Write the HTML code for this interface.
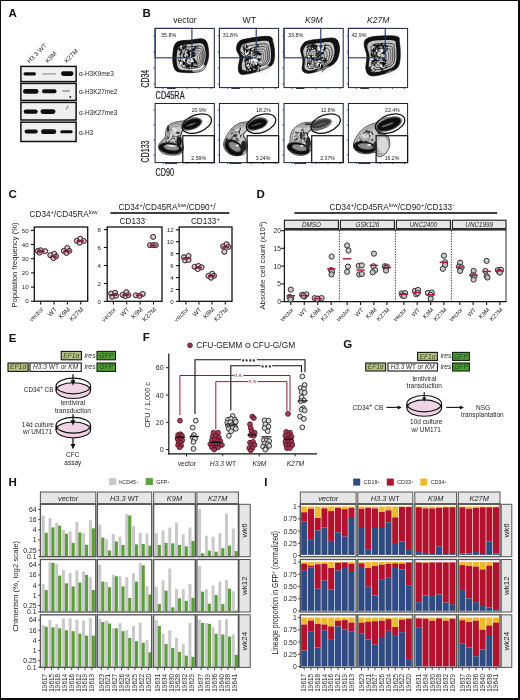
<!DOCTYPE html>
<html><head><meta charset="utf-8"><title>Figure</title>
<style>
html,body{margin:0;padding:0;background:#fff;}
.bd{position:absolute;background:#0a0a0a;}
body{width:520px;height:700px;overflow:hidden;position:relative;font-family:"Liberation Sans",sans-serif;}
svg{display:block;font-family:"Liberation Sans",sans-serif;filter:blur(0.35px);}
</style></head><body>
<svg width="520" height="700" viewBox="0 0 520 700">
<defs>
<filter id="b1" x="-20%" y="-50%" width="140%" height="200%"><feGaussianBlur stdDeviation="0.7"/></filter>
<filter id="b2" x="-20%" y="-50%" width="140%" height="200%"><feGaussianBlur stdDeviation="0.45"/></filter>
<filter id="b3" x="-20%" y="-20%" width="140%" height="140%"><feGaussianBlur stdDeviation="1.1"/></filter>
</defs>
<rect x="0.00" y="0.00" width="520.00" height="700.00" fill="#fff" stroke="none" stroke-width="1" />
<text x="8.60" y="17.20" font-size="11.5" text-anchor="start" font-weight="bold" font-style="normal" fill="#111" >A</text>
<text transform="translate(29.60,63.60) rotate(-45)" font-size="6.3" text-anchor="start" font-weight="normal" font-style="normal" fill="#222" >H3.3 WT</text>
<text transform="translate(47.80,63.20) rotate(-45)" font-size="6.3" text-anchor="start" font-weight="normal" font-style="normal" fill="#222" >K9M</text>
<text transform="translate(66.80,63.20) rotate(-45)" font-size="6.3" text-anchor="start" font-weight="normal" font-style="normal" fill="#222" >K27M</text>
<rect x="20.90" y="66.40" width="55.20" height="15.20" fill="#efefef" stroke="#111" stroke-width="1.5" />
<rect x="20.90" y="83.40" width="55.20" height="17.00" fill="#efefef" stroke="#111" stroke-width="1.5" />
<rect x="20.90" y="102.40" width="55.20" height="17.60" fill="#efefef" stroke="#111" stroke-width="1.5" />
<rect x="20.90" y="122.20" width="55.20" height="19.30" fill="#efefef" stroke="#111" stroke-width="1.5" />
<rect x="23.5" y="72.20" width="12.5" height="3.2" rx="1.6" fill="#111" opacity="1" filter="url(#b1)"/>
<rect x="42" y="73.20" width="14" height="1.4" rx="0.7" fill="#555" opacity="0.55" filter="url(#b1)"/>
<rect x="61" y="71.30" width="12.5" height="4.6" rx="2.3" fill="#111" opacity="1" filter="url(#b1)"/>
<rect x="62" y="72.10" width="10.5" height="3.0" rx="1.5" fill="#111" opacity="1" filter="url(#b1)"/>
<rect x="23" y="89.00" width="15.5" height="4.8" rx="2.4" fill="#111" opacity="1" filter="url(#b1)"/>
<rect x="24" y="89.80" width="13.5" height="3.2" rx="1.6" fill="#111" opacity="1" filter="url(#b1)"/>
<rect x="42" y="89.35" width="14.5" height="3.9" rx="1.95" fill="#111" opacity="1" filter="url(#b1)"/>
<rect x="43" y="90.20" width="12.5" height="2.2" rx="1.1" fill="#111" opacity="1" filter="url(#b1)"/>
<rect x="62" y="90.30" width="8" height="1.4" rx="0.7" fill="#555" opacity="0.6" filter="url(#b1)"/>
<circle cx="70.30" cy="97.00" r="1.0" fill="#222" stroke="none" stroke-width="1" filter="url(#b2)"/>
<rect x="23.7" y="109.40" width="14.000000000000004" height="4.4" rx="2.2" fill="#111" opacity="1" filter="url(#b1)"/>
<rect x="24.7" y="110.20" width="12.000000000000004" height="2.8" rx="1.4" fill="#111" opacity="1" filter="url(#b1)"/>
<rect x="40.5" y="109.30" width="14.899999999999999" height="4.6" rx="2.3" fill="#111" opacity="1" filter="url(#b1)"/>
<rect x="41.5" y="110.10" width="12.899999999999999" height="3.0" rx="1.5" fill="#111" opacity="1" filter="url(#b1)"/>
<line x1="66" y1="109.5" x2="68.5" y2="105.8" stroke="#777" stroke-width="1.6" opacity="0.6" filter="url(#b2)"/>
<rect x="24.6" y="129.60" width="13.100000000000001" height="4.0" rx="2.0" fill="#111" opacity="1" filter="url(#b1)"/>
<rect x="25.6" y="130.40" width="11.100000000000001" height="2.4" rx="1.2" fill="#111" opacity="1" filter="url(#b1)"/>
<rect x="41" y="129.30" width="15.299999999999997" height="4.8" rx="2.4" fill="#111" opacity="1" filter="url(#b1)"/>
<rect x="42" y="130.20" width="13.299999999999997" height="3.0" rx="1.5" fill="#111" opacity="1" filter="url(#b1)"/>
<rect x="60.2" y="130.30" width="12.5" height="3.0" rx="1.5" fill="#111" opacity="1" filter="url(#b1)"/>
<text x="79.00" y="75.80" font-size="6.5" text-anchor="start" font-weight="normal" font-style="normal" fill="#222" >α-H3K9me3</text>
<text x="79.00" y="93.80" font-size="6.5" text-anchor="start" font-weight="normal" font-style="normal" fill="#222" >α-H3K27me2</text>
<text x="79.00" y="114.60" font-size="6.5" text-anchor="start" font-weight="normal" font-style="normal" fill="#222" >α-H3K27me3</text>
<text x="79.00" y="134.90" font-size="6.5" text-anchor="start" font-weight="normal" font-style="normal" fill="#222" >α-H3</text>
<text x="142.60" y="17.00" font-size="11.5" text-anchor="start" font-weight="bold" font-style="normal" fill="#111" >B</text>
<text x="185.00" y="23.40" font-size="8.6" text-anchor="middle" font-weight="normal" font-style="normal" fill="#222" >vector</text>
<text x="249.30" y="23.40" font-size="8.6" text-anchor="middle" font-weight="normal" font-style="normal" fill="#222" >WT</text>
<text x="313.90" y="23.40" font-size="8.6" text-anchor="middle" font-weight="normal" font-style="italic" fill="#222" >K9M</text>
<text x="378.30" y="23.40" font-size="8.6" text-anchor="middle" font-weight="normal" font-style="italic" fill="#222" >K27M</text>
<text transform="translate(149.20,87.60) rotate(-90) scale(0.66,1)" font-size="10.5" text-anchor="start" font-weight="normal" font-style="normal" fill="#222" stroke="#222" stroke-width="0.2">CD34</text>
<text transform="translate(155.60,99.20) rotate(0) scale(0.7,1)" font-size="10.5" text-anchor="start" font-weight="normal" font-style="normal" fill="#222" stroke="#222" stroke-width="0.2">CD45RA</text>
<text transform="translate(149.20,162.40) rotate(-90) scale(0.67,1)" font-size="10.5" text-anchor="start" font-weight="normal" font-style="normal" fill="#222" stroke="#222" stroke-width="0.2">CD133</text>
<text transform="translate(155.60,175.80) rotate(0) scale(0.69,1)" font-size="10.5" text-anchor="start" font-weight="normal" font-style="normal" fill="#222" stroke="#222" stroke-width="0.2">CD90</text>
<path d="M176.9,42.2C179.8,40.3 185.8,40.5 190.4,40.1C195.0,39.6 201.5,37.8 204.5,39.5C207.5,41.3 208.1,46.7 208.5,50.6C209.0,54.4 208.5,59.2 207.2,62.7C205.9,66.2 205.1,69.9 200.5,71.4C195.9,73.0 184.1,73.0 179.6,72.1C175.1,71.2 174.6,69.4 173.6,66.0C172.5,62.7 172.6,55.9 173.1,51.9C173.7,47.9 174.0,44.2 176.9,42.2Z" fill="#0a0a0a" stroke="none" stroke-width="1" filter="url(#b2)"/>
<path d="M180.0,45.9C182.3,44.3 187.2,44.5 190.9,44.1C194.6,43.8 199.9,42.3 202.3,43.7C204.8,45.1 205.2,49.5 205.6,52.6C206.0,55.8 205.6,59.6 204.5,62.5C203.4,65.3 202.8,68.3 199.1,69.5C195.3,70.8 185.8,70.8 182.2,70.1C178.5,69.4 178.1,67.9 177.2,65.2C176.4,62.5 176.5,57.0 176.9,53.7C177.4,50.5 177.6,47.5 180.0,45.9Z" fill="#c2c2c2" stroke="none" stroke-width="1" filter="url(#b2)"/>
<ellipse cx="199.34" cy="68.85" rx="7.5" ry="3.6" fill="#f4f4f4" stroke="none" stroke-width="1" transform="rotate(-18 199.34 68.85)" filter="url(#b1)"/>
<path d="M176.9,42.2C179.8,40.3 185.8,40.5 190.4,40.1C195.0,39.6 201.5,37.8 204.5,39.5C207.5,41.3 208.1,46.7 208.5,50.6C209.0,54.4 208.5,59.2 207.2,62.7C205.9,66.2 205.1,69.9 200.5,71.4C195.9,73.0 184.1,73.0 179.6,72.1C175.1,71.2 174.6,69.4 173.6,66.0C172.5,62.7 172.6,55.9 173.1,51.9C173.7,47.9 174.0,44.2 176.9,42.2Z" fill="none" stroke="#111" stroke-width="0.7" />
<path d="M178.1,43.3C180.7,41.5 186.3,41.7 190.6,41.3C194.9,40.9 200.9,39.2 203.7,40.8C206.5,42.5 207.1,47.5 207.5,51.1C207.9,54.7 207.5,59.1 206.2,62.4C205.0,65.6 204.2,69.0 200.0,70.5C195.7,72.0 184.7,72.0 180.6,71.1C176.4,70.3 175.9,68.6 174.9,65.5C173.9,62.4 174.0,56.0 174.6,52.3C175.1,48.7 175.4,45.2 178.1,43.3Z" fill="none" stroke="#222" stroke-width="0.45" />
<path d="M179.1,44.3C181.6,42.6 186.8,42.8 190.8,42.4C194.8,42.0 200.5,40.4 203.1,42.0C205.7,43.5 206.2,48.2 206.6,51.6C207.0,54.9 206.6,59.1 205.4,62.1C204.3,65.1 203.6,68.4 199.6,69.7C195.6,71.1 185.3,71.1 181.4,70.3C177.5,69.5 177.1,68.0 176.2,65.0C175.2,62.1 175.3,56.2 175.8,52.7C176.3,49.3 176.6,46.0 179.1,44.3Z" fill="none" stroke="#222" stroke-width="0.4" />
<path d="M183.3,48.1C185.2,46.8 189.2,47.0 192.2,46.7C195.2,46.4 199.5,45.2 201.5,46.4C203.5,47.5 203.9,51.1 204.2,53.6C204.5,56.2 204.2,59.3 203.3,61.6C202.4,63.9 201.9,66.4 198.9,67.4C195.8,68.4 188.1,68.4 185.1,67.9C182.1,67.3 181.8,66.1 181.1,63.9C180.4,61.6 180.5,57.1 180.8,54.5C181.2,51.9 181.4,49.4 183.3,48.1Z" fill="none" stroke="#161616" stroke-width="0.8" />
<path d="M185.8,50.2C187.3,49.1 190.5,49.3 193.0,49.0C195.5,48.8 199.0,47.8 200.7,48.7C202.3,49.7 202.6,52.6 202.8,54.7C203.1,56.8 202.8,59.4 202.1,61.2C201.4,63.1 201.0,65.1 198.5,66.0C196.0,66.8 189.6,66.8 187.2,66.3C184.8,65.8 184.5,64.9 183.9,63.0C183.4,61.2 183.4,57.6 183.7,55.4C184.0,53.3 184.2,51.3 185.8,50.2Z" fill="none" stroke="#161616" stroke-width="0.7" />
<path d="M188.0,52.1C189.2,51.3 191.7,51.4 193.6,51.2C195.6,51.0 198.3,50.3 199.6,51.0C200.8,51.7 201.1,54.0 201.3,55.6C201.5,57.3 201.3,59.3 200.7,60.7C200.1,62.2 199.8,63.7 197.9,64.4C195.9,65.1 191.0,65.1 189.1,64.7C187.2,64.3 187.0,63.6 186.6,62.1C186.1,60.7 186.2,57.9 186.4,56.2C186.6,54.5 186.8,53.0 188.0,52.1Z" fill="none" stroke="#161616" stroke-width="0.6" />
<path d="M190.0,54.1C190.9,53.5 192.7,53.6 194.1,53.4C195.4,53.3 197.4,52.8 198.3,53.3C199.2,53.8 199.4,55.4 199.5,56.6C199.6,57.8 199.5,59.2 199.1,60.2C198.7,61.3 198.5,62.4 197.1,62.9C195.7,63.3 192.2,63.3 190.8,63.1C189.5,62.8 189.3,62.2 189.0,61.2C188.7,60.2 188.7,58.2 188.9,57.0C189.1,55.8 189.2,54.7 190.0,54.1Z" fill="none" stroke="#161616" stroke-width="0.5" />
<path d="M191.8,55.8C192.4,55.5 193.4,55.5 194.3,55.5C195.1,55.4 196.3,55.0 196.8,55.4C197.4,55.7 197.5,56.7 197.5,57.3C197.6,58.0 197.5,58.9 197.3,59.5C197.0,60.2 196.9,60.8 196.1,61.1C195.3,61.4 193.1,61.4 192.3,61.2C191.5,61.1 191.4,60.7 191.2,60.1C191.0,59.5 191.1,58.3 191.2,57.6C191.3,56.9 191.3,56.2 191.8,55.8Z" fill="none" stroke="#161616" stroke-width="0.4" />
<path d="M184.3,49.4q0.6,-1.7 0.3,-0.9" fill="none" stroke="#0a0a0a" stroke-width="0.9" opacity="0.9" filter="url(#b2)"/>
<path d="M193.7,50.8q-1.7,-0.3 -1.8,0.4" fill="none" stroke="#0a0a0a" stroke-width="0.9" opacity="0.9" filter="url(#b2)"/>
<path d="M192.3,48.8q-1.1,0.5 3.1,0.5" fill="none" stroke="#0a0a0a" stroke-width="1.3" opacity="0.9" filter="url(#b2)"/>
<path d="M180.0,50.9q0.2,-1.5 -0.6,0.3" fill="none" stroke="#0a0a0a" stroke-width="1.8" opacity="0.9" filter="url(#b2)"/>
<path d="M184.1,64.1q-1.3,0.3 1.0,-0.9" fill="none" stroke="#0a0a0a" stroke-width="1.8" opacity="0.9" filter="url(#b2)"/>
<path d="M190.5,58.5q0.5,-0.0 0.2,1.9" fill="none" stroke="#0a0a0a" stroke-width="1.3" opacity="0.9" filter="url(#b2)"/>
<path d="M188.5,56.1q-0.8,1.2 1.4,-1.8" fill="none" stroke="#0a0a0a" stroke-width="1.8" opacity="0.9" filter="url(#b2)"/>
<path d="M183.9,57.0q-0.6,-0.2 0.8,-3.0" fill="none" stroke="#0a0a0a" stroke-width="1.8" opacity="0.9" filter="url(#b2)"/>
<path d="M185.8,62.8q-1.4,-0.0 -3.2,1.2" fill="none" stroke="#0a0a0a" stroke-width="1.8" opacity="0.9" filter="url(#b2)"/>
<path d="M188.3,65.4q-0.7,0.8 0.7,0.6" fill="none" stroke="#0a0a0a" stroke-width="1.3" opacity="0.9" filter="url(#b2)"/>
<path d="M180.3,48.1q-0.9,0.8 -3.0,1.6" fill="none" stroke="#0a0a0a" stroke-width="1.3" opacity="0.9" filter="url(#b2)"/>
<path d="M189.5,68.0q1.3,-0.9 -0.8,1.2" fill="none" stroke="#0a0a0a" stroke-width="0.9" opacity="0.9" filter="url(#b2)"/>
<path d="M194.2,53.9q0.4,-0.0 -2.0,-1.5" fill="none" stroke="#0a0a0a" stroke-width="1.8" opacity="0.9" filter="url(#b2)"/>
<path d="M183.1,54.7q1.5,-1.7 -0.4,0.3" fill="none" stroke="#0a0a0a" stroke-width="0.9" opacity="0.9" filter="url(#b2)"/>
<path d="M192.2,65.2q-0.9,-0.3 -1.0,2.7" fill="none" stroke="#0a0a0a" stroke-width="0.9" opacity="0.9" filter="url(#b2)"/>
<path d="M181.6,50.0q-1.1,-1.1 -0.1,0.6" fill="none" stroke="#0a0a0a" stroke-width="1.3" opacity="0.9" filter="url(#b2)"/>
<path d="M183.7,49.3q0.1,0.4 -1.3,-2.6" fill="none" stroke="#0a0a0a" stroke-width="1.8" opacity="0.9" filter="url(#b2)"/>
<path d="M194.3,60.6q1.0,-0.2 2.6,3.2" fill="none" stroke="#0a0a0a" stroke-width="1.8" opacity="0.9" filter="url(#b2)"/>
<path d="M191.9,54.7q-0.4,-1.6 0.9,-3.1" fill="none" stroke="#0a0a0a" stroke-width="0.9" opacity="0.9" filter="url(#b2)"/>
<path d="M194.9,55.8q-1.6,0.4 -2.8,0.5" fill="none" stroke="#0a0a0a" stroke-width="1.8" opacity="0.9" filter="url(#b2)"/>
<path d="M180.8,54.1q-1.9,1.5 0.8,-2.5" fill="none" stroke="#0a0a0a" stroke-width="1.3" opacity="0.9" filter="url(#b2)"/>
<path d="M194.4,59.4q-0.1,-1.5 -0.1,3.3" fill="none" stroke="#0a0a0a" stroke-width="1.3" opacity="0.9" filter="url(#b2)"/>
<path d="M186.9,48.0q-1.6,-0.6 -1.6,2.3" fill="none" stroke="#0a0a0a" stroke-width="0.9" opacity="0.9" filter="url(#b2)"/>
<path d="M187.4,50.6q1.8,-0.6 1.3,2.9" fill="none" stroke="#0a0a0a" stroke-width="1.8" opacity="0.9" filter="url(#b2)"/>
<path d="M183.9,60.3q-1.6,1.4 0.1,2.9" fill="none" stroke="#0a0a0a" stroke-width="1.3" opacity="0.9" filter="url(#b2)"/>
<path d="M191.5,57.8q1.1,-0.7 -1.9,2.2" fill="none" stroke="#0a0a0a" stroke-width="0.9" opacity="0.9" filter="url(#b2)"/>
<path d="M192.0,64.2q1.0,-1.1 0.1,-1.0" fill="none" stroke="#0a0a0a" stroke-width="0.9" opacity="0.9" filter="url(#b2)"/>
<path d="M194.9,63.5q-0.1,-1.2 0.7,-1.1" fill="none" stroke="#0a0a0a" stroke-width="1.8" opacity="0.9" filter="url(#b2)"/>
<path d="M194.9,67.2q-0.5,-1.1 -1.9,-2.1" fill="none" stroke="#0a0a0a" stroke-width="0.9" opacity="0.9" filter="url(#b2)"/>
<path d="M186.9,67.9q0.4,-2.0 2.9,-1.1" fill="none" stroke="#0a0a0a" stroke-width="1.8" opacity="0.9" filter="url(#b2)"/>
<path d="M180.5,60.7q1.6,1.1 1.8,-0.2" fill="none" stroke="#0a0a0a" stroke-width="0.9" opacity="0.9" filter="url(#b2)"/>
<path d="M186.1,60.1q-1.7,1.8 1.6,-0.3" fill="none" stroke="#0a0a0a" stroke-width="1.8" opacity="0.9" filter="url(#b2)"/>
<path d="M194.2,62.1q-1.3,-1.5 -2.4,2.8" fill="none" stroke="#0a0a0a" stroke-width="1.8" opacity="0.9" filter="url(#b2)"/>
<path d="M181.5,64.4q1.9,0.6 -1.0,0.3" fill="none" stroke="#0a0a0a" stroke-width="0.9" opacity="0.9" filter="url(#b2)"/>
<path d="M179.5,63.8q0.9,-1.6 1.7,-2.5" fill="none" stroke="#0a0a0a" stroke-width="0.9" opacity="0.9" filter="url(#b2)"/>
<path d="M192.3,50.7q-1.0,-0.8 -1.8,0.6" fill="none" stroke="#0a0a0a" stroke-width="1.3" opacity="0.9" filter="url(#b2)"/>
<path d="M187.8,64.5q-1.8,1.0 2.8,1.1" fill="none" stroke="#0a0a0a" stroke-width="1.8" opacity="0.9" filter="url(#b2)"/>
<path d="M185.9,66.4q0.0,0.1 0.2,-3.4" fill="none" stroke="#0a0a0a" stroke-width="1.3" opacity="0.9" filter="url(#b2)"/>
<path d="M191.5,59.5q1.1,-1.4 -2.5,0.8" fill="none" stroke="#0a0a0a" stroke-width="0.9" opacity="0.9" filter="url(#b2)"/>
<path d="M188.0,53.3q0.1,0.2 2.0,-2.8" fill="none" stroke="#0a0a0a" stroke-width="1.8" opacity="0.9" filter="url(#b2)"/>
<path d="M180.1,50.3q-1.8,-1.6 -0.3,-3.3" fill="none" stroke="#0a0a0a" stroke-width="0.9" opacity="0.9" filter="url(#b2)"/>
<path d="M186.2,59.6q0.0,0.0 1.3,-0.3" fill="none" stroke="#0a0a0a" stroke-width="1.8" opacity="0.9" filter="url(#b2)"/>
<path d="M192.0,57.3q-1.0,0.1 2.6,3.0" fill="none" stroke="#0a0a0a" stroke-width="1.8" opacity="0.9" filter="url(#b2)"/>
<path d="M193.4,50.5q-0.2,-0.3 -0.8,-1.3" fill="none" stroke="#0a0a0a" stroke-width="1.8" opacity="0.9" filter="url(#b2)"/>
<path d="M183.0,47.7q0.7,1.1 2.8,-2.4" fill="none" stroke="#0a0a0a" stroke-width="1.8" opacity="0.9" filter="url(#b2)"/>
<path d="M189.4,54.2q-1.0,-1.5 -0.2,1.7" fill="none" stroke="#0a0a0a" stroke-width="0.9" opacity="0.9" filter="url(#b2)"/>
<path d="M185.5,56.8q2.0,1.3 -2.4,-0.5" fill="none" stroke="#0a0a0a" stroke-width="1.8" opacity="0.9" filter="url(#b2)"/>
<path d="M185.6,55.4q-0.6,-1.6 -0.9,-1.1" fill="none" stroke="#0a0a0a" stroke-width="1.3" opacity="0.9" filter="url(#b2)"/>
<path d="M186.2,46.5q-0.7,0.5 0.1,-3.0" fill="none" stroke="#0a0a0a" stroke-width="0.9" opacity="0.9" filter="url(#b2)"/>
<path d="M194.6,48.4q-0.9,-1.8 2.0,-1.6" fill="none" stroke="#0a0a0a" stroke-width="0.9" opacity="0.9" filter="url(#b2)"/>
<path d="M192.2,64.9q0.7,1.8 -0.7,0.3" fill="none" stroke="#0a0a0a" stroke-width="1.8" opacity="0.9" filter="url(#b2)"/>
<path d="M188.3,61.6q-1.6,-1.8 1.3,-0.5" fill="none" stroke="#0a0a0a" stroke-width="0.9" opacity="0.9" filter="url(#b2)"/>
<path d="M183.5,46.4q-1.6,-1.0 0.8,-1.9" fill="none" stroke="#0a0a0a" stroke-width="1.3" opacity="0.9" filter="url(#b2)"/>
<path d="M192.9,56.1q-0.6,0.2 3.0,-1.6" fill="none" stroke="#0a0a0a" stroke-width="0.9" opacity="0.9" filter="url(#b2)"/>
<path d="M179.9,61.8q1.8,1.9 -1.7,-2.2" fill="none" stroke="#0a0a0a" stroke-width="1.3" opacity="0.9" filter="url(#b2)"/>
<path d="M189.2,57.8q-1.2,-0.2 1.2,-1.6" fill="none" stroke="#0a0a0a" stroke-width="0.9" opacity="0.9" filter="url(#b2)"/>
<path d="M195.0,46.9q-1.9,0.0 3.3,0.1" fill="none" stroke="#0a0a0a" stroke-width="0.9" opacity="0.9" filter="url(#b2)"/>
<path d="M194.1,48.4q1.3,-0.3 -0.0,2.3" fill="none" stroke="#0a0a0a" stroke-width="1.3" opacity="0.9" filter="url(#b2)"/>
<path d="M194.6,52.9q-1.1,-1.1 -2.1,2.7" fill="none" stroke="#0a0a0a" stroke-width="1.8" opacity="0.9" filter="url(#b2)"/>
<path d="M189.3,55.0q-0.6,-1.8 -2.6,-3.0" fill="none" stroke="#0a0a0a" stroke-width="1.8" opacity="0.9" filter="url(#b2)"/>
<path d="M193.2,55.6q-1.8,0.7 -0.8,0.0" fill="none" stroke="#0a0a0a" stroke-width="1.3" opacity="0.9" filter="url(#b2)"/>
<path d="M188.7,61.4q-1.8,-1.3 -1.6,-3.5" fill="none" stroke="#0a0a0a" stroke-width="1.3" opacity="0.9" filter="url(#b2)"/>
<path d="M194.5,67.6q0.2,-1.0 3.3,-1.3" fill="none" stroke="#0a0a0a" stroke-width="1.3" opacity="0.9" filter="url(#b2)"/>
<path d="M182.1,53.5q-1.7,-0.9 1.1,-1.8" fill="none" stroke="#0a0a0a" stroke-width="0.9" opacity="0.9" filter="url(#b2)"/>
<path d="M181.5,63.6q-1.1,0.3 -0.6,-1.1" fill="none" stroke="#f2f2f2" stroke-width="1.9" filter="url(#b2)" stroke-linecap="round"/>
<path d="M183.5,59.1q0.1,0.8 0.9,1.2" fill="none" stroke="#f2f2f2" stroke-width="1.9" filter="url(#b2)" stroke-linecap="round"/>
<path d="M185.7,54.1q1.5,-1.1 1.3,0.8" fill="none" stroke="#f2f2f2" stroke-width="1.0" filter="url(#b2)" stroke-linecap="round"/>
<path d="M191.9,61.7q0.0,-0.2 1.1,0.0" fill="none" stroke="#f2f2f2" stroke-width="1.9" filter="url(#b2)" stroke-linecap="round"/>
<path d="M190.9,58.8q0.9,-1.5 1.0,1.7" fill="none" stroke="#f2f2f2" stroke-width="1.9" filter="url(#b2)" stroke-linecap="round"/>
<path d="M189.9,61.2q-0.8,-1.4 -2.1,-0.8" fill="none" stroke="#f2f2f2" stroke-width="1.0" filter="url(#b2)" stroke-linecap="round"/>
<path d="M185.6,56.5q-1.3,-1.4 0.2,-1.4" fill="none" stroke="#f2f2f2" stroke-width="1.4" filter="url(#b2)" stroke-linecap="round"/>
<path d="M180.3,63.3q0.7,0.0 0.2,0.9" fill="none" stroke="#f2f2f2" stroke-width="1.0" filter="url(#b2)" stroke-linecap="round"/>
<path d="M190.8,56.9q0.9,1.0 -1.5,1.4" fill="none" stroke="#f2f2f2" stroke-width="1.0" filter="url(#b2)" stroke-linecap="round"/>
<path d="M190.7,66.7q-0.0,-0.4 -0.1,1.0" fill="none" stroke="#f2f2f2" stroke-width="1.0" filter="url(#b2)" stroke-linecap="round"/>
<path d="M189.0,60.2q-1.3,-1.1 -1.4,1.4" fill="none" stroke="#f2f2f2" stroke-width="1.4" filter="url(#b2)" stroke-linecap="round"/>
<path d="M189.0,50.3q-0.1,-0.0 2.6,-2.2" fill="none" stroke="#f2f2f2" stroke-width="1.0" filter="url(#b2)" stroke-linecap="round"/>
<rect x="155.10" y="28.40" width="59.20" height="59.20" fill="none" stroke="#1b2140" stroke-width="1.0" />
<rect x="155.10" y="28.40" width="36.80" height="29.40" fill="none" stroke="#27345e" stroke-width="1.1" />
<line x1="153.50" y1="36.00" x2="155.10" y2="36.00" stroke="#1b2140" stroke-width="0.7" />
<line x1="153.50" y1="52.00" x2="155.10" y2="52.00" stroke="#1b2140" stroke-width="0.7" />
<line x1="153.50" y1="68.00" x2="155.10" y2="68.00" stroke="#1b2140" stroke-width="0.7" />
<line x1="153.50" y1="84.00" x2="155.10" y2="84.00" stroke="#1b2140" stroke-width="0.7" />
<line x1="163.10" y1="87.60" x2="163.10" y2="89.00" stroke="#1b2140" stroke-width="0.7" />
<line x1="175.10" y1="87.60" x2="175.10" y2="89.00" stroke="#1b2140" stroke-width="0.7" />
<line x1="187.10" y1="87.60" x2="187.10" y2="89.00" stroke="#1b2140" stroke-width="0.7" />
<line x1="199.10" y1="87.60" x2="199.10" y2="89.00" stroke="#1b2140" stroke-width="0.7" />
<line x1="211.10" y1="87.60" x2="211.10" y2="89.00" stroke="#1b2140" stroke-width="0.7" />
<line x1="167.10" y1="88.50" x2="175.10" y2="88.50" stroke="#1b2140" stroke-width="0.9" />
<path d="M239.2,41.4C241.2,39.6 243.7,39.3 248.6,38.5C253.6,37.6 264.8,35.8 268.8,36.4C272.9,37.1 272.2,39.2 273.1,42.5C274.1,45.7 274.8,52.1 274.5,56.0C274.2,59.8 274.0,62.9 271.5,65.4C269.0,67.9 264.3,69.5 259.4,71.0C254.5,72.5 245.4,74.9 241.9,74.4C238.4,73.9 238.6,70.9 238.3,68.1C237.9,65.2 240.2,60.4 239.9,57.3C239.6,54.2 236.6,51.9 236.5,49.2C236.4,46.6 237.2,43.2 239.2,41.4Z" fill="#0a0a0a" stroke="none" stroke-width="1" filter="url(#b2)"/>
<path d="M242.5,44.8C244.1,43.3 246.1,43.1 250.1,42.4C254.1,41.7 263.2,40.2 266.5,40.8C269.8,41.3 269.2,43.0 269.9,45.7C270.7,48.3 271.3,53.5 271.0,56.6C270.8,59.7 270.7,62.2 268.6,64.2C266.6,66.2 262.8,67.6 258.8,68.8C254.8,70.0 247.5,71.9 244.7,71.5C241.8,71.1 242.0,68.7 241.7,66.4C241.4,64.1 243.3,60.2 243.0,57.7C242.8,55.1 240.4,53.3 240.3,51.1C240.2,49.0 240.8,46.3 242.5,44.8Z" fill="#c2c2c2" stroke="none" stroke-width="1" filter="url(#b2)"/>
<ellipse cx="263.86" cy="69.84" rx="7.5" ry="3.8" fill="#f4f4f4" stroke="none" stroke-width="1" transform="rotate(-18 263.86 69.84)" filter="url(#b1)"/>
<path d="M239.2,41.4C241.2,39.6 243.7,39.3 248.6,38.5C253.6,37.6 264.8,35.8 268.8,36.4C272.9,37.1 272.2,39.2 273.1,42.5C274.1,45.7 274.8,52.1 274.5,56.0C274.2,59.8 274.0,62.9 271.5,65.4C269.0,67.9 264.3,69.5 259.4,71.0C254.5,72.5 245.4,74.9 241.9,74.4C238.4,73.9 238.6,70.9 238.3,68.1C237.9,65.2 240.2,60.4 239.9,57.3C239.6,54.2 236.6,51.9 236.5,49.2C236.4,46.6 237.2,43.2 239.2,41.4Z" fill="none" stroke="#111" stroke-width="0.7" />
<path d="M240.4,42.5C242.3,40.9 244.6,40.6 249.2,39.8C253.8,39.0 264.2,37.3 268.0,37.9C271.8,38.5 271.1,40.5 272.0,43.5C272.9,46.6 273.5,52.5 273.2,56.1C273.0,59.6 272.8,62.5 270.5,64.8C268.2,67.2 263.8,68.7 259.2,70.1C254.6,71.5 246.2,73.7 243.0,73.2C239.7,72.7 239.9,70.0 239.6,67.3C239.3,64.7 241.3,60.2 241.1,57.3C240.8,54.4 238.0,52.3 237.9,49.8C237.8,47.3 238.6,44.2 240.4,42.5Z" fill="none" stroke="#222" stroke-width="0.45" />
<path d="M241.5,43.5C243.3,42.0 245.4,41.7 249.7,41.0C254.0,40.2 263.7,38.6 267.3,39.2C270.8,39.8 270.2,41.6 271.0,44.5C271.8,47.3 272.4,52.9 272.2,56.2C272.0,59.5 271.8,62.2 269.6,64.4C267.4,66.6 263.4,68.0 259.1,69.3C254.8,70.6 246.9,72.6 243.9,72.2C240.8,71.8 241.0,69.2 240.7,66.7C240.4,64.2 242.4,60.1 242.1,57.3C241.9,54.6 239.3,52.6 239.2,50.3C239.1,48.0 239.8,45.1 241.5,43.5Z" fill="none" stroke="#222" stroke-width="0.4" />
<path d="M246.0,47.2C247.3,46.1 248.9,45.8 252.2,45.3C255.5,44.7 262.8,43.5 265.5,44.0C268.2,44.4 267.7,45.8 268.4,47.9C269.0,50.1 269.4,54.3 269.3,56.8C269.1,59.3 269.0,61.4 267.3,63.0C265.6,64.7 262.6,65.8 259.3,66.8C256.1,67.8 250.1,69.3 247.8,69.0C245.4,68.7 245.6,66.7 245.4,64.8C245.1,62.9 246.6,59.8 246.4,57.7C246.2,55.6 244.3,54.1 244.2,52.4C244.1,50.6 244.7,48.4 246.0,47.2Z" fill="none" stroke="#161616" stroke-width="0.8" />
<path d="M248.5,49.3C249.6,48.3 251.0,48.1 253.6,47.7C256.3,47.2 262.3,46.2 264.5,46.6C266.7,46.9 266.3,48.1 266.8,49.8C267.4,51.6 267.7,55.1 267.6,57.1C267.4,59.2 267.3,60.8 266.0,62.2C264.6,63.6 262.1,64.4 259.4,65.3C256.8,66.1 251.9,67.3 250.0,67.1C248.1,66.8 248.2,65.2 248.0,63.7C247.8,62.1 249.1,59.5 248.9,57.8C248.7,56.1 247.1,54.9 247.1,53.5C247.0,52.1 247.4,50.2 248.5,49.3Z" fill="none" stroke="#161616" stroke-width="0.7" />
<path d="M250.9,51.2C251.7,50.4 252.8,50.3 254.8,50.0C256.9,49.6 261.6,48.8 263.3,49.1C265.0,49.4 264.7,50.3 265.1,51.7C265.5,53.0 265.8,55.7 265.7,57.3C265.6,58.9 265.5,60.2 264.5,61.3C263.4,62.3 261.4,63.0 259.4,63.6C257.3,64.3 253.5,65.3 252.0,65.1C250.5,64.8 250.6,63.6 250.5,62.4C250.3,61.2 251.3,59.2 251.2,57.9C251.0,56.6 249.8,55.6 249.8,54.5C249.7,53.4 250.0,52.0 250.9,51.2Z" fill="none" stroke="#161616" stroke-width="0.6" />
<path d="M253.0,53.1C253.6,52.6 254.4,52.5 255.9,52.3C257.3,52.0 260.7,51.4 261.9,51.6C263.1,51.8 262.9,52.5 263.2,53.5C263.5,54.4 263.7,56.4 263.6,57.5C263.5,58.6 263.5,59.6 262.7,60.3C262.0,61.1 260.6,61.6 259.1,62.0C257.6,62.5 254.9,63.2 253.8,63.0C252.8,62.9 252.9,62.0 252.8,61.1C252.7,60.3 253.3,58.8 253.2,57.9C253.1,57.0 252.3,56.3 252.2,55.5C252.2,54.7 252.4,53.7 253.0,53.1Z" fill="none" stroke="#161616" stroke-width="0.5" />
<path d="M255.0,54.9C255.3,54.6 255.8,54.5 256.7,54.4C257.6,54.2 259.6,53.9 260.3,54.0C261.1,54.1 260.9,54.5 261.1,55.1C261.3,55.7 261.4,56.8 261.3,57.5C261.3,58.2 261.3,58.8 260.8,59.2C260.3,59.7 259.5,60.0 258.6,60.2C257.7,60.5 256.1,60.9 255.5,60.8C254.8,60.7 254.9,60.2 254.8,59.7C254.8,59.2 255.2,58.3 255.1,57.8C255.1,57.2 254.5,56.8 254.5,56.3C254.5,55.8 254.6,55.2 255.0,54.9Z" fill="none" stroke="#161616" stroke-width="0.4" />
<path d="M254.5,51.5q0.1,-0.1 -0.2,-2.7" fill="none" stroke="#0a0a0a" stroke-width="1.8" opacity="0.9" filter="url(#b2)"/>
<path d="M246.4,69.3q1.7,-1.9 -0.3,2.2" fill="none" stroke="#0a0a0a" stroke-width="1.3" opacity="0.9" filter="url(#b2)"/>
<path d="M260.0,54.0q1.7,1.7 -3.0,-2.9" fill="none" stroke="#0a0a0a" stroke-width="1.8" opacity="0.9" filter="url(#b2)"/>
<path d="M251.9,68.6q-1.5,1.3 0.1,2.7" fill="none" stroke="#0a0a0a" stroke-width="1.8" opacity="0.9" filter="url(#b2)"/>
<path d="M249.2,56.9q1.5,-0.4 -2.4,3.1" fill="none" stroke="#0a0a0a" stroke-width="1.8" opacity="0.9" filter="url(#b2)"/>
<path d="M250.7,51.8q-1.4,-0.6 -1.3,2.4" fill="none" stroke="#0a0a0a" stroke-width="0.9" opacity="0.9" filter="url(#b2)"/>
<path d="M248.5,52.8q-0.4,1.8 -2.1,-3.4" fill="none" stroke="#0a0a0a" stroke-width="1.8" opacity="0.9" filter="url(#b2)"/>
<path d="M247.9,53.6q-0.4,2.0 0.6,-1.0" fill="none" stroke="#0a0a0a" stroke-width="1.3" opacity="0.9" filter="url(#b2)"/>
<path d="M255.9,66.1q-0.9,-1.8 1.1,0.9" fill="none" stroke="#0a0a0a" stroke-width="0.9" opacity="0.9" filter="url(#b2)"/>
<path d="M247.2,50.9q0.0,-1.2 -0.9,3.2" fill="none" stroke="#0a0a0a" stroke-width="0.9" opacity="0.9" filter="url(#b2)"/>
<path d="M256.9,60.3q1.7,1.8 0.3,1.5" fill="none" stroke="#0a0a0a" stroke-width="0.9" opacity="0.9" filter="url(#b2)"/>
<path d="M258.9,54.6q0.5,-1.4 2.6,-0.1" fill="none" stroke="#0a0a0a" stroke-width="1.8" opacity="0.9" filter="url(#b2)"/>
<path d="M245.2,56.2q-0.6,-0.8 1.7,3.3" fill="none" stroke="#0a0a0a" stroke-width="1.3" opacity="0.9" filter="url(#b2)"/>
<path d="M249.9,50.2q-0.1,0.7 -2.7,1.0" fill="none" stroke="#0a0a0a" stroke-width="0.9" opacity="0.9" filter="url(#b2)"/>
<path d="M246.5,67.4q-0.0,-1.1 2.8,3.5" fill="none" stroke="#0a0a0a" stroke-width="1.3" opacity="0.9" filter="url(#b2)"/>
<path d="M250.3,58.2q-1.0,-1.3 0.4,-1.3" fill="none" stroke="#0a0a0a" stroke-width="1.3" opacity="0.9" filter="url(#b2)"/>
<path d="M247.4,58.7q1.5,1.0 -0.6,-0.6" fill="none" stroke="#0a0a0a" stroke-width="1.8" opacity="0.9" filter="url(#b2)"/>
<path d="M246.6,51.0q1.0,-0.0 0.5,-1.0" fill="none" stroke="#0a0a0a" stroke-width="1.8" opacity="0.9" filter="url(#b2)"/>
<path d="M251.6,60.3q1.5,-1.1 -1.6,-1.8" fill="none" stroke="#0a0a0a" stroke-width="1.3" opacity="0.9" filter="url(#b2)"/>
<path d="M254.0,55.2q-0.8,1.3 3.3,-2.6" fill="none" stroke="#0a0a0a" stroke-width="1.3" opacity="0.9" filter="url(#b2)"/>
<path d="M255.1,67.1q-0.1,0.3 -3.5,-0.8" fill="none" stroke="#0a0a0a" stroke-width="1.8" opacity="0.9" filter="url(#b2)"/>
<path d="M257.6,69.1q-1.0,-1.6 -2.4,0.2" fill="none" stroke="#0a0a0a" stroke-width="1.8" opacity="0.9" filter="url(#b2)"/>
<path d="M244.8,65.3q0.8,1.4 2.8,-2.9" fill="none" stroke="#0a0a0a" stroke-width="0.9" opacity="0.9" filter="url(#b2)"/>
<path d="M243.0,47.3q0.3,-1.8 1.5,3.2" fill="none" stroke="#0a0a0a" stroke-width="1.8" opacity="0.9" filter="url(#b2)"/>
<path d="M247.3,60.5q0.8,-1.6 -3.0,0.2" fill="none" stroke="#0a0a0a" stroke-width="1.8" opacity="0.9" filter="url(#b2)"/>
<path d="M246.3,50.8q1.2,-2.0 0.3,3.5" fill="none" stroke="#0a0a0a" stroke-width="1.3" opacity="0.9" filter="url(#b2)"/>
<path d="M259.4,60.7q1.5,-0.1 -1.9,-1.8" fill="none" stroke="#0a0a0a" stroke-width="1.3" opacity="0.9" filter="url(#b2)"/>
<path d="M255.0,52.0q-1.9,-0.0 1.2,-0.6" fill="none" stroke="#0a0a0a" stroke-width="1.3" opacity="0.9" filter="url(#b2)"/>
<path d="M246.9,55.0q-0.5,-0.0 1.4,1.5" fill="none" stroke="#0a0a0a" stroke-width="1.3" opacity="0.9" filter="url(#b2)"/>
<path d="M254.6,49.1q1.2,1.0 0.0,-2.1" fill="none" stroke="#0a0a0a" stroke-width="0.9" opacity="0.9" filter="url(#b2)"/>
<path d="M248.3,65.2q-1.1,-1.1 1.8,-1.4" fill="none" stroke="#0a0a0a" stroke-width="1.8" opacity="0.9" filter="url(#b2)"/>
<path d="M251.5,48.9q-1.1,-0.3 1.2,3.1" fill="none" stroke="#0a0a0a" stroke-width="0.9" opacity="0.9" filter="url(#b2)"/>
<path d="M258.7,45.4q-1.9,0.4 -0.6,1.5" fill="none" stroke="#0a0a0a" stroke-width="0.9" opacity="0.9" filter="url(#b2)"/>
<path d="M249.7,67.2q1.5,0.9 3.5,3.0" fill="none" stroke="#0a0a0a" stroke-width="1.3" opacity="0.9" filter="url(#b2)"/>
<path d="M246.2,60.9q0.1,-0.1 -1.3,1.6" fill="none" stroke="#0a0a0a" stroke-width="1.3" opacity="0.9" filter="url(#b2)"/>
<path d="M259.8,55.4q-1.6,-1.7 -2.9,-0.6" fill="none" stroke="#0a0a0a" stroke-width="0.9" opacity="0.9" filter="url(#b2)"/>
<path d="M252.6,63.6q-0.5,1.1 -1.3,2.1" fill="none" stroke="#0a0a0a" stroke-width="0.9" opacity="0.9" filter="url(#b2)"/>
<path d="M243.8,56.3q-0.5,1.7 -2.1,-1.0" fill="none" stroke="#0a0a0a" stroke-width="1.3" opacity="0.9" filter="url(#b2)"/>
<path d="M243.5,54.6q1.2,1.1 -3.2,-3.3" fill="none" stroke="#0a0a0a" stroke-width="0.9" opacity="0.9" filter="url(#b2)"/>
<path d="M256.7,45.6q-1.2,-1.7 0.7,-1.0" fill="none" stroke="#0a0a0a" stroke-width="1.3" opacity="0.9" filter="url(#b2)"/>
<path d="M259.3,60.0q-1.0,0.9 -1.3,-1.6" fill="none" stroke="#0a0a0a" stroke-width="0.9" opacity="0.9" filter="url(#b2)"/>
<path d="M255.3,59.4q1.2,1.8 -3.0,2.3" fill="none" stroke="#0a0a0a" stroke-width="0.9" opacity="0.9" filter="url(#b2)"/>
<path d="M251.1,68.7q1.8,-0.5 -1.7,-0.5" fill="none" stroke="#0a0a0a" stroke-width="1.3" opacity="0.9" filter="url(#b2)"/>
<path d="M245.3,56.8q-2.0,1.7 -1.4,1.3" fill="none" stroke="#0a0a0a" stroke-width="0.9" opacity="0.9" filter="url(#b2)"/>
<path d="M253.4,52.5q-0.7,-0.6 2.0,-2.9" fill="none" stroke="#0a0a0a" stroke-width="0.9" opacity="0.9" filter="url(#b2)"/>
<path d="M249.7,48.2q-0.4,0.6 -0.1,0.3" fill="none" stroke="#0a0a0a" stroke-width="0.9" opacity="0.9" filter="url(#b2)"/>
<path d="M259.7,66.8q2.0,-0.9 -2.9,-2.8" fill="none" stroke="#0a0a0a" stroke-width="1.3" opacity="0.9" filter="url(#b2)"/>
<path d="M259.9,69.1q-1.3,-1.5 -0.3,2.7" fill="none" stroke="#0a0a0a" stroke-width="0.9" opacity="0.9" filter="url(#b2)"/>
<path d="M255.8,65.9q0.7,-1.5 2.4,-1.4" fill="none" stroke="#0a0a0a" stroke-width="1.8" opacity="0.9" filter="url(#b2)"/>
<path d="M247.6,50.6q-1.0,-0.2 -2.2,-1.9" fill="none" stroke="#0a0a0a" stroke-width="1.3" opacity="0.9" filter="url(#b2)"/>
<path d="M258.1,59.0q-0.7,-0.4 3.4,0.1" fill="none" stroke="#0a0a0a" stroke-width="0.9" opacity="0.9" filter="url(#b2)"/>
<path d="M254.1,46.6q-0.1,-1.9 -3.5,2.7" fill="none" stroke="#0a0a0a" stroke-width="0.9" opacity="0.9" filter="url(#b2)"/>
<path d="M257.3,67.6q-1.8,-0.8 -2.7,-2.2" fill="none" stroke="#0a0a0a" stroke-width="1.8" opacity="0.9" filter="url(#b2)"/>
<path d="M246.3,46.0q0.1,-1.3 0.7,1.9" fill="none" stroke="#0a0a0a" stroke-width="1.8" opacity="0.9" filter="url(#b2)"/>
<path d="M259.1,46.8q0.4,0.5 -2.0,-0.9" fill="none" stroke="#0a0a0a" stroke-width="0.9" opacity="0.9" filter="url(#b2)"/>
<path d="M243.7,69.8q-1.8,0.9 2.9,2.2" fill="none" stroke="#0a0a0a" stroke-width="1.3" opacity="0.9" filter="url(#b2)"/>
<path d="M250.0,53.6q0.5,-1.7 -3.3,-0.0" fill="none" stroke="#0a0a0a" stroke-width="1.3" opacity="0.9" filter="url(#b2)"/>
<path d="M244.1,46.6q-0.4,0.2 1.0,-2.9" fill="none" stroke="#0a0a0a" stroke-width="0.9" opacity="0.9" filter="url(#b2)"/>
<path d="M249.8,51.0q2.0,0.7 -0.6,-3.1" fill="none" stroke="#0a0a0a" stroke-width="1.8" opacity="0.9" filter="url(#b2)"/>
<path d="M252.7,53.2q-0.3,1.5 3.5,-1.0" fill="none" stroke="#0a0a0a" stroke-width="0.9" opacity="0.9" filter="url(#b2)"/>
<path d="M249.7,54.5q1.8,-0.3 -2.4,-2.7" fill="none" stroke="#0a0a0a" stroke-width="0.9" opacity="0.9" filter="url(#b2)"/>
<path d="M249.9,66.8q-0.2,-1.3 -3.4,0.4" fill="none" stroke="#0a0a0a" stroke-width="1.8" opacity="0.9" filter="url(#b2)"/>
<path d="M256.8,54.3q0.3,1.7 1.7,-2.3" fill="none" stroke="#0a0a0a" stroke-width="1.3" opacity="0.9" filter="url(#b2)"/>
<path d="M247.8,57.5q1.7,-1.6 -0.1,2.1" fill="none" stroke="#0a0a0a" stroke-width="0.9" opacity="0.9" filter="url(#b2)"/>
<path d="M248.7,65.0q-1.4,1.2 -1.0,0.6" fill="none" stroke="#f2f2f2" stroke-width="1.9" filter="url(#b2)" stroke-linecap="round"/>
<path d="M250.0,66.5q0.4,1.0 -1.9,1.6" fill="none" stroke="#f2f2f2" stroke-width="1.0" filter="url(#b2)" stroke-linecap="round"/>
<path d="M253.6,59.9q-0.9,-0.1 0.4,-2.6" fill="none" stroke="#f2f2f2" stroke-width="1.9" filter="url(#b2)" stroke-linecap="round"/>
<path d="M246.5,54.1q-1.1,1.4 1.8,-1.7" fill="none" stroke="#f2f2f2" stroke-width="1.9" filter="url(#b2)" stroke-linecap="round"/>
<path d="M256.9,61.2q0.5,-0.5 -0.6,-0.2" fill="none" stroke="#f2f2f2" stroke-width="1.9" filter="url(#b2)" stroke-linecap="round"/>
<path d="M255.9,60.7q-0.6,-0.8 -0.6,-0.7" fill="none" stroke="#f2f2f2" stroke-width="1.9" filter="url(#b2)" stroke-linecap="round"/>
<path d="M250.8,46.5q0.4,-0.0 -1.5,1.5" fill="none" stroke="#f2f2f2" stroke-width="1.4" filter="url(#b2)" stroke-linecap="round"/>
<path d="M256.8,64.4q-0.3,-1.3 -0.8,-0.8" fill="none" stroke="#f2f2f2" stroke-width="1.4" filter="url(#b2)" stroke-linecap="round"/>
<path d="M251.8,60.9q-1.4,-1.1 2.4,-1.0" fill="none" stroke="#f2f2f2" stroke-width="1.9" filter="url(#b2)" stroke-linecap="round"/>
<path d="M251.9,47.2q0.0,-0.4 2.5,-2.0" fill="none" stroke="#f2f2f2" stroke-width="1.0" filter="url(#b2)" stroke-linecap="round"/>
<path d="M259.2,62.6q0.9,-0.9 2.7,-0.0" fill="none" stroke="#f2f2f2" stroke-width="1.0" filter="url(#b2)" stroke-linecap="round"/>
<path d="M254.5,62.3q-0.8,1.0 0.6,-1.4" fill="none" stroke="#f2f2f2" stroke-width="1.4" filter="url(#b2)" stroke-linecap="round"/>
<rect x="219.40" y="28.40" width="59.20" height="59.20" fill="none" stroke="#1b2140" stroke-width="1.0" />
<rect x="219.40" y="28.40" width="36.80" height="29.40" fill="none" stroke="#27345e" stroke-width="1.1" />
<line x1="217.80" y1="36.00" x2="219.40" y2="36.00" stroke="#1b2140" stroke-width="0.7" />
<line x1="217.80" y1="52.00" x2="219.40" y2="52.00" stroke="#1b2140" stroke-width="0.7" />
<line x1="217.80" y1="68.00" x2="219.40" y2="68.00" stroke="#1b2140" stroke-width="0.7" />
<line x1="217.80" y1="84.00" x2="219.40" y2="84.00" stroke="#1b2140" stroke-width="0.7" />
<line x1="227.40" y1="87.60" x2="227.40" y2="89.00" stroke="#1b2140" stroke-width="0.7" />
<line x1="239.40" y1="87.60" x2="239.40" y2="89.00" stroke="#1b2140" stroke-width="0.7" />
<line x1="251.40" y1="87.60" x2="251.40" y2="89.00" stroke="#1b2140" stroke-width="0.7" />
<line x1="263.40" y1="87.60" x2="263.40" y2="89.00" stroke="#1b2140" stroke-width="0.7" />
<line x1="275.40" y1="87.60" x2="275.40" y2="89.00" stroke="#1b2140" stroke-width="0.7" />
<line x1="231.40" y1="88.50" x2="239.40" y2="88.50" stroke="#1b2140" stroke-width="0.9" />
<path d="M302.2,45.2C303.3,43.6 303.9,42.2 306.9,41.2C309.9,40.1 315.7,39.6 320.4,39.1C325.1,38.7 332.0,37.0 335.2,38.5C338.4,39.9 339.2,44.2 339.5,47.9C339.8,51.5 338.6,57.1 336.8,60.3C335.0,63.4 332.8,64.9 328.5,67.0C324.1,69.1 315.3,72.4 311.0,73.0C306.6,73.7 304.0,72.9 302.6,70.8C301.3,68.6 303.2,63.4 302.9,60.0C302.5,56.6 300.7,53.0 300.6,50.6C300.5,48.1 301.2,46.8 302.2,45.2Z" fill="#0a0a0a" stroke="none" stroke-width="1" filter="url(#b2)"/>
<path d="M304.3,47.9C305.1,46.6 305.7,45.4 308.1,44.6C310.6,43.8 315.2,43.4 319.0,43.0C322.8,42.6 328.4,41.3 331.0,42.4C333.6,43.6 334.3,47.1 334.5,50.1C334.7,53.0 333.8,57.5 332.3,60.1C330.8,62.7 329.0,63.8 325.5,65.6C322.1,67.3 314.9,70.0 311.4,70.5C307.9,71.0 305.7,70.4 304.6,68.6C303.5,66.8 305.1,62.6 304.8,59.9C304.6,57.2 303.1,54.3 303.0,52.3C302.9,50.3 303.4,49.2 304.3,47.9Z" fill="#c2c2c2" stroke="none" stroke-width="1" filter="url(#b2)"/>
<ellipse cx="323.93" cy="70.28" rx="8.5" ry="3.4" fill="#f4f4f4" stroke="none" stroke-width="1" transform="rotate(-18 323.93 70.28)" filter="url(#b1)"/>
<path d="M302.2,45.2C303.3,43.6 303.9,42.2 306.9,41.2C309.9,40.1 315.7,39.6 320.4,39.1C325.1,38.7 332.0,37.0 335.2,38.5C338.4,39.9 339.2,44.2 339.5,47.9C339.8,51.5 338.6,57.1 336.8,60.3C335.0,63.4 332.8,64.9 328.5,67.0C324.1,69.1 315.3,72.4 311.0,73.0C306.6,73.7 304.0,72.9 302.6,70.8C301.3,68.6 303.2,63.4 302.9,60.0C302.5,56.6 300.7,53.0 300.6,50.6C300.5,48.1 301.2,46.8 302.2,45.2Z" fill="none" stroke="#111" stroke-width="0.7" />
<path d="M303.4,46.0C304.4,44.5 305.0,43.2 307.8,42.2C310.6,41.3 316.0,40.8 320.3,40.4C324.7,40.0 331.1,38.4 334.1,39.7C337.1,41.1 337.9,45.1 338.1,48.5C338.4,51.9 337.3,57.1 335.6,60.0C333.9,63.0 331.9,64.3 327.8,66.3C323.8,68.3 315.6,71.3 311.6,71.9C307.6,72.5 305.1,71.8 303.8,69.8C302.6,67.8 304.4,62.9 304.1,59.8C303.8,56.6 302.0,53.3 301.9,51.0C301.8,48.7 302.5,47.5 303.4,46.0Z" fill="none" stroke="#222" stroke-width="0.45" />
<path d="M304.5,46.7C305.4,45.4 306.0,44.1 308.6,43.2C311.3,42.3 316.2,41.8 320.3,41.5C324.4,41.1 330.4,39.6 333.2,40.9C336.0,42.1 336.7,45.9 337.0,49.1C337.2,52.2 336.2,57.1 334.6,59.8C333.0,62.6 331.1,63.8 327.4,65.7C323.6,67.6 315.9,70.4 312.1,71.0C308.4,71.5 306.0,70.9 304.9,69.0C303.7,67.1 305.4,62.5 305.1,59.6C304.8,56.7 303.2,53.6 303.1,51.4C303.0,49.3 303.6,48.1 304.5,46.7Z" fill="none" stroke="#222" stroke-width="0.4" />
<path d="M307.6,50.1C308.3,49.1 308.7,48.1 310.7,47.5C312.7,46.8 316.5,46.4 319.6,46.1C322.7,45.8 327.2,44.7 329.3,45.7C331.4,46.6 332.0,49.5 332.2,51.9C332.4,54.3 331.6,58.0 330.4,60.1C329.2,62.2 327.7,63.1 324.9,64.5C322.1,65.9 316.2,68.1 313.4,68.5C310.5,68.9 308.7,68.4 307.8,67.0C307.0,65.6 308.2,62.1 308.0,59.9C307.8,57.7 306.6,55.3 306.5,53.7C306.4,52.0 306.9,51.2 307.6,50.1Z" fill="none" stroke="#161616" stroke-width="0.8" />
<path d="M309.5,51.8C310.1,51.0 310.4,50.2 312.1,49.6C313.7,49.1 316.8,48.8 319.3,48.5C321.9,48.3 325.6,47.4 327.3,48.2C329.0,49.0 329.5,51.3 329.6,53.3C329.8,55.2 329.2,58.2 328.2,60.0C327.2,61.7 326.0,62.4 323.7,63.6C321.4,64.7 316.6,66.5 314.2,66.9C311.9,67.2 310.5,66.8 309.7,65.6C309.0,64.5 310.1,61.6 309.9,59.8C309.7,58.0 308.7,56.1 308.6,54.7C308.6,53.4 308.9,52.7 309.5,51.8Z" fill="none" stroke="#161616" stroke-width="0.7" />
<path d="M311.4,53.4C311.8,52.7 312.1,52.1 313.4,51.7C314.6,51.3 317.1,51.0 319.0,50.8C321.0,50.7 323.9,50.0 325.2,50.6C326.6,51.2 326.9,53.0 327.1,54.5C327.2,56.0 326.7,58.4 325.9,59.7C325.2,61.1 324.2,61.7 322.4,62.5C320.6,63.4 316.9,64.8 315.1,65.1C313.3,65.4 312.1,65.0 311.6,64.1C311.0,63.2 311.8,61.0 311.7,59.6C311.5,58.2 310.8,56.7 310.7,55.7C310.7,54.6 311.0,54.0 311.4,53.4Z" fill="none" stroke="#161616" stroke-width="0.6" />
<path d="M313.2,55.0C313.6,54.5 313.8,54.1 314.7,53.7C315.6,53.4 317.3,53.3 318.7,53.1C320.1,53.0 322.2,52.5 323.1,52.9C324.1,53.4 324.4,54.7 324.4,55.8C324.5,56.9 324.2,58.5 323.6,59.5C323.1,60.4 322.4,60.9 321.1,61.5C319.8,62.1 317.2,63.1 315.9,63.3C314.6,63.5 313.8,63.3 313.4,62.6C313.0,62.0 313.6,60.4 313.4,59.4C313.3,58.4 312.8,57.3 312.8,56.6C312.7,55.8 312.9,55.4 313.2,55.0Z" fill="none" stroke="#161616" stroke-width="0.5" />
<path d="M315.1,56.3C315.2,56.0 315.4,55.7 315.9,55.5C316.5,55.4 317.5,55.3 318.3,55.2C319.2,55.1 320.4,54.8 321.0,55.1C321.6,55.3 321.7,56.1 321.8,56.8C321.8,57.4 321.6,58.4 321.3,59.0C321.0,59.6 320.6,59.8 319.8,60.2C319.0,60.6 317.4,61.2 316.6,61.3C315.9,61.4 315.4,61.3 315.1,60.9C314.9,60.5 315.2,59.5 315.2,58.9C315.1,58.3 314.8,57.7 314.8,57.2C314.7,56.8 314.9,56.6 315.1,56.3Z" fill="none" stroke="#161616" stroke-width="0.4" />
<path d="M322.9,51.8q1.3,-1.4 0.0,2.9" fill="none" stroke="#0a0a0a" stroke-width="0.9" opacity="0.9" filter="url(#b2)"/>
<path d="M317.6,59.9q-1.1,-0.5 -2.1,-0.7" fill="none" stroke="#0a0a0a" stroke-width="1.8" opacity="0.9" filter="url(#b2)"/>
<path d="M323.6,61.4q1.6,-1.3 2.0,-2.7" fill="none" stroke="#0a0a0a" stroke-width="1.8" opacity="0.9" filter="url(#b2)"/>
<path d="M308.1,65.6q1.9,-0.2 0.2,1.3" fill="none" stroke="#0a0a0a" stroke-width="0.9" opacity="0.9" filter="url(#b2)"/>
<path d="M311.6,58.0q1.4,1.0 -0.9,-0.9" fill="none" stroke="#0a0a0a" stroke-width="1.3" opacity="0.9" filter="url(#b2)"/>
<path d="M317.3,53.9q1.1,-0.2 -2.3,1.7" fill="none" stroke="#0a0a0a" stroke-width="0.9" opacity="0.9" filter="url(#b2)"/>
<path d="M312.4,57.5q-0.8,1.9 2.6,3.0" fill="none" stroke="#0a0a0a" stroke-width="1.3" opacity="0.9" filter="url(#b2)"/>
<path d="M320.0,62.9q-1.1,-0.8 0.9,-0.6" fill="none" stroke="#0a0a0a" stroke-width="1.3" opacity="0.9" filter="url(#b2)"/>
<path d="M322.9,48.5q-1.1,0.6 -3.3,-3.5" fill="none" stroke="#0a0a0a" stroke-width="1.3" opacity="0.9" filter="url(#b2)"/>
<path d="M312.5,57.7q0.1,-0.3 -1.4,-2.6" fill="none" stroke="#0a0a0a" stroke-width="1.3" opacity="0.9" filter="url(#b2)"/>
<path d="M318.1,56.5q-1.5,1.7 -1.8,-2.5" fill="none" stroke="#0a0a0a" stroke-width="0.9" opacity="0.9" filter="url(#b2)"/>
<path d="M308.3,48.8q0.7,-0.9 2.2,3.3" fill="none" stroke="#0a0a0a" stroke-width="0.9" opacity="0.9" filter="url(#b2)"/>
<path d="M318.5,58.6q-0.6,0.6 -0.4,3.1" fill="none" stroke="#0a0a0a" stroke-width="1.8" opacity="0.9" filter="url(#b2)"/>
<path d="M315.8,49.3q-2.0,-1.8 -3.3,-2.2" fill="none" stroke="#0a0a0a" stroke-width="0.9" opacity="0.9" filter="url(#b2)"/>
<path d="M308.2,63.7q-2.0,0.2 3.1,-2.5" fill="none" stroke="#0a0a0a" stroke-width="0.9" opacity="0.9" filter="url(#b2)"/>
<path d="M316.3,60.5q0.6,-0.3 0.8,0.1" fill="none" stroke="#0a0a0a" stroke-width="0.9" opacity="0.9" filter="url(#b2)"/>
<path d="M312.5,46.5q1.6,1.1 1.5,-3.5" fill="none" stroke="#0a0a0a" stroke-width="1.3" opacity="0.9" filter="url(#b2)"/>
<path d="M320.2,56.3q1.0,-0.2 -1.9,-2.8" fill="none" stroke="#0a0a0a" stroke-width="0.9" opacity="0.9" filter="url(#b2)"/>
<path d="M318.5,48.3q1.6,1.7 3.1,-1.7" fill="none" stroke="#0a0a0a" stroke-width="0.9" opacity="0.9" filter="url(#b2)"/>
<path d="M311.9,58.4q-0.3,1.2 0.2,-1.6" fill="none" stroke="#0a0a0a" stroke-width="1.8" opacity="0.9" filter="url(#b2)"/>
<path d="M323.5,66.4q-1.7,0.0 -2.3,2.8" fill="none" stroke="#0a0a0a" stroke-width="1.8" opacity="0.9" filter="url(#b2)"/>
<path d="M310.8,49.1q1.7,-1.2 -0.8,0.7" fill="none" stroke="#0a0a0a" stroke-width="1.3" opacity="0.9" filter="url(#b2)"/>
<path d="M323.1,60.2q0.8,0.7 3.4,-0.2" fill="none" stroke="#0a0a0a" stroke-width="1.8" opacity="0.9" filter="url(#b2)"/>
<path d="M319.4,65.5q-0.3,0.9 0.5,-1.3" fill="none" stroke="#0a0a0a" stroke-width="0.9" opacity="0.9" filter="url(#b2)"/>
<path d="M314.1,59.1q0.3,-1.3 -3.3,-2.7" fill="none" stroke="#0a0a0a" stroke-width="1.8" opacity="0.9" filter="url(#b2)"/>
<path d="M323.5,53.5q-1.4,-1.9 -3.2,1.3" fill="none" stroke="#0a0a0a" stroke-width="1.8" opacity="0.9" filter="url(#b2)"/>
<path d="M308.0,47.0q-1.8,1.4 1.8,-2.1" fill="none" stroke="#0a0a0a" stroke-width="1.8" opacity="0.9" filter="url(#b2)"/>
<path d="M322.8,46.9q1.5,1.7 3.1,-2.8" fill="none" stroke="#0a0a0a" stroke-width="0.9" opacity="0.9" filter="url(#b2)"/>
<path d="M310.8,46.2q1.8,1.6 1.8,-2.9" fill="none" stroke="#0a0a0a" stroke-width="1.8" opacity="0.9" filter="url(#b2)"/>
<path d="M318.3,56.6q-1.5,1.2 1.0,-1.4" fill="none" stroke="#0a0a0a" stroke-width="1.3" opacity="0.9" filter="url(#b2)"/>
<path d="M314.6,45.9q-1.0,-0.9 1.5,-0.9" fill="none" stroke="#0a0a0a" stroke-width="1.3" opacity="0.9" filter="url(#b2)"/>
<path d="M320.7,59.5q-0.1,-0.8 1.7,2.0" fill="none" stroke="#0a0a0a" stroke-width="0.9" opacity="0.9" filter="url(#b2)"/>
<path d="M314.8,63.6q-0.6,0.8 0.3,-2.0" fill="none" stroke="#0a0a0a" stroke-width="0.9" opacity="0.9" filter="url(#b2)"/>
<path d="M317.3,52.1q-0.3,0.1 -1.5,1.8" fill="none" stroke="#0a0a0a" stroke-width="0.9" opacity="0.9" filter="url(#b2)"/>
<path d="M307.3,56.9q-0.0,1.2 -2.2,-0.0" fill="none" stroke="#0a0a0a" stroke-width="1.3" opacity="0.9" filter="url(#b2)"/>
<path d="M324.0,57.5q0.3,-1.4 2.2,3.1" fill="none" stroke="#0a0a0a" stroke-width="0.9" opacity="0.9" filter="url(#b2)"/>
<path d="M315.9,48.0q0.5,-1.7 2.0,1.4" fill="none" stroke="#0a0a0a" stroke-width="0.9" opacity="0.9" filter="url(#b2)"/>
<path d="M318.2,53.7q-0.4,-0.4 2.7,-2.9" fill="none" stroke="#0a0a0a" stroke-width="1.8" opacity="0.9" filter="url(#b2)"/>
<path d="M307.6,50.2q-0.9,1.6 0.0,-0.8" fill="none" stroke="#0a0a0a" stroke-width="1.8" opacity="0.9" filter="url(#b2)"/>
<path d="M311.3,56.2q0.1,1.0 1.8,1.0" fill="none" stroke="#0a0a0a" stroke-width="1.3" opacity="0.9" filter="url(#b2)"/>
<path d="M317.4,57.6q1.5,-0.2 0.4,-1.2" fill="none" stroke="#0a0a0a" stroke-width="1.3" opacity="0.9" filter="url(#b2)"/>
<path d="M314.9,63.6q0.3,-1.5 -0.3,2.7" fill="none" stroke="#0a0a0a" stroke-width="0.9" opacity="0.9" filter="url(#b2)"/>
<path d="M316.1,51.7q1.0,1.3 0.8,1.6" fill="none" stroke="#0a0a0a" stroke-width="0.9" opacity="0.9" filter="url(#b2)"/>
<path d="M319.9,59.6q-0.6,-1.1 3.2,-1.7" fill="none" stroke="#0a0a0a" stroke-width="1.8" opacity="0.9" filter="url(#b2)"/>
<path d="M324.6,49.2q0.6,-1.2 -2.4,-2.5" fill="none" stroke="#0a0a0a" stroke-width="1.3" opacity="0.9" filter="url(#b2)"/>
<path d="M320.0,55.6q-1.2,0.6 -2.8,-2.1" fill="none" stroke="#0a0a0a" stroke-width="1.3" opacity="0.9" filter="url(#b2)"/>
<path d="M315.3,45.7q1.4,-0.3 -1.9,3.4" fill="none" stroke="#0a0a0a" stroke-width="1.3" opacity="0.9" filter="url(#b2)"/>
<path d="M315.3,48.7q0.4,-0.4 1.7,2.9" fill="none" stroke="#0a0a0a" stroke-width="1.3" opacity="0.9" filter="url(#b2)"/>
<path d="M319.5,59.2q0.6,1.4 1.2,1.1" fill="none" stroke="#0a0a0a" stroke-width="1.8" opacity="0.9" filter="url(#b2)"/>
<path d="M319.5,65.4q0.7,0.6 -0.3,-1.3" fill="none" stroke="#0a0a0a" stroke-width="1.8" opacity="0.9" filter="url(#b2)"/>
<path d="M319.5,66.4q-1.0,-0.4 1.5,-2.4" fill="none" stroke="#0a0a0a" stroke-width="1.3" opacity="0.9" filter="url(#b2)"/>
<path d="M315.7,45.8q1.4,0.1 1.1,2.6" fill="none" stroke="#0a0a0a" stroke-width="1.8" opacity="0.9" filter="url(#b2)"/>
<path d="M312.9,45.6q1.3,1.6 -2.8,-1.7" fill="none" stroke="#0a0a0a" stroke-width="0.9" opacity="0.9" filter="url(#b2)"/>
<path d="M310.0,63.8q1.8,0.1 -2.8,0.5" fill="none" stroke="#0a0a0a" stroke-width="1.8" opacity="0.9" filter="url(#b2)"/>
<path d="M310.8,56.6q-1.9,1.2 -0.9,-1.1" fill="none" stroke="#0a0a0a" stroke-width="1.8" opacity="0.9" filter="url(#b2)"/>
<path d="M323.8,50.3q0.7,-0.4 1.8,-2.6" fill="none" stroke="#0a0a0a" stroke-width="1.8" opacity="0.9" filter="url(#b2)"/>
<path d="M313.4,46.7q-0.9,-0.4 -3.4,-0.6" fill="none" stroke="#0a0a0a" stroke-width="1.3" opacity="0.9" filter="url(#b2)"/>
<path d="M318.2,61.3q0.3,-1.6 -1.4,-0.7" fill="none" stroke="#0a0a0a" stroke-width="1.8" opacity="0.9" filter="url(#b2)"/>
<path d="M324.2,68.8q1.8,-0.2 -2.3,3.0" fill="none" stroke="#0a0a0a" stroke-width="0.9" opacity="0.9" filter="url(#b2)"/>
<path d="M321.4,60.3q-0.1,0.2 -1.9,3.2" fill="none" stroke="#0a0a0a" stroke-width="1.3" opacity="0.9" filter="url(#b2)"/>
<path d="M318.9,64.9q1.2,-0.3 3.5,1.8" fill="none" stroke="#0a0a0a" stroke-width="1.8" opacity="0.9" filter="url(#b2)"/>
<path d="M309.4,65.0q-0.6,1.4 -1.6,-0.9" fill="none" stroke="#0a0a0a" stroke-width="1.3" opacity="0.9" filter="url(#b2)"/>
<path d="M324.4,61.3q-0.1,1.2 2.1,-1.0" fill="none" stroke="#0a0a0a" stroke-width="1.8" opacity="0.9" filter="url(#b2)"/>
<path d="M312.5,56.7q-0.3,0.5 1.1,-1.0" fill="none" stroke="#0a0a0a" stroke-width="1.3" opacity="0.9" filter="url(#b2)"/>
<path d="M321.7,48.3q1.0,1.2 1.6,-2.0" fill="none" stroke="#f2f2f2" stroke-width="1.4" filter="url(#b2)" stroke-linecap="round"/>
<path d="M318.2,47.4q-1.5,1.4 0.9,-1.4" fill="none" stroke="#f2f2f2" stroke-width="1.0" filter="url(#b2)" stroke-linecap="round"/>
<path d="M317.4,64.8q-0.9,-0.1 1.6,-1.6" fill="none" stroke="#f2f2f2" stroke-width="1.4" filter="url(#b2)" stroke-linecap="round"/>
<path d="M320.7,50.6q1.2,0.3 1.6,0.9" fill="none" stroke="#f2f2f2" stroke-width="1.9" filter="url(#b2)" stroke-linecap="round"/>
<path d="M320.6,64.5q-0.9,0.6 0.2,1.4" fill="none" stroke="#f2f2f2" stroke-width="1.4" filter="url(#b2)" stroke-linecap="round"/>
<path d="M318.8,49.5q-1.1,-0.2 1.8,-0.1" fill="none" stroke="#f2f2f2" stroke-width="1.9" filter="url(#b2)" stroke-linecap="round"/>
<path d="M309.3,56.8q-1.1,-0.0 -0.0,0.2" fill="none" stroke="#f2f2f2" stroke-width="1.9" filter="url(#b2)" stroke-linecap="round"/>
<path d="M308.5,64.6q-0.1,0.2 0.9,1.9" fill="none" stroke="#f2f2f2" stroke-width="1.4" filter="url(#b2)" stroke-linecap="round"/>
<path d="M315.0,67.9q0.5,-1.0 -0.8,0.8" fill="none" stroke="#f2f2f2" stroke-width="1.0" filter="url(#b2)" stroke-linecap="round"/>
<path d="M317.9,61.3q1.3,-0.5 2.7,0.1" fill="none" stroke="#f2f2f2" stroke-width="1.4" filter="url(#b2)" stroke-linecap="round"/>
<path d="M320.2,50.1q-0.9,-0.3 -2.1,-2.3" fill="none" stroke="#f2f2f2" stroke-width="1.9" filter="url(#b2)" stroke-linecap="round"/>
<path d="M314.1,57.0q0.1,0.8 -1.6,-0.4" fill="none" stroke="#f2f2f2" stroke-width="1.4" filter="url(#b2)" stroke-linecap="round"/>
<rect x="284.00" y="28.40" width="59.20" height="59.20" fill="none" stroke="#1b2140" stroke-width="1.0" />
<rect x="284.00" y="28.40" width="36.80" height="29.40" fill="none" stroke="#27345e" stroke-width="1.1" />
<line x1="282.40" y1="36.00" x2="284.00" y2="36.00" stroke="#1b2140" stroke-width="0.7" />
<line x1="282.40" y1="52.00" x2="284.00" y2="52.00" stroke="#1b2140" stroke-width="0.7" />
<line x1="282.40" y1="68.00" x2="284.00" y2="68.00" stroke="#1b2140" stroke-width="0.7" />
<line x1="282.40" y1="84.00" x2="284.00" y2="84.00" stroke="#1b2140" stroke-width="0.7" />
<line x1="292.00" y1="87.60" x2="292.00" y2="89.00" stroke="#1b2140" stroke-width="0.7" />
<line x1="304.00" y1="87.60" x2="304.00" y2="89.00" stroke="#1b2140" stroke-width="0.7" />
<line x1="316.00" y1="87.60" x2="316.00" y2="89.00" stroke="#1b2140" stroke-width="0.7" />
<line x1="328.00" y1="87.60" x2="328.00" y2="89.00" stroke="#1b2140" stroke-width="0.7" />
<line x1="340.00" y1="87.60" x2="340.00" y2="89.00" stroke="#1b2140" stroke-width="0.7" />
<line x1="296.00" y1="88.50" x2="304.00" y2="88.50" stroke="#1b2140" stroke-width="0.9" />
<path d="M366.2,39.1C368.0,37.7 369.9,36.9 375.0,36.4C380.0,36.0 392.4,35.4 396.5,36.4C400.6,37.4 398.8,38.8 399.5,42.5C400.1,46.2 400.6,54.3 400.1,58.6C399.7,63.0 399.4,65.8 396.8,68.3C394.1,70.9 388.7,72.5 384.4,73.7C380.1,75.0 374.0,76.5 370.9,75.7C367.8,75.0 366.6,72.7 365.9,69.4C365.3,66.1 367.2,60.0 366.9,56.0C366.6,51.9 364.3,48.0 364.2,45.2C364.1,42.4 364.4,40.6 366.2,39.1Z" fill="#0a0a0a" stroke="none" stroke-width="1" filter="url(#b2)"/>
<path d="M368.9,42.6C370.4,41.4 371.9,40.7 376.0,40.4C380.1,40.0 390.2,39.6 393.5,40.4C396.8,41.2 395.4,42.3 395.9,45.3C396.4,48.3 396.8,54.9 396.4,58.4C396.0,61.9 395.8,64.2 393.7,66.2C391.6,68.3 387.1,69.6 383.7,70.6C380.2,71.6 375.2,72.8 372.8,72.2C370.3,71.6 369.3,69.8 368.7,67.1C368.2,64.4 369.7,59.5 369.5,56.2C369.2,52.9 367.4,49.7 367.3,47.5C367.2,45.2 367.5,43.7 368.9,42.6Z" fill="#c2c2c2" stroke="none" stroke-width="1" filter="url(#b2)"/>
<ellipse cx="390.78" cy="72.99" rx="5.0" ry="2.2" fill="#f4f4f4" stroke="none" stroke-width="1" transform="rotate(-18 390.78 72.99)" filter="url(#b1)"/>
<path d="M366.2,39.1C368.0,37.7 369.9,36.9 375.0,36.4C380.0,36.0 392.4,35.4 396.5,36.4C400.6,37.4 398.8,38.8 399.5,42.5C400.1,46.2 400.6,54.3 400.1,58.6C399.7,63.0 399.4,65.8 396.8,68.3C394.1,70.9 388.7,72.5 384.4,73.7C380.1,75.0 374.0,76.5 370.9,75.7C367.8,75.0 366.6,72.7 365.9,69.4C365.3,66.1 367.2,60.0 366.9,56.0C366.6,51.9 364.3,48.0 364.2,45.2C364.1,42.4 364.4,40.6 366.2,39.1Z" fill="none" stroke="#111" stroke-width="0.7" />
<path d="M367.4,40.4C369.1,39.1 370.9,38.3 375.5,37.9C380.2,37.5 391.8,37.0 395.6,37.9C399.4,38.9 397.8,40.1 398.3,43.5C398.9,47.0 399.4,54.6 399.0,58.6C398.5,62.6 398.3,65.2 395.8,67.6C393.4,69.9 388.3,71.4 384.3,72.6C380.3,73.7 374.7,75.1 371.8,74.5C368.9,73.8 367.8,71.6 367.2,68.6C366.5,65.5 368.3,59.8 368.0,56.1C367.8,52.3 365.6,48.7 365.5,46.1C365.4,43.4 365.7,41.8 367.4,40.4Z" fill="none" stroke="#222" stroke-width="0.45" />
<path d="M368.5,41.6C370.0,40.3 371.7,39.6 376.1,39.2C380.5,38.8 391.3,38.3 394.8,39.2C398.4,40.1 396.9,41.3 397.4,44.5C397.9,47.7 398.4,54.8 398.0,58.5C397.6,62.3 397.3,64.8 395.1,67.0C392.8,69.1 388.0,70.6 384.3,71.6C380.5,72.7 375.2,74.0 372.6,73.4C369.9,72.8 368.8,70.8 368.2,67.9C367.7,65.0 369.3,59.7 369.1,56.2C368.8,52.7 366.8,49.3 366.7,46.8C366.6,44.4 366.9,42.8 368.5,41.6Z" fill="none" stroke="#222" stroke-width="0.4" />
<path d="M372.2,45.5C373.4,44.5 374.6,44.0 377.9,43.7C381.3,43.4 389.5,43.0 392.2,43.7C394.9,44.4 393.7,45.2 394.1,47.7C394.5,50.1 394.9,55.5 394.6,58.3C394.3,61.2 394.1,63.1 392.3,64.7C390.6,66.4 387.0,67.5 384.2,68.3C381.3,69.1 377.3,70.1 375.3,69.6C373.3,69.2 372.4,67.6 372.0,65.5C371.5,63.3 372.8,59.2 372.6,56.6C372.4,53.9 370.9,51.3 370.8,49.5C370.8,47.6 371.0,46.4 372.2,45.5Z" fill="none" stroke="#161616" stroke-width="0.8" />
<path d="M374.4,47.7C375.3,46.9 376.4,46.5 379.1,46.2C381.8,46.0 388.5,45.7 390.7,46.2C392.9,46.8 392.0,47.5 392.3,49.5C392.7,51.5 392.9,55.9 392.7,58.2C392.4,60.5 392.3,62.1 390.9,63.5C389.5,64.8 386.5,65.7 384.2,66.4C381.9,67.0 378.6,67.8 376.9,67.5C375.3,67.1 374.6,65.8 374.2,64.0C373.9,62.3 374.9,59.0 374.7,56.8C374.6,54.6 373.3,52.5 373.3,51.0C373.2,49.4 373.4,48.5 374.4,47.7Z" fill="none" stroke="#161616" stroke-width="0.7" />
<path d="M376.5,49.8C377.2,49.2 378.0,48.9 380.1,48.7C382.3,48.5 387.5,48.3 389.2,48.7C390.9,49.1 390.2,49.7 390.4,51.2C390.7,52.8 390.9,56.2 390.7,58.0C390.5,59.8 390.4,61.0 389.3,62.1C388.2,63.2 385.9,63.8 384.1,64.4C382.3,64.9 379.7,65.5 378.4,65.2C377.1,64.9 376.6,63.9 376.3,62.6C376.1,61.2 376.9,58.6 376.7,56.9C376.6,55.2 375.7,53.6 375.6,52.4C375.6,51.2 375.7,50.4 376.5,49.8Z" fill="none" stroke="#161616" stroke-width="0.6" />
<path d="M378.4,52.0C379.0,51.5 379.5,51.3 381.0,51.2C382.6,51.0 386.3,50.9 387.5,51.2C388.7,51.5 388.2,51.9 388.4,53.0C388.6,54.1 388.7,56.5 388.6,57.8C388.5,59.1 388.4,60.0 387.6,60.7C386.8,61.5 385.2,62.0 383.9,62.4C382.6,62.7 380.8,63.2 379.8,63.0C378.9,62.7 378.5,62.1 378.3,61.1C378.1,60.1 378.7,58.2 378.6,57.0C378.5,55.8 377.9,54.6 377.8,53.8C377.8,53.0 377.9,52.4 378.4,52.0Z" fill="none" stroke="#161616" stroke-width="0.5" />
<path d="M380.3,54.0C380.6,53.7 380.9,53.6 381.8,53.5C382.7,53.4 385.0,53.3 385.7,53.5C386.5,53.7 386.1,53.9 386.2,54.6C386.4,55.3 386.5,56.7 386.4,57.5C386.3,58.3 386.2,58.8 385.8,59.2C385.3,59.7 384.3,60.0 383.5,60.2C382.8,60.4 381.7,60.7 381.1,60.6C380.6,60.4 380.3,60.0 380.2,59.4C380.1,58.8 380.4,57.7 380.4,57.0C380.3,56.3 379.9,55.6 379.9,55.1C379.9,54.6 379.9,54.2 380.3,54.0Z" fill="none" stroke="#161616" stroke-width="0.4" />
<path d="M374.4,45.7q-0.8,-0.6 -0.0,-1.2" fill="none" stroke="#0a0a0a" stroke-width="1.3" opacity="0.9" filter="url(#b2)"/>
<path d="M384.4,53.5q-1.2,-0.0 -2.7,-2.2" fill="none" stroke="#0a0a0a" stroke-width="1.8" opacity="0.9" filter="url(#b2)"/>
<path d="M375.1,60.0q0.5,1.1 -3.2,1.6" fill="none" stroke="#0a0a0a" stroke-width="1.3" opacity="0.9" filter="url(#b2)"/>
<path d="M379.1,45.6q-0.8,-2.0 -2.2,3.0" fill="none" stroke="#0a0a0a" stroke-width="1.8" opacity="0.9" filter="url(#b2)"/>
<path d="M382.7,45.9q0.0,0.2 -0.9,-2.5" fill="none" stroke="#0a0a0a" stroke-width="1.8" opacity="0.9" filter="url(#b2)"/>
<path d="M381.6,60.2q0.7,-1.1 1.2,-0.3" fill="none" stroke="#0a0a0a" stroke-width="0.9" opacity="0.9" filter="url(#b2)"/>
<path d="M371.9,49.1q-1.9,1.1 2.9,1.1" fill="none" stroke="#0a0a0a" stroke-width="1.3" opacity="0.9" filter="url(#b2)"/>
<path d="M384.4,48.0q-0.8,0.8 2.5,-2.2" fill="none" stroke="#0a0a0a" stroke-width="0.9" opacity="0.9" filter="url(#b2)"/>
<path d="M375.4,55.8q0.6,1.7 -3.1,0.5" fill="none" stroke="#0a0a0a" stroke-width="0.9" opacity="0.9" filter="url(#b2)"/>
<path d="M383.6,65.0q-0.3,0.8 -0.7,-3.0" fill="none" stroke="#0a0a0a" stroke-width="1.8" opacity="0.9" filter="url(#b2)"/>
<path d="M376.6,60.1q1.8,1.9 -0.2,-0.6" fill="none" stroke="#0a0a0a" stroke-width="0.9" opacity="0.9" filter="url(#b2)"/>
<path d="M371.6,56.9q1.6,0.5 -0.5,-3.4" fill="none" stroke="#0a0a0a" stroke-width="1.8" opacity="0.9" filter="url(#b2)"/>
<path d="M372.3,70.1q-1.6,1.5 -2.6,-3.4" fill="none" stroke="#0a0a0a" stroke-width="1.8" opacity="0.9" filter="url(#b2)"/>
<path d="M379.5,56.3q1.0,1.7 -0.9,1.7" fill="none" stroke="#0a0a0a" stroke-width="1.8" opacity="0.9" filter="url(#b2)"/>
<path d="M384.1,63.8q-1.7,0.5 1.5,-0.3" fill="none" stroke="#0a0a0a" stroke-width="1.3" opacity="0.9" filter="url(#b2)"/>
<path d="M385.1,45.7q-1.9,-1.8 2.7,1.3" fill="none" stroke="#0a0a0a" stroke-width="1.8" opacity="0.9" filter="url(#b2)"/>
<path d="M371.6,52.6q0.9,-1.3 2.5,-0.1" fill="none" stroke="#0a0a0a" stroke-width="0.9" opacity="0.9" filter="url(#b2)"/>
<path d="M375.4,69.7q0.9,-0.1 -2.3,3.3" fill="none" stroke="#0a0a0a" stroke-width="0.9" opacity="0.9" filter="url(#b2)"/>
<path d="M376.2,61.5q0.5,-0.3 -0.8,2.0" fill="none" stroke="#0a0a0a" stroke-width="1.3" opacity="0.9" filter="url(#b2)"/>
<path d="M383.0,59.4q-0.8,-1.8 3.3,1.4" fill="none" stroke="#0a0a0a" stroke-width="1.8" opacity="0.9" filter="url(#b2)"/>
<path d="M375.7,60.5q1.9,1.3 0.7,-1.3" fill="none" stroke="#0a0a0a" stroke-width="1.3" opacity="0.9" filter="url(#b2)"/>
<path d="M386.1,50.9q-0.5,-0.5 1.9,-1.9" fill="none" stroke="#0a0a0a" stroke-width="1.3" opacity="0.9" filter="url(#b2)"/>
<path d="M374.9,44.3q-0.9,-0.3 0.6,2.2" fill="none" stroke="#0a0a0a" stroke-width="0.9" opacity="0.9" filter="url(#b2)"/>
<path d="M375.0,48.1q1.6,2.0 -2.5,3.3" fill="none" stroke="#0a0a0a" stroke-width="1.8" opacity="0.9" filter="url(#b2)"/>
<path d="M381.4,68.7q-0.6,-1.7 0.4,2.1" fill="none" stroke="#0a0a0a" stroke-width="0.9" opacity="0.9" filter="url(#b2)"/>
<path d="M383.0,63.6q1.9,-0.8 -3.1,-0.7" fill="none" stroke="#0a0a0a" stroke-width="1.8" opacity="0.9" filter="url(#b2)"/>
<path d="M373.6,51.1q1.0,1.2 -0.3,-2.9" fill="none" stroke="#0a0a0a" stroke-width="1.3" opacity="0.9" filter="url(#b2)"/>
<path d="M382.8,50.5q0.3,1.6 2.7,0.2" fill="none" stroke="#0a0a0a" stroke-width="1.3" opacity="0.9" filter="url(#b2)"/>
<path d="M378.5,49.7q-1.1,-1.6 2.1,-1.5" fill="none" stroke="#0a0a0a" stroke-width="1.8" opacity="0.9" filter="url(#b2)"/>
<path d="M379.4,55.1q0.1,-1.4 -3.2,3.5" fill="none" stroke="#0a0a0a" stroke-width="1.3" opacity="0.9" filter="url(#b2)"/>
<path d="M384.3,54.2q-0.1,-1.7 -1.3,-3.3" fill="none" stroke="#0a0a0a" stroke-width="1.3" opacity="0.9" filter="url(#b2)"/>
<path d="M378.7,44.8q-1.9,2.0 2.6,-0.1" fill="none" stroke="#0a0a0a" stroke-width="1.8" opacity="0.9" filter="url(#b2)"/>
<path d="M373.8,69.0q-0.9,-1.6 -0.4,0.7" fill="none" stroke="#0a0a0a" stroke-width="1.8" opacity="0.9" filter="url(#b2)"/>
<path d="M385.9,51.1q-1.8,-1.2 -2.2,-2.9" fill="none" stroke="#0a0a0a" stroke-width="0.9" opacity="0.9" filter="url(#b2)"/>
<path d="M370.9,54.2q0.8,-0.1 2.4,2.8" fill="none" stroke="#0a0a0a" stroke-width="1.8" opacity="0.9" filter="url(#b2)"/>
<path d="M380.6,68.9q0.8,-1.6 -1.3,-1.9" fill="none" stroke="#0a0a0a" stroke-width="0.9" opacity="0.9" filter="url(#b2)"/>
<path d="M385.8,62.2q-0.4,-0.2 -2.4,3.3" fill="none" stroke="#0a0a0a" stroke-width="1.8" opacity="0.9" filter="url(#b2)"/>
<path d="M373.9,45.3q-1.0,-0.6 2.8,2.8" fill="none" stroke="#0a0a0a" stroke-width="0.9" opacity="0.9" filter="url(#b2)"/>
<path d="M374.5,58.0q1.0,1.0 -0.1,-2.8" fill="none" stroke="#0a0a0a" stroke-width="1.3" opacity="0.9" filter="url(#b2)"/>
<path d="M382.5,69.4q0.7,-0.8 0.6,1.8" fill="none" stroke="#0a0a0a" stroke-width="0.9" opacity="0.9" filter="url(#b2)"/>
<path d="M377.9,54.2q-0.4,-0.5 -0.8,-0.4" fill="none" stroke="#0a0a0a" stroke-width="0.9" opacity="0.9" filter="url(#b2)"/>
<path d="M385.1,68.1q-0.1,1.7 2.1,-2.4" fill="none" stroke="#0a0a0a" stroke-width="0.9" opacity="0.9" filter="url(#b2)"/>
<path d="M371.6,60.8q-0.5,1.0 1.9,3.2" fill="none" stroke="#0a0a0a" stroke-width="1.3" opacity="0.9" filter="url(#b2)"/>
<path d="M383.9,61.1q-0.2,-0.6 2.3,-0.2" fill="none" stroke="#0a0a0a" stroke-width="1.8" opacity="0.9" filter="url(#b2)"/>
<path d="M376.2,53.2q0.9,-1.3 -0.3,2.7" fill="none" stroke="#0a0a0a" stroke-width="1.3" opacity="0.9" filter="url(#b2)"/>
<path d="M384.4,51.4q-0.4,-1.4 -1.6,2.4" fill="none" stroke="#0a0a0a" stroke-width="1.3" opacity="0.9" filter="url(#b2)"/>
<path d="M383.3,51.3q-1.6,-0.2 -0.1,-2.4" fill="none" stroke="#0a0a0a" stroke-width="1.8" opacity="0.9" filter="url(#b2)"/>
<path d="M371.2,68.2q0.7,-1.2 -0.2,-1.5" fill="none" stroke="#0a0a0a" stroke-width="1.3" opacity="0.9" filter="url(#b2)"/>
<path d="M382.5,70.2q-0.3,-1.0 -1.8,-1.8" fill="none" stroke="#0a0a0a" stroke-width="1.3" opacity="0.9" filter="url(#b2)"/>
<path d="M375.0,68.3q-1.8,0.9 -1.4,3.4" fill="none" stroke="#0a0a0a" stroke-width="0.9" opacity="0.9" filter="url(#b2)"/>
<path d="M377.4,57.9q0.0,-0.2 2.0,3.1" fill="none" stroke="#0a0a0a" stroke-width="1.3" opacity="0.9" filter="url(#b2)"/>
<path d="M373.3,55.9q1.6,-1.1 0.5,-2.5" fill="none" stroke="#0a0a0a" stroke-width="0.9" opacity="0.9" filter="url(#b2)"/>
<path d="M378.7,50.5q-1.3,0.4 2.3,2.7" fill="none" stroke="#0a0a0a" stroke-width="1.8" opacity="0.9" filter="url(#b2)"/>
<path d="M378.3,51.6q-1.2,0.4 1.5,2.2" fill="none" stroke="#0a0a0a" stroke-width="1.8" opacity="0.9" filter="url(#b2)"/>
<path d="M375.3,44.6q0.8,0.1 2.4,2.9" fill="none" stroke="#0a0a0a" stroke-width="1.8" opacity="0.9" filter="url(#b2)"/>
<path d="M383.4,53.3q1.4,1.5 -0.0,-3.4" fill="none" stroke="#0a0a0a" stroke-width="1.3" opacity="0.9" filter="url(#b2)"/>
<path d="M372.5,62.1q-1.0,0.3 3.4,-3.2" fill="none" stroke="#0a0a0a" stroke-width="1.8" opacity="0.9" filter="url(#b2)"/>
<path d="M376.3,60.2q-2.0,0.1 -0.4,0.1" fill="none" stroke="#0a0a0a" stroke-width="0.9" opacity="0.9" filter="url(#b2)"/>
<path d="M376.1,50.8q1.3,1.7 2.0,2.6" fill="none" stroke="#0a0a0a" stroke-width="1.8" opacity="0.9" filter="url(#b2)"/>
<path d="M382.4,45.9q1.5,1.8 -0.0,0.1" fill="none" stroke="#0a0a0a" stroke-width="1.8" opacity="0.9" filter="url(#b2)"/>
<path d="M383.3,47.9q-1.0,-1.6 0.8,-2.3" fill="none" stroke="#0a0a0a" stroke-width="1.3" opacity="0.9" filter="url(#b2)"/>
<path d="M374.3,66.1q-1.9,-1.6 1.4,-2.1" fill="none" stroke="#0a0a0a" stroke-width="0.9" opacity="0.9" filter="url(#b2)"/>
<path d="M383.8,61.3q-0.1,-1.0 -0.4,-1.0" fill="none" stroke="#0a0a0a" stroke-width="0.9" opacity="0.9" filter="url(#b2)"/>
<path d="M381.9,45.5q-1.5,-0.0 0.0,-1.5" fill="none" stroke="#0a0a0a" stroke-width="0.9" opacity="0.9" filter="url(#b2)"/>
<path d="M373.1,67.1q0.1,-0.8 -1.5,0.9" fill="none" stroke="#f2f2f2" stroke-width="1.4" filter="url(#b2)" stroke-linecap="round"/>
<path d="M382.1,50.1q1.0,1.3 -0.6,-0.4" fill="none" stroke="#f2f2f2" stroke-width="1.9" filter="url(#b2)" stroke-linecap="round"/>
<path d="M378.9,55.6q1.3,0.8 -0.9,-1.5" fill="none" stroke="#f2f2f2" stroke-width="1.4" filter="url(#b2)" stroke-linecap="round"/>
<path d="M381.7,66.1q0.2,1.5 -1.0,-0.6" fill="none" stroke="#f2f2f2" stroke-width="1.9" filter="url(#b2)" stroke-linecap="round"/>
<path d="M372.1,58.5q1.4,1.3 -1.4,-0.4" fill="none" stroke="#f2f2f2" stroke-width="1.9" filter="url(#b2)" stroke-linecap="round"/>
<path d="M371.5,48.8q-0.9,-0.5 -1.7,0.9" fill="none" stroke="#f2f2f2" stroke-width="1.0" filter="url(#b2)" stroke-linecap="round"/>
<path d="M373.4,69.1q0.8,1.3 0.7,1.7" fill="none" stroke="#f2f2f2" stroke-width="1.0" filter="url(#b2)" stroke-linecap="round"/>
<path d="M371.9,61.4q-0.7,0.5 -1.3,0.2" fill="none" stroke="#f2f2f2" stroke-width="1.0" filter="url(#b2)" stroke-linecap="round"/>
<path d="M380.3,52.2q0.1,-0.2 2.5,-1.2" fill="none" stroke="#f2f2f2" stroke-width="1.4" filter="url(#b2)" stroke-linecap="round"/>
<path d="M376.4,50.2q-1.3,1.4 2.4,2.2" fill="none" stroke="#f2f2f2" stroke-width="1.0" filter="url(#b2)" stroke-linecap="round"/>
<path d="M378.1,58.9q-1.1,-1.1 -2.1,-1.2" fill="none" stroke="#f2f2f2" stroke-width="1.4" filter="url(#b2)" stroke-linecap="round"/>
<path d="M379.7,52.7q0.7,0.7 -1.2,-0.3" fill="none" stroke="#f2f2f2" stroke-width="1.9" filter="url(#b2)" stroke-linecap="round"/>
<rect x="348.40" y="28.40" width="59.20" height="59.20" fill="none" stroke="#1b2140" stroke-width="1.0" />
<rect x="348.40" y="28.40" width="36.80" height="29.40" fill="none" stroke="#27345e" stroke-width="1.1" />
<line x1="346.80" y1="36.00" x2="348.40" y2="36.00" stroke="#1b2140" stroke-width="0.7" />
<line x1="346.80" y1="52.00" x2="348.40" y2="52.00" stroke="#1b2140" stroke-width="0.7" />
<line x1="346.80" y1="68.00" x2="348.40" y2="68.00" stroke="#1b2140" stroke-width="0.7" />
<line x1="346.80" y1="84.00" x2="348.40" y2="84.00" stroke="#1b2140" stroke-width="0.7" />
<line x1="356.40" y1="87.60" x2="356.40" y2="89.00" stroke="#1b2140" stroke-width="0.7" />
<line x1="368.40" y1="87.60" x2="368.40" y2="89.00" stroke="#1b2140" stroke-width="0.7" />
<line x1="380.40" y1="87.60" x2="380.40" y2="89.00" stroke="#1b2140" stroke-width="0.7" />
<line x1="392.40" y1="87.60" x2="392.40" y2="89.00" stroke="#1b2140" stroke-width="0.7" />
<line x1="404.40" y1="87.60" x2="404.40" y2="89.00" stroke="#1b2140" stroke-width="0.7" />
<line x1="360.40" y1="88.50" x2="368.40" y2="88.50" stroke="#1b2140" stroke-width="0.9" />
<text x="161.10" y="36.90" font-size="5.3" text-anchor="start" font-weight="normal" font-style="normal" fill="#1a1a1a" >35.8%</text>
<text x="222.70" y="36.90" font-size="5.3" text-anchor="start" font-weight="normal" font-style="normal" fill="#1a1a1a" >31.8%</text>
<text x="288.10" y="36.90" font-size="5.3" text-anchor="start" font-weight="normal" font-style="normal" fill="#1a1a1a" >33.8%</text>
<text x="351.40" y="36.90" font-size="5.3" text-anchor="start" font-weight="normal" font-style="normal" fill="#1a1a1a" >42.9%</text>
<path d="M183.1,120.9C181.0,121.5 178.0,121.3 175.6,122.1C173.2,122.8 170.3,123.8 168.7,125.3C167.1,126.8 166.4,129.1 165.8,131.1C165.2,133.0 166.0,135.1 165.2,136.8C164.5,138.6 162.3,139.8 161.2,141.4C160.1,143.1 158.4,144.8 158.5,146.6C158.6,148.5 159.7,151.3 161.8,152.8C163.8,154.2 167.9,154.9 171.0,155.1C174.1,155.3 178.1,155.0 180.2,153.9C182.3,152.8 183.1,150.3 183.5,148.4C183.8,146.5 182.7,144.5 182.3,142.6C181.9,140.7 180.8,138.8 180.8,136.8C180.8,134.9 181.9,132.5 182.5,131.1C183.2,129.7 183.5,129.0 184.8,128.5C186.2,128.1 188.3,129.0 190.6,128.5C192.9,128.0 197.1,126.8 198.9,125.5C200.7,124.2 201.6,122.0 201.2,120.7C200.8,119.4 198.5,118.1 196.4,117.8C194.2,117.5 190.5,118.1 188.3,118.6C186.1,119.1 185.2,120.3 183.1,120.9Z" fill="#c6c6c6" stroke="#333" stroke-width="0.8" filter="url(#b2)"/>
<path d="M182.1,124.1C180.5,124.6 178.3,124.4 176.4,125.0C174.6,125.5 172.4,126.3 171.2,127.4C169.9,128.6 169.4,130.4 169.0,131.8C168.5,133.3 169.1,134.9 168.5,136.2C168.0,137.5 166.3,138.5 165.5,139.7C164.6,141.0 163.4,142.2 163.5,143.7C163.5,145.1 164.3,147.2 165.9,148.3C167.5,149.4 170.6,149.9 172.9,150.1C175.3,150.2 178.4,150.0 179.9,149.2C181.5,148.3 182.1,146.4 182.4,145.0C182.7,143.5 181.8,142.1 181.5,140.6C181.2,139.1 180.3,137.7 180.4,136.2C180.4,134.7 181.2,132.9 181.7,131.8C182.2,130.8 182.4,130.2 183.4,129.9C184.5,129.6 186.0,130.3 187.8,129.9C189.6,129.5 192.8,128.6 194.1,127.6C195.5,126.6 196.2,124.9 195.9,123.9C195.6,123.0 193.8,122.0 192.2,121.7C190.6,121.5 187.7,122.0 186.1,122.4C184.4,122.8 183.7,123.7 182.1,124.1Z" fill="none" stroke="#3a3a3a" stroke-width="0.45" opacity="0.75"/>
<path d="M181.6,125.7C180.3,126.1 178.4,126.0 176.8,126.4C175.3,126.9 173.5,127.6 172.4,128.5C171.4,129.5 170.9,131.0 170.6,132.2C170.2,133.4 170.7,134.8 170.2,135.9C169.7,137.0 168.3,137.8 167.6,138.8C166.9,139.9 165.9,141.0 165.9,142.2C166.0,143.4 166.7,145.2 168.0,146.1C169.3,147.0 171.9,147.4 173.9,147.6C175.9,147.7 178.5,147.5 179.8,146.8C181.1,146.1 181.6,144.5 181.9,143.3C182.1,142.1 181.4,140.8 181.1,139.6C180.8,138.4 180.1,137.1 180.2,135.9C180.2,134.7 180.8,133.1 181.3,132.2C181.7,131.3 181.9,130.9 182.7,130.6C183.6,130.3 184.9,130.9 186.4,130.6C187.9,130.3 190.6,129.5 191.7,128.7C192.9,127.8 193.5,126.4 193.2,125.6C193.0,124.7 191.5,123.9 190.1,123.7C188.7,123.5 186.4,123.9 185.0,124.2C183.5,124.6 183.0,125.3 181.6,125.7Z" fill="none" stroke="#3a3a3a" stroke-width="0.4" opacity="0.7"/>
<path d="M182.6,122.5C180.8,123.0 178.1,122.9 176.0,123.5C173.9,124.2 171.4,125.1 169.9,126.4C168.5,127.7 167.9,129.8 167.4,131.4C166.9,133.1 167.6,135.0 166.9,136.5C166.2,138.0 164.3,139.1 163.3,140.6C162.3,142.0 160.9,143.5 161.0,145.1C161.1,146.8 162.0,149.3 163.8,150.5C165.7,151.8 169.3,152.4 172.0,152.6C174.7,152.7 178.3,152.5 180.1,151.5C181.9,150.6 182.6,148.3 182.9,146.7C183.2,145.0 182.3,143.3 181.9,141.6C181.5,139.9 180.6,138.2 180.6,136.5C180.6,134.8 181.5,132.7 182.1,131.4C182.7,130.2 183.0,129.6 184.1,129.2C185.3,128.8 187.1,129.7 189.2,129.2C191.3,128.8 195.0,127.7 196.5,126.6C198.1,125.4 198.9,123.4 198.6,122.3C198.2,121.2 196.2,120.1 194.3,119.8C192.4,119.5 189.1,120.0 187.2,120.5C185.2,120.9 184.5,122.0 182.6,122.5Z" fill="none" stroke="#333" stroke-width="0.5" filter="url(#b2)" opacity="0.8"/>
<ellipse cx="173.30" cy="129.91" rx="3.229527104959631" ry="2.306805074971165" fill="#e6e6e6" stroke="none" stroke-width="1" transform="rotate(0 173.30 129.91)" filter="url(#b1)" opacity="1"/>
<ellipse cx="175.61" cy="136.84" rx="2.5374855824682814" ry="2.883506343713956" fill="#cfcfcf" stroke="none" stroke-width="1" transform="rotate(0 175.61 136.84)" filter="url(#b1)" opacity="1"/>
<ellipse cx="169.84" cy="135.10" rx="1.6147635524798154" ry="2.5374855824682814" fill="#ddd" stroke="none" stroke-width="1" transform="rotate(0 169.84 135.10)" filter="url(#b1)" opacity="1"/>
<path d="M171.7,138.9q-1.2,0.8 -0.3,0.3" fill="none" stroke="#1a1a1a" stroke-width="1.2" opacity="0.8" filter="url(#b2)"/>
<path d="M170.7,141.3q-1.9,-0.7 -2.2,0.3" fill="none" stroke="#1a1a1a" stroke-width="1.2" opacity="0.8" filter="url(#b2)"/>
<path d="M169.8,142.8q-1.4,1.8 -1.2,-1.2" fill="none" stroke="#1a1a1a" stroke-width="0.9" opacity="0.8" filter="url(#b2)"/>
<path d="M168.5,143.7q-0.8,1.1 -2.4,-3.0" fill="none" stroke="#1a1a1a" stroke-width="0.9" opacity="0.8" filter="url(#b2)"/>
<path d="M170.2,130.6q-0.4,-0.2 1.6,-2.7" fill="none" stroke="#1a1a1a" stroke-width="0.6" opacity="0.8" filter="url(#b2)"/>
<path d="M176.3,139.3q1.7,-0.3 1.2,-2.5" fill="none" stroke="#1a1a1a" stroke-width="0.6" opacity="0.8" filter="url(#b2)"/>
<path d="M172.2,141.8q1.3,0.1 1.7,1.7" fill="none" stroke="#1a1a1a" stroke-width="0.9" opacity="0.8" filter="url(#b2)"/>
<path d="M168.3,138.7q0.5,0.8 -0.6,-2.8" fill="none" stroke="#1a1a1a" stroke-width="0.9" opacity="0.8" filter="url(#b2)"/>
<path d="M173.9,138.0q-0.0,1.9 0.5,-0.6" fill="none" stroke="#1a1a1a" stroke-width="0.9" opacity="0.8" filter="url(#b2)"/>
<path d="M175.0,138.3q-0.5,-0.2 -0.3,1.6" fill="none" stroke="#1a1a1a" stroke-width="0.9" opacity="0.8" filter="url(#b2)"/>
<path d="M169.3,137.2q0.4,0.6 -3.5,1.7" fill="none" stroke="#1a1a1a" stroke-width="0.9" opacity="0.8" filter="url(#b2)"/>
<path d="M169.6,134.0q0.1,1.2 -0.5,-0.9" fill="none" stroke="#1a1a1a" stroke-width="0.6" opacity="0.8" filter="url(#b2)"/>
<path d="M166.3,142.8q-0.7,1.4 2.4,3.2" fill="none" stroke="#1a1a1a" stroke-width="0.6" opacity="0.8" filter="url(#b2)"/>
<path d="M176.2,142.3q1.8,-1.9 -1.7,2.8" fill="none" stroke="#1a1a1a" stroke-width="0.9" opacity="0.8" filter="url(#b2)"/>
<path d="M175.6,140.7q0.2,2.0 0.1,0.1" fill="none" stroke="#1a1a1a" stroke-width="1.2" opacity="0.8" filter="url(#b2)"/>
<path d="M170.1,136.3q-1.8,0.7 -0.3,-3.4" fill="none" stroke="#1a1a1a" stroke-width="0.6" opacity="0.8" filter="url(#b2)"/>
<path d="M171.2,131.1q-0.5,-0.4 0.4,0.5" fill="none" stroke="#1a1a1a" stroke-width="0.6" opacity="0.8" filter="url(#b2)"/>
<path d="M176.1,136.6q-0.2,0.5 3.5,-1.1" fill="none" stroke="#1a1a1a" stroke-width="1.2" opacity="0.8" filter="url(#b2)"/>
<path d="M173.6,131.0q-0.5,-0.5 -3.0,-1.3" fill="none" stroke="#1a1a1a" stroke-width="0.6" opacity="0.8" filter="url(#b2)"/>
<path d="M166.6,142.4q0.8,1.3 3.4,2.7" fill="none" stroke="#1a1a1a" stroke-width="0.9" opacity="0.8" filter="url(#b2)"/>
<path d="M172.4,137.1q1.3,-1.2 2.8,-0.6" fill="none" stroke="#1a1a1a" stroke-width="0.6" opacity="0.8" filter="url(#b2)"/>
<path d="M172.4,138.3q-0.6,2.0 1.0,-3.2" fill="none" stroke="#1a1a1a" stroke-width="0.9" opacity="0.8" filter="url(#b2)"/>
<ellipse cx="170.42" cy="148.37" rx="11.8800461361015" ry="5.767012687427912" fill="#0b0b0b" stroke="none" stroke-width="1" transform="rotate(8 170.42 148.37)" filter="url(#b1)" opacity="1"/>
<ellipse cx="171.34" cy="147.45" rx="7.84083044982699" ry="2.883506343713956" fill="#8c8c8c" stroke="none" stroke-width="1" transform="rotate(8 171.34 147.45)" filter="url(#b1)" opacity="1"/>
<ellipse cx="179.07" cy="141.45" rx="2.5374855824682814" ry="4.61361014994233" fill="#1a1a1a" stroke="none" stroke-width="1" transform="rotate(0 179.07 141.45)" filter="url(#b1)" opacity="1"/>
<ellipse cx="168.11" cy="128.76" rx="1.1534025374855825" ry="3.4602076124567476" fill="#333" stroke="none" stroke-width="1" transform="rotate(0 168.11 128.76)" filter="url(#b1)" opacity="1"/>
<ellipse cx="177.91" cy="132.80" rx="2.0761245674740483" ry="1.1534025374855825" fill="#333" stroke="none" stroke-width="1" transform="rotate(0 177.91 132.80)" filter="url(#b1)" opacity="1"/>
<ellipse cx="171.57" cy="145.83" rx="5.536332179930796" ry="0.8304498269896194" fill="#f4f4f4" stroke="none" stroke-width="1" transform="rotate(5 171.57 145.83)" filter="url(#b2)" opacity="1"/>
<ellipse cx="191.99" cy="124.15" rx="10.975778546712803" ry="5.536332179930796" fill="#8a8a8a" stroke="none" stroke-width="1" transform="rotate(-20 191.99 124.15)" filter="url(#b1)" opacity="1"/>
<ellipse cx="191.99" cy="124.15" rx="9.716262975778548" ry="4.775086505190311" fill="#080808" stroke="none" stroke-width="1" transform="rotate(-20 191.99 124.15)" filter="url(#b1)" opacity="1"/>
<ellipse cx="191.18" cy="124.61" rx="5.3056516724336795" ry="0.34602076124567477" fill="#e4e4e4" stroke="none" stroke-width="1" transform="rotate(-20 191.18 124.61)" filter="url(#b2)" opacity="1"/>
<rect x="155.10" y="103.50" width="59.20" height="59.10" fill="none" stroke="#1b2140" stroke-width="1.0" />
<rect x="182.80" y="135.70" width="31.50" height="26.90" fill="none" stroke="#111" stroke-width="1.2" />
<ellipse cx="196.80" cy="123.60" rx="15.3" ry="8.7" fill="none" stroke="#111" stroke-width="1.3" transform="rotate(-20 196.80 123.60)" />
<line x1="153.50" y1="110.00" x2="155.10" y2="110.00" stroke="#1b2140" stroke-width="0.7" />
<line x1="153.50" y1="125.00" x2="155.10" y2="125.00" stroke="#1b2140" stroke-width="0.7" />
<line x1="153.50" y1="140.00" x2="155.10" y2="140.00" stroke="#1b2140" stroke-width="0.7" />
<line x1="153.50" y1="155.00" x2="155.10" y2="155.00" stroke="#1b2140" stroke-width="0.7" />
<line x1="163.10" y1="162.60" x2="163.10" y2="164.00" stroke="#1b2140" stroke-width="0.7" />
<line x1="175.10" y1="162.60" x2="175.10" y2="164.00" stroke="#1b2140" stroke-width="0.7" />
<line x1="187.10" y1="162.60" x2="187.10" y2="164.00" stroke="#1b2140" stroke-width="0.7" />
<line x1="199.10" y1="162.60" x2="199.10" y2="164.00" stroke="#1b2140" stroke-width="0.7" />
<line x1="211.10" y1="162.60" x2="211.10" y2="164.00" stroke="#1b2140" stroke-width="0.7" />
<line x1="165.10" y1="163.50" x2="177.10" y2="163.50" stroke="#1b2140" stroke-width="0.9" />
<path d="M248.3,121.6C246.1,122.2 243.2,122.0 240.8,122.8C238.4,123.6 236.0,124.7 233.8,126.5C231.7,128.2 229.7,130.9 228.1,133.4C226.4,135.9 224.7,138.9 224.0,141.4C223.4,143.9 223.5,146.3 224.4,148.4C225.2,150.4 227.1,152.6 229.2,153.8C231.4,155.0 234.8,155.5 237.3,155.5C239.8,155.5 242.8,155.2 244.5,153.8C246.1,152.4 247.3,149.5 247.5,147.2C247.6,145.0 246.3,142.4 245.6,140.3C244.9,138.2 243.1,136.5 243.3,134.8C243.5,133.1 245.7,131.2 246.8,130.1C247.8,129.1 247.9,128.8 249.4,128.5C250.9,128.3 253.3,129.2 255.8,128.8C258.3,128.3 262.5,127.1 264.4,125.9C266.3,124.6 267.6,122.6 267.3,121.3C267.0,119.9 265.0,118.2 262.7,117.8C260.4,117.4 255.9,118.3 253.4,119.0C251.0,119.6 250.4,121.0 248.3,121.6Z" fill="#c6c6c6" stroke="#333" stroke-width="0.8" filter="url(#b2)"/>
<path d="M247.4,124.6C245.8,125.1 243.5,124.9 241.7,125.5C239.8,126.1 238.0,127.0 236.4,128.3C234.8,129.7 233.3,131.7 232.0,133.6C230.8,135.5 229.4,137.8 229.0,139.7C228.5,141.6 228.6,143.4 229.2,145.0C229.9,146.5 231.3,148.2 232.9,149.1C234.5,150.0 237.1,150.4 239.0,150.4C241.0,150.4 243.2,150.2 244.5,149.1C245.8,148.0 246.6,145.8 246.8,144.1C246.9,142.4 245.9,140.4 245.4,138.8C244.8,137.3 243.5,135.9 243.6,134.6C243.7,133.4 245.5,131.9 246.2,131.1C247.0,130.3 247.1,130.1 248.2,129.9C249.4,129.7 251.2,130.4 253.1,130.1C255.0,129.7 258.2,128.8 259.6,127.9C261.1,126.9 262.1,125.4 261.8,124.4C261.6,123.4 260.1,122.0 258.3,121.8C256.6,121.5 253.1,122.1 251.3,122.6C249.5,123.1 249.0,124.2 247.4,124.6Z" fill="none" stroke="#3a3a3a" stroke-width="0.45" opacity="0.75"/>
<path d="M246.9,126.2C245.6,126.6 243.7,126.4 242.1,126.9C240.6,127.4 239.0,128.1 237.7,129.3C236.3,130.4 235.1,132.1 234.0,133.7C233.0,135.3 231.8,137.3 231.4,138.9C231.0,140.5 231.1,142.0 231.6,143.3C232.2,144.6 233.4,146.0 234.7,146.8C236.1,147.5 238.3,147.9 239.9,147.9C241.5,147.9 243.4,147.6 244.5,146.8C245.6,145.9 246.3,144.0 246.4,142.5C246.5,141.1 245.7,139.4 245.2,138.1C244.8,136.8 243.6,135.7 243.7,134.6C243.9,133.5 245.3,132.3 246.0,131.6C246.6,131.0 246.7,130.7 247.7,130.6C248.6,130.4 250.1,131.0 251.7,130.7C253.3,130.5 256.0,129.7 257.3,128.9C258.5,128.1 259.3,126.8 259.1,125.9C258.9,125.1 257.6,124.0 256.2,123.7C254.7,123.5 251.8,124.1 250.2,124.5C248.7,124.9 248.3,125.8 246.9,126.2Z" fill="none" stroke="#3a3a3a" stroke-width="0.4" opacity="0.7"/>
<path d="M247.8,123.1C246.0,123.7 243.3,123.4 241.2,124.1C239.1,124.9 237.0,125.8 235.1,127.4C233.3,128.9 231.5,131.3 230.1,133.5C228.6,135.7 227.0,138.4 226.5,140.6C226.0,142.8 226.0,144.9 226.8,146.7C227.6,148.5 229.2,150.4 231.1,151.4C233.0,152.5 235.9,153.0 238.2,153.0C240.4,153.0 243.0,152.7 244.5,151.4C246.0,150.2 246.9,147.6 247.1,145.7C247.3,143.7 246.1,141.4 245.5,139.6C244.9,137.7 243.3,136.2 243.4,134.7C243.6,133.2 245.6,131.6 246.5,130.6C247.4,129.7 247.5,129.4 248.8,129.2C250.1,129.0 252.2,129.8 254.4,129.4C256.6,129.0 260.3,128.0 262.0,126.9C263.7,125.8 264.8,124.0 264.6,122.8C264.3,121.6 262.5,120.1 260.5,119.8C258.5,119.4 254.5,120.2 252.4,120.8C250.3,121.4 249.7,122.6 247.8,123.1Z" fill="none" stroke="#333" stroke-width="0.5" filter="url(#b2)" opacity="0.8"/>
<ellipse cx="238.45" cy="131.07" rx="3.4602076124567476" ry="2.5374855824682814" fill="#dadada" stroke="none" stroke-width="1" transform="rotate(0 238.45 131.07)" filter="url(#b1)" opacity="1"/>
<ellipse cx="232.69" cy="142.60" rx="3.229527104959631" ry="3.4602076124567476" fill="#bbb" stroke="none" stroke-width="1" transform="rotate(0 232.69 142.60)" filter="url(#b1)" opacity="1"/>
<ellipse cx="240.18" cy="139.14" rx="2.306805074971165" ry="2.5374855824682814" fill="#c4c4c4" stroke="none" stroke-width="1" transform="rotate(0 240.18 139.14)" filter="url(#b1)" opacity="1"/>
<path d="M231.1,129.9q0.8,0.2 2.9,-0.7" fill="none" stroke="#1a1a1a" stroke-width="0.6" opacity="0.8" filter="url(#b2)"/>
<path d="M237.5,139.4q-1.2,-0.0 0.4,-1.6" fill="none" stroke="#1a1a1a" stroke-width="1.2" opacity="0.8" filter="url(#b2)"/>
<path d="M241.0,137.2q-1.4,-1.2 0.7,-2.5" fill="none" stroke="#1a1a1a" stroke-width="1.2" opacity="0.8" filter="url(#b2)"/>
<path d="M239.5,131.4q-1.6,-1.3 0.2,2.3" fill="none" stroke="#1a1a1a" stroke-width="1.2" opacity="0.8" filter="url(#b2)"/>
<path d="M235.8,141.3q0.6,0.7 0.6,-2.5" fill="none" stroke="#1a1a1a" stroke-width="0.6" opacity="0.8" filter="url(#b2)"/>
<path d="M234.9,132.3q-0.9,-1.6 2.8,0.6" fill="none" stroke="#1a1a1a" stroke-width="0.9" opacity="0.8" filter="url(#b2)"/>
<path d="M233.1,138.8q-1.9,-1.1 -0.7,1.8" fill="none" stroke="#1a1a1a" stroke-width="0.6" opacity="0.8" filter="url(#b2)"/>
<path d="M235.9,138.8q-1.0,-1.8 3.0,2.5" fill="none" stroke="#1a1a1a" stroke-width="0.9" opacity="0.8" filter="url(#b2)"/>
<path d="M231.0,142.3q-0.2,-0.3 -1.7,2.7" fill="none" stroke="#1a1a1a" stroke-width="0.6" opacity="0.8" filter="url(#b2)"/>
<path d="M233.7,135.5q0.9,-1.1 -1.3,2.6" fill="none" stroke="#1a1a1a" stroke-width="0.9" opacity="0.8" filter="url(#b2)"/>
<path d="M231.2,142.3q-1.7,-1.3 -0.8,-3.4" fill="none" stroke="#1a1a1a" stroke-width="0.9" opacity="0.8" filter="url(#b2)"/>
<path d="M235.4,135.1q-0.7,1.5 -1.1,1.1" fill="none" stroke="#1a1a1a" stroke-width="0.6" opacity="0.8" filter="url(#b2)"/>
<path d="M235.7,143.0q0.2,-0.5 -0.2,-1.1" fill="none" stroke="#1a1a1a" stroke-width="0.9" opacity="0.8" filter="url(#b2)"/>
<path d="M231.3,139.4q-0.6,-1.4 1.4,-2.9" fill="none" stroke="#1a1a1a" stroke-width="0.9" opacity="0.8" filter="url(#b2)"/>
<path d="M237.1,141.2q0.2,-0.1 2.1,-1.8" fill="none" stroke="#1a1a1a" stroke-width="0.9" opacity="0.8" filter="url(#b2)"/>
<path d="M234.9,140.2q-0.5,1.8 -2.0,3.2" fill="none" stroke="#1a1a1a" stroke-width="1.2" opacity="0.8" filter="url(#b2)"/>
<path d="M233.3,142.2q0.7,1.8 3.5,0.7" fill="none" stroke="#1a1a1a" stroke-width="0.9" opacity="0.8" filter="url(#b2)"/>
<path d="M237.6,135.1q-1.0,0.4 -2.0,2.6" fill="none" stroke="#1a1a1a" stroke-width="0.6" opacity="0.8" filter="url(#b2)"/>
<path d="M238.6,131.2q1.4,0.9 1.9,-3.3" fill="none" stroke="#1a1a1a" stroke-width="1.2" opacity="0.8" filter="url(#b2)"/>
<path d="M237.3,134.3q-0.4,-1.7 -2.3,2.5" fill="none" stroke="#1a1a1a" stroke-width="0.9" opacity="0.8" filter="url(#b2)"/>
<path d="M233.1,142.6q-1.7,1.7 2.1,1.8" fill="none" stroke="#1a1a1a" stroke-width="0.6" opacity="0.8" filter="url(#b2)"/>
<path d="M231.7,134.3q-1.1,-1.5 1.5,-1.5" fill="none" stroke="#1a1a1a" stroke-width="0.9" opacity="0.8" filter="url(#b2)"/>
<ellipse cx="233.84" cy="147.79" rx="10.611303344867359" ry="7.151095732410611" fill="#0b0b0b" stroke="none" stroke-width="1" transform="rotate(35 233.84 147.79)" filter="url(#b1)" opacity="1"/>
<ellipse cx="234.76" cy="146.87" rx="7.0034602076124575" ry="3.5755478662053055" fill="#8c8c8c" stroke="none" stroke-width="1" transform="rotate(35 234.76 146.87)" filter="url(#b1)" opacity="1"/>
<ellipse cx="234.99" cy="135.68" rx="1.6147635524798154" ry="1.384083044982699" fill="#222" stroke="none" stroke-width="1" transform="rotate(0 234.99 135.68)" filter="url(#b1)" opacity="1"/>
<ellipse cx="243.64" cy="146.06" rx="2.5374855824682814" ry="5.190311418685122" fill="#222" stroke="none" stroke-width="1" transform="rotate(0 243.64 146.06)" filter="url(#b1)" opacity="1"/>
<ellipse cx="226.92" cy="141.45" rx="1.384083044982699" ry="3.4602076124567476" fill="#222" stroke="none" stroke-width="1" transform="rotate(0 226.92 141.45)" filter="url(#b1)" opacity="1"/>
<ellipse cx="237.30" cy="145.49" rx="1.6147635524798154" ry="1.1072664359861593" fill="#f4f4f4" stroke="none" stroke-width="1" transform="rotate(0 237.30 145.49)" filter="url(#b2)" opacity="1"/>
<ellipse cx="257.14" cy="124.15" rx="11.257208765859284" ry="5.720876585928489" fill="#8a8a8a" stroke="none" stroke-width="1" transform="rotate(-18 257.14 124.15)" filter="url(#b1)" opacity="1"/>
<ellipse cx="257.14" cy="124.15" rx="9.965397923875432" ry="4.9342560553633215" fill="#080808" stroke="none" stroke-width="1" transform="rotate(-18 257.14 124.15)" filter="url(#b1)" opacity="1"/>
<ellipse cx="256.68" cy="124.49" rx="5.3056516724336795" ry="0.34602076124567477" fill="#e4e4e4" stroke="none" stroke-width="1" transform="rotate(-18 256.68 124.49)" filter="url(#b2)" opacity="1"/>
<rect x="219.40" y="103.50" width="59.20" height="59.10" fill="none" stroke="#1b2140" stroke-width="1.0" />
<rect x="247.10" y="135.70" width="31.50" height="26.90" fill="none" stroke="#111" stroke-width="1.2" />
<ellipse cx="261.10" cy="123.60" rx="15.3" ry="8.7" fill="none" stroke="#111" stroke-width="1.3" transform="rotate(-20 261.10 123.60)" />
<line x1="217.80" y1="110.00" x2="219.40" y2="110.00" stroke="#1b2140" stroke-width="0.7" />
<line x1="217.80" y1="125.00" x2="219.40" y2="125.00" stroke="#1b2140" stroke-width="0.7" />
<line x1="217.80" y1="140.00" x2="219.40" y2="140.00" stroke="#1b2140" stroke-width="0.7" />
<line x1="217.80" y1="155.00" x2="219.40" y2="155.00" stroke="#1b2140" stroke-width="0.7" />
<line x1="227.40" y1="162.60" x2="227.40" y2="164.00" stroke="#1b2140" stroke-width="0.7" />
<line x1="239.40" y1="162.60" x2="239.40" y2="164.00" stroke="#1b2140" stroke-width="0.7" />
<line x1="251.40" y1="162.60" x2="251.40" y2="164.00" stroke="#1b2140" stroke-width="0.7" />
<line x1="263.40" y1="162.60" x2="263.40" y2="164.00" stroke="#1b2140" stroke-width="0.7" />
<line x1="275.40" y1="162.60" x2="275.40" y2="164.00" stroke="#1b2140" stroke-width="0.7" />
<line x1="229.40" y1="163.50" x2="241.40" y2="163.50" stroke="#1b2140" stroke-width="0.9" />
<path d="M311.7,122.1C309.2,122.6 306.3,121.9 303.6,122.8C300.9,123.6 297.6,125.3 295.5,127.0C293.4,128.8 291.9,131.0 290.9,133.4C290.0,135.8 290.3,139.1 289.8,141.4C289.2,143.8 287.3,145.3 287.7,147.2C288.1,149.2 289.8,151.8 292.1,153.2C294.3,154.6 298.5,155.6 301.3,155.5C304.1,155.4 307.4,154.2 309.0,152.6C310.7,151.1 311.3,148.3 311.3,146.1C311.3,143.8 309.7,141.2 309.0,139.1C308.4,137.1 306.9,135.5 307.3,134.0C307.7,132.4 309.5,130.3 311.3,129.6C313.2,128.8 315.9,129.9 318.6,129.3C321.4,128.8 325.7,127.7 327.8,126.5C329.9,125.2 331.5,123.1 331.3,121.8C331.1,120.6 328.8,119.3 326.7,119.0C324.6,118.6 321.1,119.0 318.6,119.5C316.1,120.1 314.2,121.5 311.7,122.1Z" fill="#c6c6c6" stroke="#333" stroke-width="0.8" filter="url(#b2)"/>
<path d="M310.8,125.0C308.9,125.5 306.7,124.9 304.7,125.6C302.6,126.2 300.1,127.5 298.5,128.8C296.9,130.2 295.7,131.8 295.0,133.6C294.3,135.5 294.5,138.0 294.1,139.8C293.7,141.5 292.3,142.7 292.6,144.2C292.9,145.6 294.2,147.7 295.9,148.7C297.6,149.8 300.8,150.5 302.9,150.5C305.1,150.4 307.5,149.5 308.8,148.3C310.0,147.1 310.5,145.0 310.5,143.3C310.5,141.6 309.3,139.6 308.8,138.0C308.3,136.5 307.2,135.3 307.5,134.1C307.8,132.9 309.1,131.3 310.5,130.7C312.0,130.2 314.0,131.0 316.1,130.6C318.1,130.2 321.5,129.3 323.1,128.4C324.7,127.4 325.8,125.8 325.7,124.9C325.5,123.9 323.8,123.0 322.2,122.7C320.6,122.4 318.0,122.7 316.1,123.1C314.2,123.5 312.7,124.6 310.8,125.0Z" fill="none" stroke="#3a3a3a" stroke-width="0.45" opacity="0.75"/>
<path d="M310.3,126.5C308.7,126.9 306.9,126.4 305.2,127.0C303.5,127.5 301.4,128.6 300.0,129.7C298.7,130.8 297.7,132.2 297.1,133.8C296.4,135.3 296.7,137.5 296.3,138.9C296.0,140.4 294.7,141.4 295.0,142.6C295.2,143.9 296.3,145.6 297.8,146.5C299.3,147.3 301.9,148.0 303.7,147.9C305.5,147.9 307.6,147.1 308.7,146.1C309.7,145.1 310.1,143.3 310.1,141.9C310.1,140.4 309.1,138.7 308.7,137.5C308.2,136.2 307.3,135.2 307.5,134.1C307.8,133.1 308.9,131.8 310.1,131.3C311.3,130.8 313.0,131.5 314.8,131.2C316.5,130.8 319.3,130.1 320.7,129.3C322.0,128.5 323.0,127.2 322.9,126.4C322.8,125.6 321.3,124.8 319.9,124.5C318.6,124.3 316.4,124.6 314.8,124.9C313.2,125.2 311.9,126.2 310.3,126.5Z" fill="none" stroke="#3a3a3a" stroke-width="0.4" opacity="0.7"/>
<path d="M311.2,123.6C309.0,124.0 306.5,123.4 304.1,124.2C301.8,124.9 298.9,126.4 297.0,127.9C295.2,129.5 293.8,131.4 293.0,133.5C292.1,135.6 292.4,138.6 292.0,140.6C291.5,142.6 289.8,144.0 290.1,145.7C290.5,147.4 292.0,149.7 294.0,151.0C296.0,152.2 299.6,153.1 302.1,153.0C304.6,152.9 307.4,151.8 308.9,150.5C310.4,149.1 310.9,146.6 310.9,144.7C310.9,142.7 309.5,140.4 308.9,138.6C308.3,136.8 307.0,135.4 307.4,134.0C307.7,132.6 309.3,130.8 310.9,130.2C312.6,129.5 314.9,130.4 317.3,130.0C319.7,129.5 323.6,128.5 325.4,127.4C327.3,126.3 328.7,124.5 328.5,123.4C328.3,122.3 326.3,121.2 324.4,120.8C322.6,120.5 319.5,120.9 317.3,121.3C315.1,121.8 313.4,123.1 311.2,123.6Z" fill="none" stroke="#333" stroke-width="0.5" filter="url(#b2)" opacity="0.8"/>
<ellipse cx="298.99" cy="129.91" rx="4.036908881199539" ry="2.306805074971165" fill="#d2d2d2" stroke="none" stroke-width="1" transform="rotate(0 298.99 129.91)" filter="url(#b1)" opacity="1"/>
<ellipse cx="297.84" cy="142.60" rx="4.61361014994233" ry="3.229527104959631" fill="#b0b0b0" stroke="none" stroke-width="1" transform="rotate(0 297.84 142.60)" filter="url(#b1)" opacity="1"/>
<ellipse cx="294.38" cy="135.68" rx="1.6147635524798154" ry="2.5374855824682814" fill="#ccc" stroke="none" stroke-width="1" transform="rotate(0 294.38 135.68)" filter="url(#b1)" opacity="1"/>
<path d="M304.2,137.1q0.5,0.5 2.5,3.1" fill="none" stroke="#1a1a1a" stroke-width="0.6" opacity="0.8" filter="url(#b2)"/>
<path d="M295.0,140.1q0.7,-0.6 -0.6,1.1" fill="none" stroke="#1a1a1a" stroke-width="1.2" opacity="0.8" filter="url(#b2)"/>
<path d="M299.9,144.6q-0.4,1.6 -2.8,-1.5" fill="none" stroke="#1a1a1a" stroke-width="0.9" opacity="0.8" filter="url(#b2)"/>
<path d="M305.0,140.9q0.9,-1.8 -3.2,-2.4" fill="none" stroke="#1a1a1a" stroke-width="0.6" opacity="0.8" filter="url(#b2)"/>
<path d="M303.2,132.8q1.0,0.2 0.9,3.1" fill="none" stroke="#1a1a1a" stroke-width="1.2" opacity="0.8" filter="url(#b2)"/>
<path d="M304.2,138.6q0.9,-1.0 -0.5,1.3" fill="none" stroke="#1a1a1a" stroke-width="0.9" opacity="0.8" filter="url(#b2)"/>
<path d="M305.3,132.2q1.1,0.6 2.8,2.6" fill="none" stroke="#1a1a1a" stroke-width="1.2" opacity="0.8" filter="url(#b2)"/>
<path d="M301.6,131.3q-1.0,-1.6 2.0,-2.0" fill="none" stroke="#1a1a1a" stroke-width="0.9" opacity="0.8" filter="url(#b2)"/>
<path d="M303.2,131.9q0.8,-0.4 1.7,2.3" fill="none" stroke="#1a1a1a" stroke-width="0.9" opacity="0.8" filter="url(#b2)"/>
<path d="M300.6,135.5q1.8,-0.2 -1.1,0.0" fill="none" stroke="#1a1a1a" stroke-width="1.2" opacity="0.8" filter="url(#b2)"/>
<path d="M304.1,139.4q-0.2,-1.8 1.4,-0.5" fill="none" stroke="#1a1a1a" stroke-width="1.2" opacity="0.8" filter="url(#b2)"/>
<path d="M304.3,141.5q-0.0,-1.2 3.2,2.3" fill="none" stroke="#1a1a1a" stroke-width="1.2" opacity="0.8" filter="url(#b2)"/>
<path d="M297.6,138.2q1.9,0.6 0.3,-1.8" fill="none" stroke="#1a1a1a" stroke-width="0.6" opacity="0.8" filter="url(#b2)"/>
<path d="M296.6,135.5q-1.6,0.5 -2.5,1.3" fill="none" stroke="#1a1a1a" stroke-width="0.9" opacity="0.8" filter="url(#b2)"/>
<path d="M302.3,134.0q-1.0,0.1 -0.4,3.1" fill="none" stroke="#1a1a1a" stroke-width="0.9" opacity="0.8" filter="url(#b2)"/>
<path d="M302.6,132.5q0.8,0.4 -1.8,0.9" fill="none" stroke="#1a1a1a" stroke-width="0.6" opacity="0.8" filter="url(#b2)"/>
<path d="M300.9,141.2q-1.3,0.7 0.7,-0.3" fill="none" stroke="#1a1a1a" stroke-width="0.9" opacity="0.8" filter="url(#b2)"/>
<path d="M304.1,132.2q-0.8,-0.6 -2.1,-3.1" fill="none" stroke="#1a1a1a" stroke-width="0.9" opacity="0.8" filter="url(#b2)"/>
<path d="M298.1,132.2q-0.8,1.9 -2.4,-0.4" fill="none" stroke="#1a1a1a" stroke-width="1.2" opacity="0.8" filter="url(#b2)"/>
<path d="M298.8,133.0q-1.7,-2.0 3.4,1.8" fill="none" stroke="#1a1a1a" stroke-width="0.6" opacity="0.8" filter="url(#b2)"/>
<path d="M303.1,135.3q1.0,-0.9 1.0,3.2" fill="none" stroke="#1a1a1a" stroke-width="0.9" opacity="0.8" filter="url(#b2)"/>
<path d="M296.8,138.2q-2.0,1.7 1.0,0.9" fill="none" stroke="#1a1a1a" stroke-width="1.2" opacity="0.8" filter="url(#b2)"/>
<ellipse cx="298.42" cy="148.60" rx="11.534025374855824" ry="5.997693194925029" fill="#0b0b0b" stroke="none" stroke-width="1" transform="rotate(12 298.42 148.60)" filter="url(#b1)" opacity="1"/>
<ellipse cx="299.34" cy="147.68" rx="7.612456747404845" ry="2.9988465974625145" fill="#8c8c8c" stroke="none" stroke-width="1" transform="rotate(12 299.34 147.68)" filter="url(#b1)" opacity="1"/>
<ellipse cx="301.30" cy="135.68" rx="1.384083044982699" ry="4.036908881199539" fill="#333" stroke="none" stroke-width="1" transform="rotate(0 301.30 135.68)" filter="url(#b1)" opacity="1"/>
<ellipse cx="308.22" cy="142.60" rx="2.306805074971165" ry="5.767012687427912" fill="#2a2a2a" stroke="none" stroke-width="1" transform="rotate(0 308.22 142.60)" filter="url(#b1)" opacity="1"/>
<ellipse cx="308.22" cy="124.15" rx="3.4602076124567476" ry="0.922722029988466" fill="#333" stroke="none" stroke-width="1" transform="rotate(0 308.22 124.15)" filter="url(#b1)" opacity="1"/>
<ellipse cx="301.88" cy="145.83" rx="1.6147635524798154" ry="0.922722029988466" fill="#f4f4f4" stroke="none" stroke-width="1" transform="rotate(0 301.88 145.83)" filter="url(#b2)" opacity="1"/>
<ellipse cx="320.91" cy="123.80" rx="11.538638985005766" ry="4.429065743944637" fill="#8a8a8a" stroke="none" stroke-width="1" transform="rotate(-17 320.91 123.80)" filter="url(#b1)" opacity="1"/>
<ellipse cx="320.91" cy="123.80" rx="10.214532871972319" ry="3.820069204152249" fill="#3a3a3a" stroke="none" stroke-width="1" transform="rotate(-17 320.91 123.80)" filter="url(#b1)" opacity="1"/>
<ellipse cx="320.68" cy="124.15" rx="5.3056516724336795" ry="0.28835063437139563" fill="#8a8a8a" stroke="none" stroke-width="1" transform="rotate(-17 320.68 124.15)" filter="url(#b2)" opacity="1"/>
<rect x="284.00" y="103.50" width="59.20" height="59.10" fill="none" stroke="#1b2140" stroke-width="1.0" />
<rect x="311.70" y="135.70" width="31.50" height="26.90" fill="none" stroke="#111" stroke-width="1.2" />
<ellipse cx="325.70" cy="123.60" rx="15.3" ry="8.7" fill="none" stroke="#111" stroke-width="1.3" transform="rotate(-20 325.70 123.60)" />
<line x1="282.40" y1="110.00" x2="284.00" y2="110.00" stroke="#1b2140" stroke-width="0.7" />
<line x1="282.40" y1="125.00" x2="284.00" y2="125.00" stroke="#1b2140" stroke-width="0.7" />
<line x1="282.40" y1="140.00" x2="284.00" y2="140.00" stroke="#1b2140" stroke-width="0.7" />
<line x1="282.40" y1="155.00" x2="284.00" y2="155.00" stroke="#1b2140" stroke-width="0.7" />
<line x1="292.00" y1="162.60" x2="292.00" y2="164.00" stroke="#1b2140" stroke-width="0.7" />
<line x1="304.00" y1="162.60" x2="304.00" y2="164.00" stroke="#1b2140" stroke-width="0.7" />
<line x1="316.00" y1="162.60" x2="316.00" y2="164.00" stroke="#1b2140" stroke-width="0.7" />
<line x1="328.00" y1="162.60" x2="328.00" y2="164.00" stroke="#1b2140" stroke-width="0.7" />
<line x1="340.00" y1="162.60" x2="340.00" y2="164.00" stroke="#1b2140" stroke-width="0.7" />
<line x1="294.00" y1="163.50" x2="306.00" y2="163.50" stroke="#1b2140" stroke-width="0.9" />
<path d="M376.1,122.8C373.8,123.8 372.2,123.5 369.8,124.7C367.4,125.9 364.0,127.7 361.7,129.9C359.4,132.1 357.3,135.5 355.9,138.0C354.5,140.5 353.2,142.6 353.4,144.9C353.6,147.2 354.9,150.1 357.1,151.6C359.2,153.1 363.2,153.8 366.3,153.9C369.4,154.0 373.6,151.9 375.5,152.4C377.5,152.9 376.5,156.3 378.1,156.7C379.6,157.0 382.8,156.1 384.8,154.4C386.7,152.6 389.0,149.0 389.6,146.1C390.2,143.1 389.4,138.9 388.4,136.8C387.4,134.8 385.4,134.6 383.6,134.0C381.8,133.3 377.8,133.6 377.8,132.8C377.8,132.0 380.7,130.4 383.6,129.3C386.5,128.3 392.3,127.9 395.1,126.5C398.0,125.0 400.9,122.3 400.9,120.7C400.9,119.1 398.0,117.3 395.1,117.0C392.3,116.7 386.8,117.7 383.6,118.6C380.4,119.6 378.4,121.7 376.1,122.8Z" fill="#c6c6c6" stroke="#333" stroke-width="0.8" filter="url(#b2)"/>
<path d="M376.5,126.0C374.7,126.8 373.5,126.6 371.7,127.5C369.8,128.4 367.3,129.8 365.5,131.5C363.8,133.1 362.2,135.7 361.1,137.6C360.1,139.5 359.1,141.1 359.2,142.9C359.4,144.6 360.4,146.8 362.0,147.9C363.7,149.1 366.7,149.6 369.0,149.7C371.4,149.8 374.6,148.2 376.1,148.6C377.5,148.9 376.8,151.6 378.0,151.8C379.1,152.0 381.6,151.4 383.1,150.0C384.5,148.7 386.3,146.0 386.7,143.7C387.2,141.5 386.6,138.3 385.9,136.7C385.1,135.2 383.5,135.0 382.2,134.5C380.8,134.0 377.8,134.2 377.8,133.7C377.8,133.1 380.0,131.8 382.2,131.0C384.4,130.2 388.8,129.9 391.0,128.8C393.1,127.7 395.3,125.6 395.3,124.5C395.3,123.3 393.1,121.9 391.0,121.6C388.8,121.4 384.6,122.1 382.2,122.9C379.8,123.6 378.2,125.3 376.5,126.0Z" fill="none" stroke="#3a3a3a" stroke-width="0.45" opacity="0.75"/>
<path d="M376.7,127.7C375.2,128.3 374.2,128.2 372.6,128.9C371.1,129.7 368.9,130.8 367.5,132.2C366.0,133.7 364.6,135.8 363.8,137.4C362.9,139.0 362.0,140.4 362.1,141.8C362.3,143.3 363.1,145.2 364.5,146.1C365.9,147.1 368.4,147.5 370.4,147.6C372.4,147.7 375.1,146.3 376.3,146.6C377.6,146.9 377.0,149.2 377.9,149.4C378.9,149.6 381.0,149.0 382.2,147.9C383.4,146.8 384.9,144.4 385.3,142.6C385.7,140.7 385.2,138.0 384.6,136.7C383.9,135.4 382.6,135.3 381.5,134.8C380.3,134.4 377.8,134.6 377.8,134.1C377.8,133.6 379.6,132.5 381.5,131.9C383.3,131.2 387.0,130.9 388.9,130.0C390.7,129.1 392.6,127.3 392.6,126.3C392.6,125.3 390.7,124.2 388.9,124.0C387.0,123.7 383.5,124.4 381.5,125.0C379.5,125.6 378.2,127.0 376.7,127.7Z" fill="none" stroke="#3a3a3a" stroke-width="0.4" opacity="0.7"/>
<path d="M376.3,124.4C374.3,125.3 372.8,125.1 370.7,126.1C368.6,127.2 365.6,128.7 363.6,130.7C361.6,132.6 359.8,135.6 358.5,137.8C357.3,140.0 356.1,141.9 356.3,143.9C356.5,145.9 357.7,148.5 359.5,149.8C361.4,151.1 365.0,151.7 367.7,151.8C370.4,151.9 374.1,150.1 375.8,150.5C377.5,150.9 376.7,153.9 378.0,154.2C379.4,154.5 382.2,153.8 383.9,152.2C385.6,150.7 387.6,147.5 388.2,144.9C388.7,142.3 388.0,138.6 387.2,136.8C386.3,135.0 384.5,134.8 382.9,134.2C381.3,133.6 377.8,133.9 377.8,133.2C377.8,132.5 380.4,131.1 382.9,130.2C385.4,129.3 390.5,128.9 393.0,127.6C395.6,126.4 398.1,124.0 398.1,122.6C398.1,121.2 395.6,119.6 393.0,119.3C390.5,119.0 385.7,119.9 382.9,120.7C380.1,121.6 378.3,123.5 376.3,124.4Z" fill="none" stroke="#333" stroke-width="0.5" filter="url(#b2)" opacity="0.8"/>
<ellipse cx="366.30" cy="134.53" rx="5.190311418685122" ry="3.4602076124567476" fill="#d8d8d8" stroke="none" stroke-width="1" transform="rotate(0 366.30 134.53)" filter="url(#b1)" opacity="1"/>
<ellipse cx="365.15" cy="142.60" rx="5.190311418685122" ry="2.5374855824682814" fill="#c0c0c0" stroke="none" stroke-width="1" transform="rotate(0 365.15 142.60)" filter="url(#b1)" opacity="1"/>
<ellipse cx="383.03" cy="144.91" rx="5.190311418685122" ry="8.073817762399077" fill="#d9d9d9" stroke="none" stroke-width="1" transform="rotate(0 383.03 144.91)" filter="url(#b1)" opacity="1"/>
<path d="M369.0,133.5q-1.0,-1.4 -3.3,1.9" fill="none" stroke="#1a1a1a" stroke-width="0.6" opacity="0.8" filter="url(#b2)"/>
<path d="M364.6,132.5q0.6,1.4 3.0,-2.3" fill="none" stroke="#1a1a1a" stroke-width="1.2" opacity="0.8" filter="url(#b2)"/>
<path d="M371.2,140.9q-0.7,-1.3 2.3,-1.3" fill="none" stroke="#1a1a1a" stroke-width="0.9" opacity="0.8" filter="url(#b2)"/>
<path d="M362.7,143.6q1.4,-1.0 -3.1,-2.7" fill="none" stroke="#1a1a1a" stroke-width="1.2" opacity="0.8" filter="url(#b2)"/>
<path d="M372.4,144.8q-0.4,-1.8 -2.0,-0.5" fill="none" stroke="#1a1a1a" stroke-width="1.2" opacity="0.8" filter="url(#b2)"/>
<path d="M362.9,134.2q0.3,-1.7 1.3,-2.4" fill="none" stroke="#1a1a1a" stroke-width="0.9" opacity="0.8" filter="url(#b2)"/>
<path d="M368.9,135.7q1.9,1.4 -0.1,-2.0" fill="none" stroke="#1a1a1a" stroke-width="0.9" opacity="0.8" filter="url(#b2)"/>
<path d="M361.0,142.4q1.4,1.1 -0.5,-1.5" fill="none" stroke="#1a1a1a" stroke-width="1.2" opacity="0.8" filter="url(#b2)"/>
<path d="M361.7,140.4q1.6,-1.7 -3.4,3.2" fill="none" stroke="#1a1a1a" stroke-width="0.6" opacity="0.8" filter="url(#b2)"/>
<path d="M372.2,132.2q-0.8,-0.2 0.4,-1.1" fill="none" stroke="#1a1a1a" stroke-width="0.6" opacity="0.8" filter="url(#b2)"/>
<path d="M366.8,137.9q0.1,-0.3 0.2,0.9" fill="none" stroke="#1a1a1a" stroke-width="0.6" opacity="0.8" filter="url(#b2)"/>
<path d="M373.0,144.2q0.5,1.2 -3.1,1.2" fill="none" stroke="#1a1a1a" stroke-width="1.2" opacity="0.8" filter="url(#b2)"/>
<path d="M369.1,138.2q-0.3,-0.5 1.1,-2.5" fill="none" stroke="#1a1a1a" stroke-width="0.9" opacity="0.8" filter="url(#b2)"/>
<path d="M367.5,139.2q1.4,-1.1 1.7,1.3" fill="none" stroke="#1a1a1a" stroke-width="0.6" opacity="0.8" filter="url(#b2)"/>
<path d="M369.1,135.3q0.3,-0.3 0.2,0.5" fill="none" stroke="#1a1a1a" stroke-width="0.9" opacity="0.8" filter="url(#b2)"/>
<path d="M364.2,133.1q1.9,-1.2 1.7,-2.0" fill="none" stroke="#1a1a1a" stroke-width="0.9" opacity="0.8" filter="url(#b2)"/>
<path d="M369.0,132.5q0.7,0.8 -1.9,-0.3" fill="none" stroke="#1a1a1a" stroke-width="1.2" opacity="0.8" filter="url(#b2)"/>
<path d="M368.1,131.4q0.1,0.4 -2.9,-0.6" fill="none" stroke="#1a1a1a" stroke-width="0.6" opacity="0.8" filter="url(#b2)"/>
<path d="M370.9,131.7q0.0,0.0 2.4,3.1" fill="none" stroke="#1a1a1a" stroke-width="1.2" opacity="0.8" filter="url(#b2)"/>
<path d="M373.2,140.6q-1.6,1.3 -0.8,-2.3" fill="none" stroke="#1a1a1a" stroke-width="0.6" opacity="0.8" filter="url(#b2)"/>
<path d="M367.9,141.4q-1.5,1.1 -3.1,-1.8" fill="none" stroke="#1a1a1a" stroke-width="0.9" opacity="0.8" filter="url(#b2)"/>
<path d="M361.5,140.3q1.8,-0.2 -2.7,-2.6" fill="none" stroke="#1a1a1a" stroke-width="0.6" opacity="0.8" filter="url(#b2)"/>
<ellipse cx="364.57" cy="147.22" rx="11.534025374855824" ry="5.997693194925029" fill="#0b0b0b" stroke="none" stroke-width="1" transform="rotate(8 364.57 147.22)" filter="url(#b1)" opacity="1"/>
<ellipse cx="365.49" cy="146.29" rx="7.612456747404845" ry="2.9988465974625145" fill="#8c8c8c" stroke="none" stroke-width="1" transform="rotate(8 365.49 146.29)" filter="url(#b1)" opacity="1"/>
<ellipse cx="369.18" cy="131.64" rx="1.1534025374855825" ry="0.922722029988466" fill="#222" stroke="none" stroke-width="1" transform="rotate(0 369.18 131.64)" filter="url(#b1)" opacity="1"/>
<ellipse cx="374.95" cy="146.06" rx="1.6147635524798154" ry="4.61361014994233" fill="#333" stroke="none" stroke-width="1" transform="rotate(0 374.95 146.06)" filter="url(#b1)" opacity="1"/>
<ellipse cx="369.18" cy="144.91" rx="2.0761245674740483" ry="0.922722029988466" fill="#f4f4f4" stroke="none" stroke-width="1" transform="rotate(0 369.18 144.91)" filter="url(#b2)" opacity="1"/>
<ellipse cx="388.91" cy="124.15" rx="14.071510957324106" ry="6.6435986159169556" fill="#8a8a8a" stroke="none" stroke-width="1" transform="rotate(-20 388.91 124.15)" filter="url(#b1)" opacity="1"/>
<ellipse cx="388.91" cy="124.15" rx="12.456747404844291" ry="5.730103806228373" fill="#080808" stroke="none" stroke-width="1" transform="rotate(-20 388.91 124.15)" filter="url(#b1)" opacity="1"/>
<ellipse cx="387.64" cy="124.84" rx="6.689734717416378" ry="0.461361014994233" fill="#ededed" stroke="none" stroke-width="1" transform="rotate(-20 387.64 124.84)" filter="url(#b2)" opacity="1"/>
<rect x="348.40" y="103.50" width="59.20" height="59.10" fill="none" stroke="#1b2140" stroke-width="1.0" />
<rect x="376.10" y="135.70" width="31.50" height="26.90" fill="none" stroke="#111" stroke-width="1.2" />
<ellipse cx="390.10" cy="123.60" rx="15.3" ry="8.7" fill="none" stroke="#111" stroke-width="1.3" transform="rotate(-20 390.10 123.60)" />
<line x1="346.80" y1="110.00" x2="348.40" y2="110.00" stroke="#1b2140" stroke-width="0.7" />
<line x1="346.80" y1="125.00" x2="348.40" y2="125.00" stroke="#1b2140" stroke-width="0.7" />
<line x1="346.80" y1="140.00" x2="348.40" y2="140.00" stroke="#1b2140" stroke-width="0.7" />
<line x1="346.80" y1="155.00" x2="348.40" y2="155.00" stroke="#1b2140" stroke-width="0.7" />
<line x1="356.40" y1="162.60" x2="356.40" y2="164.00" stroke="#1b2140" stroke-width="0.7" />
<line x1="368.40" y1="162.60" x2="368.40" y2="164.00" stroke="#1b2140" stroke-width="0.7" />
<line x1="380.40" y1="162.60" x2="380.40" y2="164.00" stroke="#1b2140" stroke-width="0.7" />
<line x1="392.40" y1="162.60" x2="392.40" y2="164.00" stroke="#1b2140" stroke-width="0.7" />
<line x1="404.40" y1="162.60" x2="404.40" y2="164.00" stroke="#1b2140" stroke-width="0.7" />
<line x1="358.40" y1="163.50" x2="370.40" y2="163.50" stroke="#1b2140" stroke-width="0.9" />
<text x="199.10" y="112.30" font-size="5.2" text-anchor="middle" font-weight="normal" font-style="normal" fill="#222" >20.9%</text>
<text x="198.70" y="159.90" font-size="5.2" text-anchor="middle" font-weight="normal" font-style="normal" fill="#222" >2.59%</text>
<text x="263.40" y="112.30" font-size="5.2" text-anchor="middle" font-weight="normal" font-style="normal" fill="#222" >18.2%</text>
<text x="263.00" y="159.90" font-size="5.2" text-anchor="middle" font-weight="normal" font-style="normal" fill="#222" >3.24%</text>
<text x="328.00" y="112.30" font-size="5.2" text-anchor="middle" font-weight="normal" font-style="normal" fill="#222" >12.8%</text>
<text x="327.60" y="159.90" font-size="5.2" text-anchor="middle" font-weight="normal" font-style="normal" fill="#222" >2.37%</text>
<text x="392.40" y="112.30" font-size="5.2" text-anchor="middle" font-weight="normal" font-style="normal" fill="#222" >22.4%</text>
<text x="392.00" y="159.90" font-size="5.2" text-anchor="middle" font-weight="normal" font-style="normal" fill="#222" >16.2%</text>
<text x="8.60" y="197.80" font-size="11.5" text-anchor="start" font-weight="bold" font-style="normal" fill="#111" >C</text>
<text x="29.60" y="216.60" font-size="8.2" text-anchor="start" font-weight="normal" font-style="normal" fill="#222" >CD34<tspan dy="-2.7" font-size="6.0">+</tspan><tspan dy="2.7">/CD45RA</tspan><tspan dy="-2.7" font-size="6.0">low</tspan><tspan dy="2.7">&#8203;</tspan></text>
<text x="118.40" y="209.70" font-size="8.2" text-anchor="start" font-weight="normal" font-style="normal" fill="#222" >CD34<tspan dy="-2.7" font-size="6.0">+</tspan><tspan dy="2.7">/CD45RA</tspan><tspan dy="-2.7" font-size="6.0">low</tspan><tspan dy="2.7">/CD90</tspan><tspan dy="-2.7" font-size="6.0">+</tspan><tspan dy="2.7">/</tspan></text>
<line x1="110.40" y1="212.90" x2="229.40" y2="212.90" stroke="#000" stroke-width="1.5" />
<text x="119.60" y="223.50" font-size="8.2" text-anchor="start" font-weight="normal" font-style="normal" fill="#222" >CD133<tspan dy="-2.7" font-size="6.0">-</tspan><tspan dy="2.7">&#8203;</tspan></text>
<text x="190.90" y="223.50" font-size="8.2" text-anchor="start" font-weight="normal" font-style="normal" fill="#222" >CD133<tspan dy="-2.7" font-size="6.0">+</tspan><tspan dy="2.7">&#8203;</tspan></text>
<text transform="translate(17.40,307.50) rotate(-90) scale(0.985,1)" font-size="7.7" text-anchor="start" font-weight="normal" font-style="normal" fill="#1f1f1f" >Population frequency (%)</text>
<rect x="34.30" y="227.00" width="53.40" height="74.20" fill="none" stroke="#111" stroke-width="1.3" />
<line x1="30.90" y1="230.40" x2="34.30" y2="230.40" stroke="#111" stroke-width="1.1" />
<text x="28.60" y="232.55" font-size="6.1" text-anchor="end" font-weight="normal" font-style="normal" fill="#1f1f1f" >50</text>
<line x1="30.90" y1="244.50" x2="34.30" y2="244.50" stroke="#111" stroke-width="1.1" />
<text x="28.60" y="246.65" font-size="6.1" text-anchor="end" font-weight="normal" font-style="normal" fill="#1f1f1f" >40</text>
<line x1="30.90" y1="258.70" x2="34.30" y2="258.70" stroke="#111" stroke-width="1.1" />
<text x="28.60" y="260.85" font-size="6.1" text-anchor="end" font-weight="normal" font-style="normal" fill="#1f1f1f" >30</text>
<line x1="30.90" y1="272.90" x2="34.30" y2="272.90" stroke="#111" stroke-width="1.1" />
<text x="28.60" y="275.05" font-size="6.1" text-anchor="end" font-weight="normal" font-style="normal" fill="#1f1f1f" >20</text>
<line x1="30.90" y1="287.10" x2="34.30" y2="287.10" stroke="#111" stroke-width="1.1" />
<text x="28.60" y="289.25" font-size="6.1" text-anchor="end" font-weight="normal" font-style="normal" fill="#1f1f1f" >10</text>
<line x1="30.90" y1="301.30" x2="34.30" y2="301.30" stroke="#111" stroke-width="1.1" />
<text x="28.60" y="303.45" font-size="6.1" text-anchor="end" font-weight="normal" font-style="normal" fill="#1f1f1f" >0</text>
<line x1="40.70" y1="301.20" x2="40.70" y2="304.50" stroke="#111" stroke-width="1.1" />
<text transform="translate(43.90,309.80) rotate(-45)" font-size="6.5" text-anchor="end" font-weight="normal" font-style="normal" fill="#1f1f1f" >vector</text>
<line x1="54.10" y1="301.20" x2="54.10" y2="304.50" stroke="#111" stroke-width="1.1" />
<text transform="translate(57.30,309.80) rotate(-45)" font-size="6.5" text-anchor="end" font-weight="normal" font-style="normal" fill="#1f1f1f" >WT</text>
<line x1="67.40" y1="301.20" x2="67.40" y2="304.50" stroke="#111" stroke-width="1.1" />
<text transform="translate(70.60,309.80) rotate(-45)" font-size="6.5" text-anchor="end" font-weight="normal" font-style="normal" fill="#1f1f1f" >K9M</text>
<line x1="80.80" y1="301.20" x2="80.80" y2="304.50" stroke="#111" stroke-width="1.1" />
<text transform="translate(84.00,309.80) rotate(-45)" font-size="6.5" text-anchor="end" font-weight="normal" font-style="normal" fill="#1f1f1f" >K27M</text>
<circle cx="37.87" cy="250.85" r="2.5" fill="#d6cfd1" fill-opacity="0.95" stroke="#4a2f38" stroke-width="0.9"/>
<circle cx="40.47" cy="250.33" r="2.5" fill="#d6cfd1" fill-opacity="0.95" stroke="#4a2f38" stroke-width="0.9"/>
<circle cx="39.60" cy="252.58" r="2.5" fill="#d6cfd1" fill-opacity="0.95" stroke="#4a2f38" stroke-width="0.9"/>
<circle cx="45.14" cy="251.19" r="2.5" fill="#d6cfd1" fill-opacity="0.95" stroke="#4a2f38" stroke-width="0.9"/>
<line x1="37.39" y1="251.37" x2="44.59" y2="251.37" stroke="#b3143e" stroke-width="1.8" />
<circle cx="37.87" cy="250.85" r="2.5" fill="none" stroke="#4a2f38" stroke-width="0.7" opacity="0.85"/>
<circle cx="40.47" cy="250.33" r="2.5" fill="none" stroke="#4a2f38" stroke-width="0.7" opacity="0.85"/>
<circle cx="39.60" cy="252.58" r="2.5" fill="none" stroke="#4a2f38" stroke-width="0.7" opacity="0.85"/>
<circle cx="45.14" cy="251.19" r="2.5" fill="none" stroke="#4a2f38" stroke-width="0.7" opacity="0.85"/>
<circle cx="50.33" cy="255.17" r="2.5" fill="#d6cfd1" fill-opacity="0.95" stroke="#4a2f38" stroke-width="0.9"/>
<circle cx="54.31" cy="253.79" r="2.5" fill="#d6cfd1" fill-opacity="0.95" stroke="#4a2f38" stroke-width="0.9"/>
<circle cx="53.44" cy="258.11" r="2.5" fill="#d6cfd1" fill-opacity="0.95" stroke="#4a2f38" stroke-width="0.9"/>
<circle cx="56.04" cy="256.38" r="2.5" fill="#d6cfd1" fill-opacity="0.95" stroke="#4a2f38" stroke-width="0.9"/>
<line x1="50.19" y1="256.38" x2="57.39" y2="256.38" stroke="#b3143e" stroke-width="1.8" />
<circle cx="50.33" cy="255.17" r="2.5" fill="none" stroke="#4a2f38" stroke-width="0.7" opacity="0.85"/>
<circle cx="54.31" cy="253.79" r="2.5" fill="none" stroke="#4a2f38" stroke-width="0.7" opacity="0.85"/>
<circle cx="53.44" cy="258.11" r="2.5" fill="none" stroke="#4a2f38" stroke-width="0.7" opacity="0.85"/>
<circle cx="56.04" cy="256.38" r="2.5" fill="none" stroke="#4a2f38" stroke-width="0.7" opacity="0.85"/>
<circle cx="63.82" cy="250.85" r="2.5" fill="#d6cfd1" fill-opacity="0.95" stroke="#4a2f38" stroke-width="0.9"/>
<circle cx="67.28" cy="247.91" r="2.5" fill="#d6cfd1" fill-opacity="0.95" stroke="#4a2f38" stroke-width="0.9"/>
<circle cx="66.42" cy="252.92" r="2.5" fill="#d6cfd1" fill-opacity="0.95" stroke="#4a2f38" stroke-width="0.9"/>
<circle cx="69.36" cy="250.85" r="2.5" fill="#d6cfd1" fill-opacity="0.95" stroke="#4a2f38" stroke-width="0.9"/>
<line x1="63.34" y1="251.19" x2="70.54" y2="251.19" stroke="#b3143e" stroke-width="1.8" />
<circle cx="63.82" cy="250.85" r="2.5" fill="none" stroke="#4a2f38" stroke-width="0.7" opacity="0.85"/>
<circle cx="67.28" cy="247.91" r="2.5" fill="none" stroke="#4a2f38" stroke-width="0.7" opacity="0.85"/>
<circle cx="66.42" cy="252.92" r="2.5" fill="none" stroke="#4a2f38" stroke-width="0.7" opacity="0.85"/>
<circle cx="69.36" cy="250.85" r="2.5" fill="none" stroke="#4a2f38" stroke-width="0.7" opacity="0.85"/>
<circle cx="76.80" cy="240.81" r="2.5" fill="#d6cfd1" fill-opacity="0.95" stroke="#4a2f38" stroke-width="0.9"/>
<circle cx="80.26" cy="238.74" r="2.5" fill="#d6cfd1" fill-opacity="0.95" stroke="#4a2f38" stroke-width="0.9"/>
<circle cx="79.74" cy="242.72" r="2.5" fill="#d6cfd1" fill-opacity="0.95" stroke="#4a2f38" stroke-width="0.9"/>
<circle cx="83.72" cy="240.99" r="2.5" fill="#d6cfd1" fill-opacity="0.95" stroke="#4a2f38" stroke-width="0.9"/>
<line x1="76.66" y1="240.99" x2="83.86" y2="240.99" stroke="#b3143e" stroke-width="1.8" />
<circle cx="76.80" cy="240.81" r="2.5" fill="none" stroke="#4a2f38" stroke-width="0.7" opacity="0.85"/>
<circle cx="80.26" cy="238.74" r="2.5" fill="none" stroke="#4a2f38" stroke-width="0.7" opacity="0.85"/>
<circle cx="79.74" cy="242.72" r="2.5" fill="none" stroke="#4a2f38" stroke-width="0.7" opacity="0.85"/>
<circle cx="83.72" cy="240.99" r="2.5" fill="none" stroke="#4a2f38" stroke-width="0.7" opacity="0.85"/>
<rect x="107.20" y="227.00" width="54.80" height="74.30" fill="none" stroke="#111" stroke-width="1.3" />
<line x1="103.80" y1="229.60" x2="107.20" y2="229.60" stroke="#111" stroke-width="1.1" />
<text x="101.00" y="231.75" font-size="6.1" text-anchor="end" font-weight="normal" font-style="normal" fill="#1f1f1f" >8</text>
<line x1="103.80" y1="247.50" x2="107.20" y2="247.50" stroke="#111" stroke-width="1.1" />
<text x="101.00" y="249.65" font-size="6.1" text-anchor="end" font-weight="normal" font-style="normal" fill="#1f1f1f" >6</text>
<line x1="103.80" y1="265.50" x2="107.20" y2="265.50" stroke="#111" stroke-width="1.1" />
<text x="101.00" y="267.65" font-size="6.1" text-anchor="end" font-weight="normal" font-style="normal" fill="#1f1f1f" >4</text>
<line x1="103.80" y1="283.50" x2="107.20" y2="283.50" stroke="#111" stroke-width="1.1" />
<text x="101.00" y="285.65" font-size="6.1" text-anchor="end" font-weight="normal" font-style="normal" fill="#1f1f1f" >2</text>
<line x1="103.80" y1="301.40" x2="107.20" y2="301.40" stroke="#111" stroke-width="1.1" />
<text x="101.00" y="303.55" font-size="6.1" text-anchor="end" font-weight="normal" font-style="normal" fill="#1f1f1f" >0</text>
<line x1="113.40" y1="301.30" x2="113.40" y2="304.60" stroke="#111" stroke-width="1.1" />
<text transform="translate(116.60,309.90) rotate(-45)" font-size="6.5" text-anchor="end" font-weight="normal" font-style="normal" fill="#1f1f1f" >vector</text>
<line x1="126.70" y1="301.30" x2="126.70" y2="304.60" stroke="#111" stroke-width="1.1" />
<text transform="translate(129.90,309.90) rotate(-45)" font-size="6.5" text-anchor="end" font-weight="normal" font-style="normal" fill="#1f1f1f" >WT</text>
<line x1="140.10" y1="301.30" x2="140.10" y2="304.60" stroke="#111" stroke-width="1.1" />
<text transform="translate(143.30,309.90) rotate(-45)" font-size="6.5" text-anchor="end" font-weight="normal" font-style="normal" fill="#1f1f1f" >K9M</text>
<line x1="153.50" y1="301.30" x2="153.50" y2="304.60" stroke="#111" stroke-width="1.1" />
<text transform="translate(156.70,309.90) rotate(-45)" font-size="6.5" text-anchor="end" font-weight="normal" font-style="normal" fill="#1f1f1f" >K27M</text>
<circle cx="111.11" cy="293.62" r="2.5" fill="#d6cfd1" fill-opacity="0.95" stroke="#4a2f38" stroke-width="0.9"/>
<circle cx="115.09" cy="292.75" r="2.5" fill="#d6cfd1" fill-opacity="0.95" stroke="#4a2f38" stroke-width="0.9"/>
<circle cx="112.15" cy="296.73" r="2.5" fill="#d6cfd1" fill-opacity="0.95" stroke="#4a2f38" stroke-width="0.9"/>
<circle cx="115.95" cy="295.69" r="2.5" fill="#d6cfd1" fill-opacity="0.95" stroke="#4a2f38" stroke-width="0.9"/>
<line x1="110.10" y1="295.00" x2="117.30" y2="295.00" stroke="#b3143e" stroke-width="1.8" />
<circle cx="111.11" cy="293.62" r="2.5" fill="none" stroke="#4a2f38" stroke-width="0.7" opacity="0.85"/>
<circle cx="115.09" cy="292.75" r="2.5" fill="none" stroke="#4a2f38" stroke-width="0.7" opacity="0.85"/>
<circle cx="112.15" cy="296.73" r="2.5" fill="none" stroke="#4a2f38" stroke-width="0.7" opacity="0.85"/>
<circle cx="115.95" cy="295.69" r="2.5" fill="none" stroke="#4a2f38" stroke-width="0.7" opacity="0.85"/>
<circle cx="122.53" cy="294.83" r="2.5" fill="#d6cfd1" fill-opacity="0.95" stroke="#4a2f38" stroke-width="0.9"/>
<circle cx="126.33" cy="292.23" r="2.5" fill="#d6cfd1" fill-opacity="0.95" stroke="#4a2f38" stroke-width="0.9"/>
<circle cx="125.47" cy="296.21" r="2.5" fill="#d6cfd1" fill-opacity="0.95" stroke="#4a2f38" stroke-width="0.9"/>
<circle cx="128.41" cy="295.00" r="2.5" fill="#d6cfd1" fill-opacity="0.95" stroke="#4a2f38" stroke-width="0.9"/>
<line x1="122.39" y1="295.00" x2="129.59" y2="295.00" stroke="#b3143e" stroke-width="1.8" />
<circle cx="122.53" cy="294.83" r="2.5" fill="none" stroke="#4a2f38" stroke-width="0.7" opacity="0.85"/>
<circle cx="126.33" cy="292.23" r="2.5" fill="none" stroke="#4a2f38" stroke-width="0.7" opacity="0.85"/>
<circle cx="125.47" cy="296.21" r="2.5" fill="none" stroke="#4a2f38" stroke-width="0.7" opacity="0.85"/>
<circle cx="128.41" cy="295.00" r="2.5" fill="none" stroke="#4a2f38" stroke-width="0.7" opacity="0.85"/>
<circle cx="135.85" cy="295.35" r="2.5" fill="#d6cfd1" fill-opacity="0.95" stroke="#4a2f38" stroke-width="0.9"/>
<circle cx="139.65" cy="295.87" r="2.5" fill="#d6cfd1" fill-opacity="0.95" stroke="#4a2f38" stroke-width="0.9"/>
<circle cx="142.77" cy="293.96" r="2.5" fill="#d6cfd1" fill-opacity="0.95" stroke="#4a2f38" stroke-width="0.9"/>
<line x1="135.88" y1="295.35" x2="143.08" y2="295.35" stroke="#b3143e" stroke-width="1.8" />
<circle cx="135.85" cy="295.35" r="2.5" fill="none" stroke="#4a2f38" stroke-width="0.7" opacity="0.85"/>
<circle cx="139.65" cy="295.87" r="2.5" fill="none" stroke="#4a2f38" stroke-width="0.7" opacity="0.85"/>
<circle cx="142.77" cy="293.96" r="2.5" fill="none" stroke="#4a2f38" stroke-width="0.7" opacity="0.85"/>
<circle cx="153.15" cy="236.87" r="2.5" fill="#d6cfd1" fill-opacity="0.95" stroke="#4a2f38" stroke-width="0.9"/>
<circle cx="150.03" cy="245.17" r="2.5" fill="#d6cfd1" fill-opacity="0.95" stroke="#4a2f38" stroke-width="0.9"/>
<circle cx="153.15" cy="245.17" r="2.5" fill="#d6cfd1" fill-opacity="0.95" stroke="#4a2f38" stroke-width="0.9"/>
<circle cx="155.74" cy="245.17" r="2.5" fill="#d6cfd1" fill-opacity="0.95" stroke="#4a2f38" stroke-width="0.9"/>
<line x1="149.55" y1="245.52" x2="156.75" y2="245.52" stroke="#b3143e" stroke-width="1.8" />
<circle cx="153.15" cy="236.87" r="2.5" fill="none" stroke="#4a2f38" stroke-width="0.7" opacity="0.85"/>
<circle cx="150.03" cy="245.17" r="2.5" fill="none" stroke="#4a2f38" stroke-width="0.7" opacity="0.85"/>
<circle cx="153.15" cy="245.17" r="2.5" fill="none" stroke="#4a2f38" stroke-width="0.7" opacity="0.85"/>
<circle cx="155.74" cy="245.17" r="2.5" fill="none" stroke="#4a2f38" stroke-width="0.7" opacity="0.85"/>
<rect x="179.20" y="227.00" width="52.80" height="74.30" fill="none" stroke="#111" stroke-width="1.3" />
<line x1="175.80" y1="229.80" x2="179.20" y2="229.80" stroke="#111" stroke-width="1.1" />
<text x="173.60" y="231.95" font-size="6.1" text-anchor="end" font-weight="normal" font-style="normal" fill="#1f1f1f" >12</text>
<line x1="175.80" y1="241.70" x2="179.20" y2="241.70" stroke="#111" stroke-width="1.1" />
<text x="173.60" y="243.85" font-size="6.1" text-anchor="end" font-weight="normal" font-style="normal" fill="#1f1f1f" >10</text>
<line x1="175.80" y1="253.70" x2="179.20" y2="253.70" stroke="#111" stroke-width="1.1" />
<text x="173.60" y="255.85" font-size="6.1" text-anchor="end" font-weight="normal" font-style="normal" fill="#1f1f1f" >8</text>
<line x1="175.80" y1="265.60" x2="179.20" y2="265.60" stroke="#111" stroke-width="1.1" />
<text x="173.60" y="267.75" font-size="6.1" text-anchor="end" font-weight="normal" font-style="normal" fill="#1f1f1f" >6</text>
<line x1="175.80" y1="277.60" x2="179.20" y2="277.60" stroke="#111" stroke-width="1.1" />
<text x="173.60" y="279.75" font-size="6.1" text-anchor="end" font-weight="normal" font-style="normal" fill="#1f1f1f" >4</text>
<line x1="175.80" y1="289.50" x2="179.20" y2="289.50" stroke="#111" stroke-width="1.1" />
<text x="173.60" y="291.65" font-size="6.1" text-anchor="end" font-weight="normal" font-style="normal" fill="#1f1f1f" >2</text>
<line x1="175.80" y1="301.40" x2="179.20" y2="301.40" stroke="#111" stroke-width="1.1" />
<text x="173.60" y="303.55" font-size="6.1" text-anchor="end" font-weight="normal" font-style="normal" fill="#1f1f1f" >0</text>
<line x1="185.90" y1="301.30" x2="185.90" y2="304.60" stroke="#111" stroke-width="1.1" />
<text transform="translate(189.10,309.90) rotate(-45)" font-size="6.5" text-anchor="end" font-weight="normal" font-style="normal" fill="#1f1f1f" >vector</text>
<line x1="198.90" y1="301.30" x2="198.90" y2="304.60" stroke="#111" stroke-width="1.1" />
<text transform="translate(202.10,309.90) rotate(-45)" font-size="6.5" text-anchor="end" font-weight="normal" font-style="normal" fill="#1f1f1f" >WT</text>
<line x1="212.00" y1="301.30" x2="212.00" y2="304.60" stroke="#111" stroke-width="1.1" />
<text transform="translate(215.20,309.90) rotate(-45)" font-size="6.5" text-anchor="end" font-weight="normal" font-style="normal" fill="#1f1f1f" >K9M</text>
<line x1="225.30" y1="301.30" x2="225.30" y2="304.60" stroke="#111" stroke-width="1.1" />
<text transform="translate(228.50,309.90) rotate(-45)" font-size="6.5" text-anchor="end" font-weight="normal" font-style="normal" fill="#1f1f1f" >K27M</text>
<circle cx="183.88" cy="257.28" r="2.5" fill="#d6cfd1" fill-opacity="0.95" stroke="#4a2f38" stroke-width="0.9"/>
<circle cx="188.55" cy="255.90" r="2.5" fill="#d6cfd1" fill-opacity="0.95" stroke="#4a2f38" stroke-width="0.9"/>
<circle cx="185.09" cy="260.40" r="2.5" fill="#d6cfd1" fill-opacity="0.95" stroke="#4a2f38" stroke-width="0.9"/>
<circle cx="188.55" cy="259.88" r="2.5" fill="#d6cfd1" fill-opacity="0.95" stroke="#4a2f38" stroke-width="0.9"/>
<line x1="182.70" y1="258.32" x2="189.90" y2="258.32" stroke="#b3143e" stroke-width="1.8" />
<circle cx="183.88" cy="257.28" r="2.5" fill="none" stroke="#4a2f38" stroke-width="0.7" opacity="0.85"/>
<circle cx="188.55" cy="255.90" r="2.5" fill="none" stroke="#4a2f38" stroke-width="0.7" opacity="0.85"/>
<circle cx="185.09" cy="260.40" r="2.5" fill="none" stroke="#4a2f38" stroke-width="0.7" opacity="0.85"/>
<circle cx="188.55" cy="259.88" r="2.5" fill="none" stroke="#4a2f38" stroke-width="0.7" opacity="0.85"/>
<circle cx="194.60" cy="266.80" r="2.5" fill="#d6cfd1" fill-opacity="0.95" stroke="#4a2f38" stroke-width="0.9"/>
<circle cx="198.41" cy="265.93" r="2.5" fill="#d6cfd1" fill-opacity="0.95" stroke="#4a2f38" stroke-width="0.9"/>
<circle cx="201.52" cy="267.32" r="2.5" fill="#d6cfd1" fill-opacity="0.95" stroke="#4a2f38" stroke-width="0.9"/>
<circle cx="197.72" cy="269.05" r="2.5" fill="#d6cfd1" fill-opacity="0.95" stroke="#4a2f38" stroke-width="0.9"/>
<line x1="194.81" y1="267.66" x2="202.01" y2="267.66" stroke="#b3143e" stroke-width="1.8" />
<circle cx="194.60" cy="266.80" r="2.5" fill="none" stroke="#4a2f38" stroke-width="0.7" opacity="0.85"/>
<circle cx="198.41" cy="265.93" r="2.5" fill="none" stroke="#4a2f38" stroke-width="0.7" opacity="0.85"/>
<circle cx="201.52" cy="267.32" r="2.5" fill="none" stroke="#4a2f38" stroke-width="0.7" opacity="0.85"/>
<circle cx="197.72" cy="269.05" r="2.5" fill="none" stroke="#4a2f38" stroke-width="0.7" opacity="0.85"/>
<circle cx="208.44" cy="275.80" r="2.5" fill="#d6cfd1" fill-opacity="0.95" stroke="#4a2f38" stroke-width="0.9"/>
<circle cx="212.25" cy="273.72" r="2.5" fill="#d6cfd1" fill-opacity="0.95" stroke="#4a2f38" stroke-width="0.9"/>
<circle cx="211.04" cy="277.70" r="2.5" fill="#d6cfd1" fill-opacity="0.95" stroke="#4a2f38" stroke-width="0.9"/>
<circle cx="213.98" cy="275.80" r="2.5" fill="#d6cfd1" fill-opacity="0.95" stroke="#4a2f38" stroke-width="0.9"/>
<line x1="207.96" y1="275.80" x2="215.16" y2="275.80" stroke="#b3143e" stroke-width="1.8" />
<circle cx="208.44" cy="275.80" r="2.5" fill="none" stroke="#4a2f38" stroke-width="0.7" opacity="0.85"/>
<circle cx="212.25" cy="273.72" r="2.5" fill="none" stroke="#4a2f38" stroke-width="0.7" opacity="0.85"/>
<circle cx="211.04" cy="277.70" r="2.5" fill="none" stroke="#4a2f38" stroke-width="0.7" opacity="0.85"/>
<circle cx="213.98" cy="275.80" r="2.5" fill="none" stroke="#4a2f38" stroke-width="0.7" opacity="0.85"/>
<circle cx="223.15" cy="246.38" r="2.5" fill="#d6cfd1" fill-opacity="0.95" stroke="#4a2f38" stroke-width="0.9"/>
<circle cx="226.61" cy="244.31" r="2.5" fill="#d6cfd1" fill-opacity="0.95" stroke="#4a2f38" stroke-width="0.9"/>
<circle cx="228.34" cy="246.90" r="2.5" fill="#d6cfd1" fill-opacity="0.95" stroke="#4a2f38" stroke-width="0.9"/>
<circle cx="224.36" cy="251.75" r="2.5" fill="#d6cfd1" fill-opacity="0.95" stroke="#4a2f38" stroke-width="0.9"/>
<line x1="222.14" y1="246.90" x2="229.34" y2="246.90" stroke="#b3143e" stroke-width="1.8" />
<circle cx="223.15" cy="246.38" r="2.5" fill="none" stroke="#4a2f38" stroke-width="0.7" opacity="0.85"/>
<circle cx="226.61" cy="244.31" r="2.5" fill="none" stroke="#4a2f38" stroke-width="0.7" opacity="0.85"/>
<circle cx="228.34" cy="246.90" r="2.5" fill="none" stroke="#4a2f38" stroke-width="0.7" opacity="0.85"/>
<circle cx="224.36" cy="251.75" r="2.5" fill="none" stroke="#4a2f38" stroke-width="0.7" opacity="0.85"/>
<text x="256.40" y="197.90" font-size="11.5" text-anchor="start" font-weight="bold" font-style="normal" fill="#111" >D</text>
<text x="329.60" y="209.80" font-size="8.2" text-anchor="start" font-weight="normal" font-style="normal" fill="#222" >CD34<tspan dy="-2.7" font-size="6.0">+</tspan><tspan dy="2.7">/CD45RA</tspan><tspan dy="-2.7" font-size="6.0">low</tspan><tspan dy="2.7">/CD90</tspan><tspan dy="-2.7" font-size="6.0">+</tspan><tspan dy="2.7">/CD133</tspan><tspan dy="-2.7" font-size="6.0">-</tspan><tspan dy="2.7">&#8203;</tspan></text>
<line x1="294.40" y1="213.00" x2="497.20" y2="213.00" stroke="#000" stroke-width="1.5" />
<text transform="translate(265.20,309.60) rotate(-90) scale(0.97,1)" font-size="8.0" text-anchor="start" font-weight="normal" font-style="normal" fill="#1f1f1f" >Absolute cell count (x10<tspan dy="-2.7" font-size="6.0">4</tspan><tspan dy="2.7">)</tspan></text>
<rect x="284.40" y="220.20" width="54.00" height="8.40" fill="#e6e6e6" stroke="#222" stroke-width="1.15" />
<text x="311.40" y="226.60" font-size="6.3" text-anchor="middle" font-weight="normal" font-style="italic" fill="#1f1f1f" >DMSO</text>
<rect x="340.40" y="220.20" width="54.00" height="8.40" fill="#e6e6e6" stroke="#222" stroke-width="1.15" />
<text x="367.40" y="226.60" font-size="6.3" text-anchor="middle" font-weight="normal" font-style="italic" fill="#1f1f1f" >GSK126</text>
<line x1="339.40" y1="230.50" x2="339.40" y2="301.60" stroke="#222" stroke-width="0.9" stroke-dasharray="1.3,1.3"/>
<rect x="396.40" y="220.20" width="54.00" height="8.40" fill="#e6e6e6" stroke="#222" stroke-width="1.15" />
<text x="423.40" y="226.60" font-size="6.3" text-anchor="middle" font-weight="normal" font-style="italic" fill="#1f1f1f" >UNC2400</text>
<line x1="395.40" y1="230.50" x2="395.40" y2="301.60" stroke="#222" stroke-width="0.9" stroke-dasharray="1.3,1.3"/>
<rect x="452.40" y="220.20" width="53.60" height="8.40" fill="#e6e6e6" stroke="#222" stroke-width="1.15" />
<text x="479.20" y="226.60" font-size="6.3" text-anchor="middle" font-weight="normal" font-style="italic" fill="#1f1f1f" >UNC1999</text>
<line x1="451.40" y1="230.50" x2="451.40" y2="301.60" stroke="#222" stroke-width="0.9" stroke-dasharray="1.3,1.3"/>
<line x1="283.90" y1="229.90" x2="506.40" y2="229.90" stroke="#000" stroke-width="1.35" />
<line x1="284.40" y1="229.90" x2="284.40" y2="301.60" stroke="#111" stroke-width="1.2" />
<line x1="283.90" y1="301.60" x2="506.40" y2="301.60" stroke="#111" stroke-width="1.2" />
<line x1="506.00" y1="229.90" x2="506.00" y2="301.60" stroke="#111" stroke-width="0.9" />
<line x1="281.20" y1="230.70" x2="284.40" y2="230.70" stroke="#111" stroke-width="1.1" />
<text x="281.00" y="233.10" font-size="6.8" text-anchor="end" font-weight="normal" font-style="normal" fill="#1f1f1f" >20</text>
<line x1="281.20" y1="248.30" x2="284.40" y2="248.30" stroke="#111" stroke-width="1.1" />
<text x="281.00" y="250.70" font-size="6.8" text-anchor="end" font-weight="normal" font-style="normal" fill="#1f1f1f" >15</text>
<line x1="281.20" y1="266.10" x2="284.40" y2="266.10" stroke="#111" stroke-width="1.1" />
<text x="281.00" y="268.50" font-size="6.8" text-anchor="end" font-weight="normal" font-style="normal" fill="#1f1f1f" >10</text>
<line x1="281.20" y1="283.90" x2="284.40" y2="283.90" stroke="#111" stroke-width="1.1" />
<text x="281.00" y="286.30" font-size="6.8" text-anchor="end" font-weight="normal" font-style="normal" fill="#1f1f1f" >5</text>
<line x1="281.20" y1="301.60" x2="284.40" y2="301.60" stroke="#111" stroke-width="1.1" />
<text x="281.00" y="304.00" font-size="6.8" text-anchor="end" font-weight="normal" font-style="normal" fill="#1f1f1f" >0</text>
<line x1="290.80" y1="301.60" x2="290.80" y2="304.90" stroke="#111" stroke-width="1.1" />
<text transform="translate(294.00,310.30) rotate(-45)" font-size="6.0" text-anchor="end" font-weight="normal" font-style="normal" fill="#1f1f1f" >vector</text>
<line x1="304.30" y1="301.60" x2="304.30" y2="304.90" stroke="#111" stroke-width="1.1" />
<text transform="translate(307.50,310.30) rotate(-45)" font-size="6.0" text-anchor="end" font-weight="normal" font-style="normal" fill="#1f1f1f" >WT</text>
<line x1="317.80" y1="301.60" x2="317.80" y2="304.90" stroke="#111" stroke-width="1.1" />
<text transform="translate(321.00,310.30) rotate(-45)" font-size="6.0" text-anchor="end" font-weight="normal" font-style="normal" fill="#1f1f1f" >K9M</text>
<line x1="331.10" y1="301.60" x2="331.10" y2="304.90" stroke="#111" stroke-width="1.1" />
<text transform="translate(334.30,310.30) rotate(-45)" font-size="6.0" text-anchor="end" font-weight="normal" font-style="normal" fill="#1f1f1f" >K27M</text>
<line x1="347.10" y1="301.60" x2="347.10" y2="304.90" stroke="#111" stroke-width="1.1" />
<text transform="translate(350.30,310.30) rotate(-45)" font-size="6.0" text-anchor="end" font-weight="normal" font-style="normal" fill="#1f1f1f" >vector</text>
<line x1="360.60" y1="301.60" x2="360.60" y2="304.90" stroke="#111" stroke-width="1.1" />
<text transform="translate(363.80,310.30) rotate(-45)" font-size="6.0" text-anchor="end" font-weight="normal" font-style="normal" fill="#1f1f1f" >WT</text>
<line x1="373.90" y1="301.60" x2="373.90" y2="304.90" stroke="#111" stroke-width="1.1" />
<text transform="translate(377.10,310.30) rotate(-45)" font-size="6.0" text-anchor="end" font-weight="normal" font-style="normal" fill="#1f1f1f" >K9M</text>
<line x1="386.90" y1="301.60" x2="386.90" y2="304.90" stroke="#111" stroke-width="1.1" />
<text transform="translate(390.10,310.30) rotate(-45)" font-size="6.0" text-anchor="end" font-weight="normal" font-style="normal" fill="#1f1f1f" >K27M</text>
<line x1="403.90" y1="301.60" x2="403.90" y2="304.90" stroke="#111" stroke-width="1.1" />
<text transform="translate(407.10,310.30) rotate(-45)" font-size="6.0" text-anchor="end" font-weight="normal" font-style="normal" fill="#1f1f1f" >vector</text>
<line x1="417.20" y1="301.60" x2="417.20" y2="304.90" stroke="#111" stroke-width="1.1" />
<text transform="translate(420.40,310.30) rotate(-45)" font-size="6.0" text-anchor="end" font-weight="normal" font-style="normal" fill="#1f1f1f" >WT</text>
<line x1="430.70" y1="301.60" x2="430.70" y2="304.90" stroke="#111" stroke-width="1.1" />
<text transform="translate(433.90,310.30) rotate(-45)" font-size="6.0" text-anchor="end" font-weight="normal" font-style="normal" fill="#1f1f1f" >K9M</text>
<line x1="443.90" y1="301.60" x2="443.90" y2="304.90" stroke="#111" stroke-width="1.1" />
<text transform="translate(447.10,310.30) rotate(-45)" font-size="6.0" text-anchor="end" font-weight="normal" font-style="normal" fill="#1f1f1f" >K27M</text>
<line x1="459.80" y1="301.60" x2="459.80" y2="304.90" stroke="#111" stroke-width="1.1" />
<text transform="translate(463.00,310.30) rotate(-45)" font-size="6.0" text-anchor="end" font-weight="normal" font-style="normal" fill="#1f1f1f" >vector</text>
<line x1="473.10" y1="301.60" x2="473.10" y2="304.90" stroke="#111" stroke-width="1.1" />
<text transform="translate(476.30,310.30) rotate(-45)" font-size="6.0" text-anchor="end" font-weight="normal" font-style="normal" fill="#1f1f1f" >WT</text>
<line x1="486.60" y1="301.60" x2="486.60" y2="304.90" stroke="#111" stroke-width="1.1" />
<text transform="translate(489.80,310.30) rotate(-45)" font-size="6.0" text-anchor="end" font-weight="normal" font-style="normal" fill="#1f1f1f" >K9M</text>
<line x1="499.90" y1="301.60" x2="499.90" y2="304.90" stroke="#111" stroke-width="1.1" />
<text transform="translate(503.10,310.30) rotate(-45)" font-size="6.0" text-anchor="end" font-weight="normal" font-style="normal" fill="#1f1f1f" >K27M</text>
<circle cx="290.81" cy="289.62" r="2.6" fill="#c4c4c4" fill-opacity="0.9" stroke="#2a2a2a" stroke-width="0.95"/>
<circle cx="289.60" cy="296.89" r="2.6" fill="#c4c4c4" fill-opacity="0.9" stroke="#2a2a2a" stroke-width="0.95"/>
<circle cx="291.33" cy="298.27" r="2.6" fill="#c4c4c4" fill-opacity="0.9" stroke="#2a2a2a" stroke-width="0.95"/>
<circle cx="290.47" cy="299.48" r="2.6" fill="#c4c4c4" fill-opacity="0.9" stroke="#2a2a2a" stroke-width="0.95"/>
<line x1="286.61" y1="295.67" x2="295.01" y2="295.67" stroke="#b3143e" stroke-width="1.45" />
<circle cx="302.06" cy="294.81" r="2.6" fill="#c4c4c4" fill-opacity="0.9" stroke="#2a2a2a" stroke-width="0.95"/>
<circle cx="306.38" cy="294.29" r="2.6" fill="#c4c4c4" fill-opacity="0.9" stroke="#2a2a2a" stroke-width="0.95"/>
<circle cx="304.31" cy="296.54" r="2.6" fill="#c4c4c4" fill-opacity="0.9" stroke="#2a2a2a" stroke-width="0.95"/>
<circle cx="303.44" cy="296.02" r="2.6" fill="#c4c4c4" fill-opacity="0.9" stroke="#2a2a2a" stroke-width="0.95"/>
<line x1="300.11" y1="295.67" x2="308.51" y2="295.67" stroke="#b3143e" stroke-width="1.45" />
<circle cx="314.69" cy="298.10" r="2.6" fill="#c4c4c4" fill-opacity="0.9" stroke="#2a2a2a" stroke-width="0.95"/>
<circle cx="318.15" cy="298.62" r="2.6" fill="#c4c4c4" fill-opacity="0.9" stroke="#2a2a2a" stroke-width="0.95"/>
<circle cx="321.61" cy="298.10" r="2.6" fill="#c4c4c4" fill-opacity="0.9" stroke="#2a2a2a" stroke-width="0.95"/>
<circle cx="317.28" cy="298.96" r="2.6" fill="#c4c4c4" fill-opacity="0.9" stroke="#2a2a2a" stroke-width="0.95"/>
<line x1="313.60" y1="298.62" x2="322.00" y2="298.62" stroke="#b3143e" stroke-width="1.45" />
<circle cx="331.64" cy="256.57" r="2.6" fill="#c4c4c4" fill-opacity="0.9" stroke="#2a2a2a" stroke-width="0.95"/>
<circle cx="331.12" cy="270.07" r="2.6" fill="#c4c4c4" fill-opacity="0.9" stroke="#2a2a2a" stroke-width="0.95"/>
<circle cx="331.99" cy="271.80" r="2.6" fill="#c4c4c4" fill-opacity="0.9" stroke="#2a2a2a" stroke-width="0.95"/>
<circle cx="331.47" cy="274.39" r="2.6" fill="#c4c4c4" fill-opacity="0.9" stroke="#2a2a2a" stroke-width="0.95"/>
<line x1="327.10" y1="268.86" x2="335.50" y2="268.86" stroke="#b3143e" stroke-width="1.45" />
<circle cx="347.11" cy="245.50" r="2.6" fill="#c4c4c4" fill-opacity="0.9" stroke="#2a2a2a" stroke-width="0.95"/>
<circle cx="348.49" cy="250.52" r="2.6" fill="#c4c4c4" fill-opacity="0.9" stroke="#2a2a2a" stroke-width="0.95"/>
<circle cx="347.98" cy="266.61" r="2.6" fill="#c4c4c4" fill-opacity="0.9" stroke="#2a2a2a" stroke-width="0.95"/>
<circle cx="347.11" cy="271.80" r="2.6" fill="#c4c4c4" fill-opacity="0.9" stroke="#2a2a2a" stroke-width="0.95"/>
<line x1="342.91" y1="258.82" x2="351.31" y2="258.82" stroke="#b3143e" stroke-width="1.45" />
<circle cx="358.88" cy="265.74" r="2.6" fill="#c4c4c4" fill-opacity="0.9" stroke="#2a2a2a" stroke-width="0.95"/>
<circle cx="361.82" cy="265.40" r="2.6" fill="#c4c4c4" fill-opacity="0.9" stroke="#2a2a2a" stroke-width="0.95"/>
<circle cx="359.22" cy="274.39" r="2.6" fill="#c4c4c4" fill-opacity="0.9" stroke="#2a2a2a" stroke-width="0.95"/>
<circle cx="361.82" cy="274.05" r="2.6" fill="#c4c4c4" fill-opacity="0.9" stroke="#2a2a2a" stroke-width="0.95"/>
<line x1="356.41" y1="270.07" x2="364.81" y2="270.07" stroke="#b3143e" stroke-width="1.45" />
<circle cx="373.93" cy="253.63" r="2.6" fill="#c4c4c4" fill-opacity="0.9" stroke="#2a2a2a" stroke-width="0.95"/>
<circle cx="373.41" cy="266.26" r="2.6" fill="#c4c4c4" fill-opacity="0.9" stroke="#2a2a2a" stroke-width="0.95"/>
<circle cx="375.14" cy="270.07" r="2.6" fill="#c4c4c4" fill-opacity="0.9" stroke="#2a2a2a" stroke-width="0.95"/>
<circle cx="372.72" cy="272.32" r="2.6" fill="#c4c4c4" fill-opacity="0.9" stroke="#2a2a2a" stroke-width="0.95"/>
<line x1="369.73" y1="265.40" x2="378.13" y2="265.40" stroke="#b3143e" stroke-width="1.45" />
<circle cx="384.83" cy="266.26" r="2.6" fill="#c4c4c4" fill-opacity="0.9" stroke="#2a2a2a" stroke-width="0.95"/>
<circle cx="386.90" cy="266.61" r="2.6" fill="#c4c4c4" fill-opacity="0.9" stroke="#2a2a2a" stroke-width="0.95"/>
<circle cx="386.04" cy="267.99" r="2.6" fill="#c4c4c4" fill-opacity="0.9" stroke="#2a2a2a" stroke-width="0.95"/>
<circle cx="386.04" cy="270.59" r="2.6" fill="#c4c4c4" fill-opacity="0.9" stroke="#2a2a2a" stroke-width="0.95"/>
<line x1="382.70" y1="267.47" x2="391.10" y2="267.47" stroke="#b3143e" stroke-width="1.45" />
<circle cx="401.61" cy="293.43" r="2.6" fill="#c4c4c4" fill-opacity="0.9" stroke="#2a2a2a" stroke-width="0.95"/>
<circle cx="405.07" cy="293.08" r="2.6" fill="#c4c4c4" fill-opacity="0.9" stroke="#2a2a2a" stroke-width="0.95"/>
<circle cx="402.47" cy="295.50" r="2.6" fill="#c4c4c4" fill-opacity="0.9" stroke="#2a2a2a" stroke-width="0.95"/>
<circle cx="404.20" cy="296.02" r="2.6" fill="#c4c4c4" fill-opacity="0.9" stroke="#2a2a2a" stroke-width="0.95"/>
<line x1="399.49" y1="294.29" x2="407.89" y2="294.29" stroke="#b3143e" stroke-width="1.45" />
<circle cx="414.93" cy="290.83" r="2.6" fill="#c4c4c4" fill-opacity="0.9" stroke="#2a2a2a" stroke-width="0.95"/>
<circle cx="418.04" cy="289.97" r="2.6" fill="#c4c4c4" fill-opacity="0.9" stroke="#2a2a2a" stroke-width="0.95"/>
<circle cx="416.31" cy="294.29" r="2.6" fill="#c4c4c4" fill-opacity="0.9" stroke="#2a2a2a" stroke-width="0.95"/>
<circle cx="417.70" cy="293.08" r="2.6" fill="#c4c4c4" fill-opacity="0.9" stroke="#2a2a2a" stroke-width="0.95"/>
<line x1="412.63" y1="292.56" x2="421.03" y2="292.56" stroke="#b3143e" stroke-width="1.45" />
<circle cx="427.79" cy="292.91" r="2.6" fill="#c4c4c4" fill-opacity="0.9" stroke="#2a2a2a" stroke-width="0.95"/>
<circle cx="431.76" cy="292.56" r="2.6" fill="#c4c4c4" fill-opacity="0.9" stroke="#2a2a2a" stroke-width="0.95"/>
<circle cx="430.73" cy="294.81" r="2.6" fill="#c4c4c4" fill-opacity="0.9" stroke="#2a2a2a" stroke-width="0.95"/>
<circle cx="430.73" cy="298.62" r="2.6" fill="#c4c4c4" fill-opacity="0.9" stroke="#2a2a2a" stroke-width="0.95"/>
<line x1="426.53" y1="294.81" x2="434.93" y2="294.81" stroke="#b3143e" stroke-width="1.45" />
<circle cx="443.88" cy="255.71" r="2.6" fill="#c4c4c4" fill-opacity="0.9" stroke="#2a2a2a" stroke-width="0.95"/>
<circle cx="445.09" cy="262.28" r="2.6" fill="#c4c4c4" fill-opacity="0.9" stroke="#2a2a2a" stroke-width="0.95"/>
<circle cx="445.09" cy="264.88" r="2.6" fill="#c4c4c4" fill-opacity="0.9" stroke="#2a2a2a" stroke-width="0.95"/>
<circle cx="442.84" cy="268.86" r="2.6" fill="#c4c4c4" fill-opacity="0.9" stroke="#2a2a2a" stroke-width="0.95"/>
<line x1="439.68" y1="262.28" x2="448.08" y2="262.28" stroke="#b3143e" stroke-width="1.45" />
<circle cx="460.14" cy="262.63" r="2.6" fill="#c4c4c4" fill-opacity="0.9" stroke="#2a2a2a" stroke-width="0.95"/>
<circle cx="458.93" cy="266.61" r="2.6" fill="#c4c4c4" fill-opacity="0.9" stroke="#2a2a2a" stroke-width="0.95"/>
<circle cx="461.52" cy="267.47" r="2.6" fill="#c4c4c4" fill-opacity="0.9" stroke="#2a2a2a" stroke-width="0.95"/>
<circle cx="460.14" cy="270.93" r="2.6" fill="#c4c4c4" fill-opacity="0.9" stroke="#2a2a2a" stroke-width="0.95"/>
<line x1="455.94" y1="267.13" x2="464.34" y2="267.13" stroke="#b3143e" stroke-width="1.45" />
<circle cx="473.63" cy="270.93" r="2.6" fill="#c4c4c4" fill-opacity="0.9" stroke="#2a2a2a" stroke-width="0.95"/>
<circle cx="472.77" cy="275.26" r="2.6" fill="#c4c4c4" fill-opacity="0.9" stroke="#2a2a2a" stroke-width="0.95"/>
<circle cx="474.50" cy="276.12" r="2.6" fill="#c4c4c4" fill-opacity="0.9" stroke="#2a2a2a" stroke-width="0.95"/>
<circle cx="473.63" cy="279.58" r="2.6" fill="#c4c4c4" fill-opacity="0.9" stroke="#2a2a2a" stroke-width="0.95"/>
<line x1="469.09" y1="275.26" x2="477.49" y2="275.26" stroke="#b3143e" stroke-width="1.45" />
<circle cx="486.61" cy="260.90" r="2.6" fill="#c4c4c4" fill-opacity="0.9" stroke="#2a2a2a" stroke-width="0.95"/>
<circle cx="485.40" cy="270.93" r="2.6" fill="#c4c4c4" fill-opacity="0.9" stroke="#2a2a2a" stroke-width="0.95"/>
<circle cx="486.61" cy="276.12" r="2.6" fill="#c4c4c4" fill-opacity="0.9" stroke="#2a2a2a" stroke-width="0.95"/>
<circle cx="487.47" cy="277.51" r="2.6" fill="#c4c4c4" fill-opacity="0.9" stroke="#2a2a2a" stroke-width="0.95"/>
<line x1="482.58" y1="271.45" x2="490.98" y2="271.45" stroke="#b3143e" stroke-width="1.45" />
<circle cx="497.85" cy="270.07" r="2.6" fill="#c4c4c4" fill-opacity="0.9" stroke="#2a2a2a" stroke-width="0.95"/>
<circle cx="500.97" cy="269.72" r="2.6" fill="#c4c4c4" fill-opacity="0.9" stroke="#2a2a2a" stroke-width="0.95"/>
<circle cx="499.24" cy="271.80" r="2.6" fill="#c4c4c4" fill-opacity="0.9" stroke="#2a2a2a" stroke-width="0.95"/>
<circle cx="499.93" cy="272.66" r="2.6" fill="#c4c4c4" fill-opacity="0.9" stroke="#2a2a2a" stroke-width="0.95"/>
<line x1="495.56" y1="270.93" x2="503.96" y2="270.93" stroke="#b3143e" stroke-width="1.45" />
<text x="8.80" y="341.60" font-size="11.5" text-anchor="start" font-weight="bold" font-style="normal" fill="#111" >E</text>
<rect x="61.20" y="351.40" width="20.20" height="8.40" fill="#b7c28b" stroke="#151515" stroke-width="1.1" />
<text x="71.30" y="357.70" font-size="6.8" text-anchor="middle" font-weight="normal" font-style="italic" fill="#3d4a18" >EF1α</text>
<text x="84.60" y="357.60" font-size="6.8" text-anchor="start" font-weight="normal" font-style="italic" fill="#2a2a2a" >ires</text>
<rect x="97.00" y="351.40" width="18.50" height="8.40" fill="#4f9a37" stroke="#12200e" stroke-width="1.1" />
<text x="106.25" y="357.70" font-size="6.8" text-anchor="middle" font-weight="normal" font-style="italic" fill="#1d4a14" >GFP</text>
<rect x="8.00" y="363.00" width="20.20" height="8.40" fill="#b7c28b" stroke="#151515" stroke-width="1.1" />
<text x="18.10" y="369.30" font-size="6.8" text-anchor="middle" font-weight="normal" font-style="italic" fill="#3d4a18" >EF1α</text>
<rect x="30.00" y="363.00" width="51.20" height="8.40" fill="#fff" stroke="#151515" stroke-width="1.1" />
<text x="55.60" y="369.30" font-size="6.596" text-anchor="middle" font-weight="normal" font-style="normal" fill="#1f1f1f" ><tspan font-style="italic">H3.3</tspan> WT or <tspan font-style="italic">KM</tspan></text>
<text x="84.60" y="369.20" font-size="6.8" text-anchor="start" font-weight="normal" font-style="italic" fill="#2a2a2a" >ires</text>
<rect x="97.00" y="363.00" width="18.50" height="8.40" fill="#4f9a37" stroke="#12200e" stroke-width="1.1" />
<text x="106.25" y="369.30" font-size="6.8" text-anchor="middle" font-weight="normal" font-style="italic" fill="#1d4a14" >GFP</text>
<ellipse cx="73.30" cy="390.60" rx="17.2" ry="7.9" fill="#f0d3e4" stroke="#111" stroke-width="1.15" transform="rotate(0 73.30 390.60)" />
<ellipse cx="73.30" cy="386.00" rx="17.2" ry="7.9" fill="none" stroke="#111" stroke-width="1.15" transform="rotate(0 73.30 386.00)" />
<line x1="56.10" y1="386.00" x2="56.10" y2="390.60" stroke="#111" stroke-width="1.3" />
<line x1="90.50" y1="386.00" x2="90.50" y2="390.60" stroke="#111" stroke-width="1.3" />
<line x1="73.00" y1="374.20" x2="73.00" y2="380.85" stroke="#111" stroke-width="1.3" />
<path d="M73.00,385.60 L70.50,380.35 L75.50,380.35 Z" fill="#111" stroke="none" stroke-width="1" />
<text x="23.80" y="391.60" font-size="6.4" text-anchor="start" font-weight="normal" font-style="normal" fill="#1f1f1f" >CD34<tspan dy="-2.2" font-size="4.6">+</tspan><tspan dy="2.2"> CB</tspan></text>
<text x="73.00" y="404.60" font-size="6.6" text-anchor="middle" font-weight="normal" font-style="normal" fill="#1f1f1f" >lentiviral</text>
<text x="73.00" y="413.00" font-size="6.6" text-anchor="middle" font-weight="normal" font-style="normal" fill="#1f1f1f" >transduction</text>
<ellipse cx="73.30" cy="429.90" rx="17.2" ry="7.9" fill="#f0d3e4" stroke="#111" stroke-width="1.15" transform="rotate(0 73.30 429.90)" />
<ellipse cx="73.30" cy="425.30" rx="17.2" ry="7.9" fill="none" stroke="#111" stroke-width="1.15" transform="rotate(0 73.30 425.30)" />
<line x1="56.10" y1="425.30" x2="56.10" y2="429.90" stroke="#111" stroke-width="1.3" />
<line x1="90.50" y1="425.30" x2="90.50" y2="429.90" stroke="#111" stroke-width="1.3" />
<line x1="73.00" y1="414.20" x2="73.00" y2="420.85" stroke="#111" stroke-width="1.3" />
<path d="M73.00,425.60 L70.50,420.35 L75.50,420.35 Z" fill="#111" stroke="none" stroke-width="1" />
<text x="37.90" y="426.80" font-size="6.5" text-anchor="middle" font-weight="normal" font-style="normal" fill="#1f1f1f" >14d culture</text>
<text x="37.60" y="434.00" font-size="6.5" text-anchor="middle" font-weight="normal" font-style="normal" fill="#1f1f1f" >w/ UM171</text>
<line x1="73.00" y1="438.60" x2="73.00" y2="444.45" stroke="#111" stroke-width="1.3" />
<path d="M73.00,449.20 L70.50,443.95 L75.50,443.95 Z" fill="#111" stroke="none" stroke-width="1" />
<text x="72.80" y="456.80" font-size="6.5" text-anchor="middle" font-weight="normal" font-style="normal" fill="#1f1f1f" >CFC</text>
<text x="72.80" y="464.60" font-size="6.5" text-anchor="middle" font-weight="normal" font-style="normal" fill="#1f1f1f" >assay</text>
<text x="142.80" y="341.40" font-size="11.5" text-anchor="start" font-weight="bold" font-style="normal" fill="#111" >F</text>
<circle cx="190.00" cy="345.30" r="2.4" fill="#a32f4c" stroke="#4e1626" stroke-width="0.8" />
<text x="196.20" y="348.40" font-size="8.4" text-anchor="start" font-weight="normal" font-style="normal" fill="#222" >CFU-GEMM</text>
<circle cx="247.80" cy="345.30" r="2.3" fill="#dedede" stroke="#333" stroke-width="0.8" />
<text x="252.80" y="348.40" font-size="8.4" text-anchor="start" font-weight="normal" font-style="normal" fill="#222" >CFU-G/GM</text>
<line x1="168.80" y1="353.60" x2="168.80" y2="454.40" stroke="#111" stroke-width="1.2" />
<line x1="168.20" y1="453.80" x2="317.00" y2="453.80" stroke="#111" stroke-width="1.2" />
<line x1="166.00" y1="367.70" x2="168.80" y2="367.70" stroke="#111" stroke-width="0.9" />
<text x="163.60" y="370.25" font-size="7.0" text-anchor="end" font-weight="normal" font-style="normal" fill="#1f1f1f" >60</text>
<line x1="166.00" y1="395.00" x2="168.80" y2="395.00" stroke="#111" stroke-width="0.9" />
<text x="163.60" y="397.55" font-size="7.0" text-anchor="end" font-weight="normal" font-style="normal" fill="#1f1f1f" >40</text>
<line x1="166.00" y1="422.30" x2="168.80" y2="422.30" stroke="#111" stroke-width="0.9" />
<text x="163.60" y="424.85" font-size="7.0" text-anchor="end" font-weight="normal" font-style="normal" fill="#1f1f1f" >20</text>
<line x1="166.00" y1="449.60" x2="168.80" y2="449.60" stroke="#111" stroke-width="0.9" />
<text x="163.60" y="452.15" font-size="7.0" text-anchor="end" font-weight="normal" font-style="normal" fill="#1f1f1f" >0</text>
<text transform="translate(150.40,427.60) rotate(-90)" font-size="7.4" text-anchor="start" font-weight="normal" font-style="normal" fill="#1f1f1f" >CFU / 1,000 c</text>
<line x1="186.50" y1="453.80" x2="186.50" y2="456.40" stroke="#111" stroke-width="0.9" />
<text x="186.80" y="465.60" font-size="6.7" text-anchor="middle" font-weight="normal" font-style="normal" fill="#1f1f1f" >vector</text>
<line x1="222.70" y1="453.80" x2="222.70" y2="456.40" stroke="#111" stroke-width="0.9" />
<text x="223.00" y="465.60" font-size="6.7" text-anchor="middle" font-weight="normal" font-style="normal" fill="#1f1f1f" ><tspan font-style="italic">H3.3</tspan> WT</text>
<line x1="259.20" y1="453.80" x2="259.20" y2="456.40" stroke="#111" stroke-width="0.9" />
<text x="259.50" y="465.60" font-size="6.7" text-anchor="middle" font-weight="normal" font-style="normal" fill="#1f1f1f" ><tspan font-style="italic">K9M</tspan></text>
<line x1="295.10" y1="453.80" x2="295.10" y2="456.40" stroke="#111" stroke-width="0.9" />
<text x="295.40" y="465.60" font-size="6.7" text-anchor="middle" font-weight="normal" font-style="normal" fill="#1f1f1f" ><tspan font-style="italic">K27M</tspan></text>
<path d="M179.90,415.00 L179.90,375.50 L233.60,375.50" fill="none" stroke="#8e1e3c" stroke-width="1.0" stroke-linejoin="miter"/>
<path d="M243.40,375.50 L290.00,375.50 L290.00,411.00" fill="none" stroke="#8e1e3c" stroke-width="1.0" stroke-linejoin="miter"/>
<path d="M215.80,429.60 L215.80,381.60 L248.20,381.60" fill="none" stroke="#8e1e3c" stroke-width="1.0" stroke-linejoin="miter"/>
<path d="M257.60,381.60 L286.90,381.60 L286.90,411.00" fill="none" stroke="#8e1e3c" stroke-width="1.0" stroke-linejoin="miter"/>
<path d="M195.00,414.00 L195.00,359.70 L241.00,359.70" fill="none" stroke="#111" stroke-width="1.1" stroke-linejoin="miter"/>
<path d="M256.80,359.70 L305.00,359.70 L305.00,372.20" fill="none" stroke="#111" stroke-width="1.1" stroke-linejoin="miter"/>
<path d="M230.80,410.40 L230.80,365.70 L260.60,365.70" fill="none" stroke="#111" stroke-width="1.1" stroke-linejoin="miter"/>
<path d="M272.20,365.70 L301.50,365.70 L301.50,372.20" fill="none" stroke="#111" stroke-width="1.1" stroke-linejoin="miter"/>
<text x="249.00" y="363.90" font-size="7" text-anchor="middle" font-weight="bold" font-style="normal" fill="#111" letter-spacing="0.9">****</text>
<text x="266.60" y="369.90" font-size="7" text-anchor="middle" font-weight="bold" font-style="normal" fill="#111" letter-spacing="0.9">***</text>
<text x="238.50" y="377.00" font-size="5.5" text-anchor="middle" font-weight="normal" font-style="normal" fill="#8e1e3c" >n.s.</text>
<text x="253.00" y="383.20" font-size="5.5" text-anchor="middle" font-weight="normal" font-style="normal" fill="#8e1e3c" >n.s.</text>
<circle cx="179.92" cy="420.69" r="2.4" fill="#a32f4c" stroke="#4e1626" stroke-width="0.9" fill-opacity="0.92"/>
<circle cx="178.08" cy="435.00" r="2.4" fill="#a32f4c" stroke="#4e1626" stroke-width="0.9" fill-opacity="0.92"/>
<circle cx="180.38" cy="434.23" r="2.4" fill="#a32f4c" stroke="#4e1626" stroke-width="0.9" fill-opacity="0.92"/>
<circle cx="181.92" cy="435.77" r="2.4" fill="#a32f4c" stroke="#4e1626" stroke-width="0.9" fill-opacity="0.92"/>
<circle cx="177.62" cy="438.85" r="2.4" fill="#a32f4c" stroke="#4e1626" stroke-width="0.9" fill-opacity="0.92"/>
<circle cx="180.38" cy="438.54" r="2.4" fill="#a32f4c" stroke="#4e1626" stroke-width="0.9" fill-opacity="0.92"/>
<circle cx="182.23" cy="440.38" r="2.4" fill="#a32f4c" stroke="#4e1626" stroke-width="0.9" fill-opacity="0.92"/>
<circle cx="178.54" cy="441.92" r="2.4" fill="#a32f4c" stroke="#4e1626" stroke-width="0.9" fill-opacity="0.92"/>
<circle cx="180.69" cy="442.69" r="2.4" fill="#a32f4c" stroke="#4e1626" stroke-width="0.9" fill-opacity="0.92"/>
<circle cx="178.08" cy="445.00" r="2.4" fill="#a32f4c" stroke="#4e1626" stroke-width="0.9" fill-opacity="0.92"/>
<circle cx="181.15" cy="445.77" r="2.4" fill="#a32f4c" stroke="#4e1626" stroke-width="0.9" fill-opacity="0.92"/>
<circle cx="179.62" cy="447.31" r="2.4" fill="#a32f4c" stroke="#4e1626" stroke-width="0.9" fill-opacity="0.92"/>
<line x1="175.00" y1="437.31" x2="185.00" y2="437.31" stroke="#111" stroke-width="1.2" />
<circle cx="195.77" cy="420.69" r="2.4" fill="#dcdcdc" stroke="#222" stroke-width="0.9" fill-opacity="0.9"/>
<circle cx="192.69" cy="427.62" r="2.4" fill="#dcdcdc" stroke="#222" stroke-width="0.9" fill-opacity="0.9"/>
<circle cx="193.92" cy="435.00" r="2.4" fill="#dcdcdc" stroke="#222" stroke-width="0.9" fill-opacity="0.9"/>
<circle cx="192.69" cy="437.31" r="2.4" fill="#dcdcdc" stroke="#222" stroke-width="0.9" fill-opacity="0.9"/>
<circle cx="195.00" cy="438.54" r="2.4" fill="#dcdcdc" stroke="#222" stroke-width="0.9" fill-opacity="0.9"/>
<circle cx="193.46" cy="441.92" r="2.4" fill="#dcdcdc" stroke="#222" stroke-width="0.9" fill-opacity="0.9"/>
<circle cx="193.46" cy="448.85" r="2.4" fill="#dcdcdc" stroke="#222" stroke-width="0.9" fill-opacity="0.9"/>
<line x1="189.62" y1="436.54" x2="198.85" y2="436.54" stroke="#111" stroke-width="1.2" />
<circle cx="213.46" cy="432.69" r="2.4" fill="#a32f4c" stroke="#4e1626" stroke-width="0.9" fill-opacity="0.92"/>
<circle cx="218.08" cy="432.69" r="2.4" fill="#a32f4c" stroke="#4e1626" stroke-width="0.9" fill-opacity="0.92"/>
<circle cx="212.69" cy="436.54" r="2.4" fill="#a32f4c" stroke="#4e1626" stroke-width="0.9" fill-opacity="0.92"/>
<circle cx="215.77" cy="435.77" r="2.4" fill="#a32f4c" stroke="#4e1626" stroke-width="0.9" fill-opacity="0.92"/>
<circle cx="218.85" cy="437.31" r="2.4" fill="#a32f4c" stroke="#4e1626" stroke-width="0.9" fill-opacity="0.92"/>
<circle cx="211.92" cy="440.38" r="2.4" fill="#a32f4c" stroke="#4e1626" stroke-width="0.9" fill-opacity="0.92"/>
<circle cx="215.00" cy="439.62" r="2.4" fill="#a32f4c" stroke="#4e1626" stroke-width="0.9" fill-opacity="0.92"/>
<circle cx="218.08" cy="440.38" r="2.4" fill="#a32f4c" stroke="#4e1626" stroke-width="0.9" fill-opacity="0.92"/>
<circle cx="220.38" cy="441.15" r="2.4" fill="#a32f4c" stroke="#4e1626" stroke-width="0.9" fill-opacity="0.92"/>
<circle cx="210.38" cy="444.23" r="2.4" fill="#a32f4c" stroke="#4e1626" stroke-width="0.9" fill-opacity="0.92"/>
<circle cx="213.46" cy="443.46" r="2.4" fill="#a32f4c" stroke="#4e1626" stroke-width="0.9" fill-opacity="0.92"/>
<circle cx="216.54" cy="444.23" r="2.4" fill="#a32f4c" stroke="#4e1626" stroke-width="0.9" fill-opacity="0.92"/>
<circle cx="219.62" cy="444.23" r="2.4" fill="#a32f4c" stroke="#4e1626" stroke-width="0.9" fill-opacity="0.92"/>
<circle cx="221.92" cy="445.00" r="2.4" fill="#a32f4c" stroke="#4e1626" stroke-width="0.9" fill-opacity="0.92"/>
<circle cx="211.92" cy="447.31" r="2.4" fill="#a32f4c" stroke="#4e1626" stroke-width="0.9" fill-opacity="0.92"/>
<circle cx="215.00" cy="448.08" r="2.4" fill="#a32f4c" stroke="#4e1626" stroke-width="0.9" fill-opacity="0.92"/>
<circle cx="218.08" cy="447.31" r="2.4" fill="#a32f4c" stroke="#4e1626" stroke-width="0.9" fill-opacity="0.92"/>
<circle cx="214.23" cy="449.62" r="2.4" fill="#a32f4c" stroke="#4e1626" stroke-width="0.9" fill-opacity="0.92"/>
<line x1="210.38" y1="442.38" x2="221.15" y2="442.38" stroke="#111" stroke-width="1.2" />
<circle cx="232.69" cy="416.08" r="2.4" fill="#dcdcdc" stroke="#222" stroke-width="0.9" fill-opacity="0.9"/>
<circle cx="228.08" cy="419.62" r="2.4" fill="#dcdcdc" stroke="#222" stroke-width="0.9" fill-opacity="0.9"/>
<circle cx="231.15" cy="418.85" r="2.4" fill="#dcdcdc" stroke="#222" stroke-width="0.9" fill-opacity="0.9"/>
<circle cx="235.00" cy="419.62" r="2.4" fill="#dcdcdc" stroke="#222" stroke-width="0.9" fill-opacity="0.9"/>
<circle cx="227.31" cy="422.69" r="2.4" fill="#dcdcdc" stroke="#222" stroke-width="0.9" fill-opacity="0.9"/>
<circle cx="230.38" cy="422.23" r="2.4" fill="#dcdcdc" stroke="#222" stroke-width="0.9" fill-opacity="0.9"/>
<circle cx="234.23" cy="423.46" r="2.4" fill="#dcdcdc" stroke="#222" stroke-width="0.9" fill-opacity="0.9"/>
<circle cx="235.77" cy="421.92" r="2.4" fill="#dcdcdc" stroke="#222" stroke-width="0.9" fill-opacity="0.9"/>
<circle cx="228.08" cy="425.77" r="2.4" fill="#dcdcdc" stroke="#222" stroke-width="0.9" fill-opacity="0.9"/>
<circle cx="231.92" cy="425.31" r="2.4" fill="#dcdcdc" stroke="#222" stroke-width="0.9" fill-opacity="0.9"/>
<circle cx="235.00" cy="426.54" r="2.4" fill="#dcdcdc" stroke="#222" stroke-width="0.9" fill-opacity="0.9"/>
<circle cx="228.85" cy="428.85" r="2.4" fill="#dcdcdc" stroke="#222" stroke-width="0.9" fill-opacity="0.9"/>
<circle cx="232.69" cy="428.08" r="2.4" fill="#dcdcdc" stroke="#222" stroke-width="0.9" fill-opacity="0.9"/>
<circle cx="235.77" cy="428.85" r="2.4" fill="#dcdcdc" stroke="#222" stroke-width="0.9" fill-opacity="0.9"/>
<circle cx="231.15" cy="431.15" r="2.4" fill="#dcdcdc" stroke="#222" stroke-width="0.9" fill-opacity="0.9"/>
<circle cx="228.85" cy="435.77" r="2.4" fill="#dcdcdc" stroke="#222" stroke-width="0.9" fill-opacity="0.9"/>
<line x1="225.77" y1="425.00" x2="236.54" y2="425.00" stroke="#111" stroke-width="1.2" />
<circle cx="252.31" cy="416.54" r="2.4" fill="#a32f4c" stroke="#4e1626" stroke-width="0.9" fill-opacity="0.92"/>
<circle cx="253.85" cy="418.08" r="2.4" fill="#a32f4c" stroke="#4e1626" stroke-width="0.9" fill-opacity="0.92"/>
<circle cx="250.00" cy="424.23" r="2.4" fill="#a32f4c" stroke="#4e1626" stroke-width="0.9" fill-opacity="0.92"/>
<circle cx="250.77" cy="428.08" r="2.4" fill="#a32f4c" stroke="#4e1626" stroke-width="0.9" fill-opacity="0.92"/>
<circle cx="251.54" cy="431.15" r="2.4" fill="#a32f4c" stroke="#4e1626" stroke-width="0.9" fill-opacity="0.92"/>
<circle cx="254.62" cy="432.69" r="2.4" fill="#a32f4c" stroke="#4e1626" stroke-width="0.9" fill-opacity="0.92"/>
<circle cx="250.77" cy="435.00" r="2.4" fill="#a32f4c" stroke="#4e1626" stroke-width="0.9" fill-opacity="0.92"/>
<circle cx="253.85" cy="435.77" r="2.4" fill="#a32f4c" stroke="#4e1626" stroke-width="0.9" fill-opacity="0.92"/>
<circle cx="250.00" cy="442.69" r="2.4" fill="#a32f4c" stroke="#4e1626" stroke-width="0.9" fill-opacity="0.92"/>
<circle cx="253.08" cy="441.92" r="2.4" fill="#a32f4c" stroke="#4e1626" stroke-width="0.9" fill-opacity="0.92"/>
<circle cx="251.54" cy="445.00" r="2.4" fill="#a32f4c" stroke="#4e1626" stroke-width="0.9" fill-opacity="0.92"/>
<circle cx="254.62" cy="445.00" r="2.4" fill="#a32f4c" stroke="#4e1626" stroke-width="0.9" fill-opacity="0.92"/>
<circle cx="249.23" cy="448.08" r="2.4" fill="#a32f4c" stroke="#4e1626" stroke-width="0.9" fill-opacity="0.92"/>
<circle cx="252.31" cy="448.08" r="2.4" fill="#a32f4c" stroke="#4e1626" stroke-width="0.9" fill-opacity="0.92"/>
<circle cx="250.77" cy="450.38" r="2.4" fill="#a32f4c" stroke="#4e1626" stroke-width="0.9" fill-opacity="0.92"/>
<line x1="247.38" y1="435.00" x2="256.62" y2="435.00" stroke="#111" stroke-width="1.2" />
<circle cx="264.62" cy="420.38" r="2.4" fill="#dcdcdc" stroke="#222" stroke-width="0.9" fill-opacity="0.9"/>
<circle cx="268.46" cy="420.69" r="2.4" fill="#dcdcdc" stroke="#222" stroke-width="0.9" fill-opacity="0.9"/>
<circle cx="265.38" cy="424.23" r="2.4" fill="#dcdcdc" stroke="#222" stroke-width="0.9" fill-opacity="0.9"/>
<circle cx="268.46" cy="426.54" r="2.4" fill="#dcdcdc" stroke="#222" stroke-width="0.9" fill-opacity="0.9"/>
<circle cx="264.62" cy="428.08" r="2.4" fill="#dcdcdc" stroke="#222" stroke-width="0.9" fill-opacity="0.9"/>
<circle cx="267.69" cy="431.15" r="2.4" fill="#dcdcdc" stroke="#222" stroke-width="0.9" fill-opacity="0.9"/>
<circle cx="263.85" cy="440.38" r="2.4" fill="#dcdcdc" stroke="#222" stroke-width="0.9" fill-opacity="0.9"/>
<circle cx="266.92" cy="440.38" r="2.4" fill="#dcdcdc" stroke="#222" stroke-width="0.9" fill-opacity="0.9"/>
<circle cx="269.23" cy="441.15" r="2.4" fill="#dcdcdc" stroke="#222" stroke-width="0.9" fill-opacity="0.9"/>
<circle cx="264.62" cy="443.46" r="2.4" fill="#dcdcdc" stroke="#222" stroke-width="0.9" fill-opacity="0.9"/>
<circle cx="267.69" cy="444.23" r="2.4" fill="#dcdcdc" stroke="#222" stroke-width="0.9" fill-opacity="0.9"/>
<circle cx="263.08" cy="446.54" r="2.4" fill="#dcdcdc" stroke="#222" stroke-width="0.9" fill-opacity="0.9"/>
<circle cx="266.15" cy="448.08" r="2.4" fill="#dcdcdc" stroke="#222" stroke-width="0.9" fill-opacity="0.9"/>
<circle cx="269.23" cy="445.77" r="2.4" fill="#dcdcdc" stroke="#222" stroke-width="0.9" fill-opacity="0.9"/>
<circle cx="265.38" cy="449.62" r="2.4" fill="#dcdcdc" stroke="#222" stroke-width="0.9" fill-opacity="0.9"/>
<line x1="261.54" y1="436.85" x2="271.54" y2="436.85" stroke="#111" stroke-width="1.2" />
<circle cx="288.00" cy="413.92" r="2.4" fill="#a32f4c" stroke="#4e1626" stroke-width="0.9" fill-opacity="0.92"/>
<circle cx="286.15" cy="431.92" r="2.4" fill="#a32f4c" stroke="#4e1626" stroke-width="0.9" fill-opacity="0.92"/>
<circle cx="290.00" cy="432.69" r="2.4" fill="#a32f4c" stroke="#4e1626" stroke-width="0.9" fill-opacity="0.92"/>
<circle cx="285.38" cy="435.77" r="2.4" fill="#a32f4c" stroke="#4e1626" stroke-width="0.9" fill-opacity="0.92"/>
<circle cx="288.46" cy="435.00" r="2.4" fill="#a32f4c" stroke="#4e1626" stroke-width="0.9" fill-opacity="0.92"/>
<circle cx="291.54" cy="436.54" r="2.4" fill="#a32f4c" stroke="#4e1626" stroke-width="0.9" fill-opacity="0.92"/>
<circle cx="286.92" cy="438.85" r="2.4" fill="#a32f4c" stroke="#4e1626" stroke-width="0.9" fill-opacity="0.92"/>
<circle cx="290.00" cy="438.85" r="2.4" fill="#a32f4c" stroke="#4e1626" stroke-width="0.9" fill-opacity="0.92"/>
<circle cx="285.38" cy="441.92" r="2.4" fill="#a32f4c" stroke="#4e1626" stroke-width="0.9" fill-opacity="0.92"/>
<circle cx="288.46" cy="441.92" r="2.4" fill="#a32f4c" stroke="#4e1626" stroke-width="0.9" fill-opacity="0.92"/>
<circle cx="291.54" cy="441.92" r="2.4" fill="#a32f4c" stroke="#4e1626" stroke-width="0.9" fill-opacity="0.92"/>
<circle cx="286.15" cy="445.00" r="2.4" fill="#a32f4c" stroke="#4e1626" stroke-width="0.9" fill-opacity="0.92"/>
<circle cx="289.23" cy="445.00" r="2.4" fill="#a32f4c" stroke="#4e1626" stroke-width="0.9" fill-opacity="0.92"/>
<circle cx="292.31" cy="445.00" r="2.4" fill="#a32f4c" stroke="#4e1626" stroke-width="0.9" fill-opacity="0.92"/>
<circle cx="286.92" cy="448.08" r="2.4" fill="#a32f4c" stroke="#4e1626" stroke-width="0.9" fill-opacity="0.92"/>
<circle cx="290.00" cy="448.08" r="2.4" fill="#a32f4c" stroke="#4e1626" stroke-width="0.9" fill-opacity="0.92"/>
<line x1="283.38" y1="439.15" x2="293.54" y2="439.15" stroke="#111" stroke-width="1.2" />
<circle cx="302.31" cy="376.54" r="2.4" fill="#dcdcdc" stroke="#222" stroke-width="0.9" fill-opacity="0.9"/>
<circle cx="304.62" cy="385.00" r="2.4" fill="#dcdcdc" stroke="#222" stroke-width="0.9" fill-opacity="0.9"/>
<circle cx="300.77" cy="388.08" r="2.4" fill="#dcdcdc" stroke="#222" stroke-width="0.9" fill-opacity="0.9"/>
<circle cx="303.85" cy="388.85" r="2.4" fill="#dcdcdc" stroke="#222" stroke-width="0.9" fill-opacity="0.9"/>
<circle cx="301.54" cy="391.92" r="2.4" fill="#dcdcdc" stroke="#222" stroke-width="0.9" fill-opacity="0.9"/>
<circle cx="304.62" cy="392.69" r="2.4" fill="#dcdcdc" stroke="#222" stroke-width="0.9" fill-opacity="0.9"/>
<circle cx="301.54" cy="397.31" r="2.4" fill="#dcdcdc" stroke="#222" stroke-width="0.9" fill-opacity="0.9"/>
<circle cx="303.85" cy="400.38" r="2.4" fill="#dcdcdc" stroke="#222" stroke-width="0.9" fill-opacity="0.9"/>
<circle cx="300.77" cy="401.15" r="2.4" fill="#dcdcdc" stroke="#222" stroke-width="0.9" fill-opacity="0.9"/>
<circle cx="303.08" cy="408.08" r="2.4" fill="#dcdcdc" stroke="#222" stroke-width="0.9" fill-opacity="0.9"/>
<circle cx="301.54" cy="409.62" r="2.4" fill="#dcdcdc" stroke="#222" stroke-width="0.9" fill-opacity="0.9"/>
<circle cx="304.62" cy="410.38" r="2.4" fill="#dcdcdc" stroke="#222" stroke-width="0.9" fill-opacity="0.9"/>
<circle cx="300.00" cy="416.54" r="2.4" fill="#dcdcdc" stroke="#222" stroke-width="0.9" fill-opacity="0.9"/>
<circle cx="303.85" cy="418.85" r="2.4" fill="#dcdcdc" stroke="#222" stroke-width="0.9" fill-opacity="0.9"/>
<circle cx="302.31" cy="427.31" r="2.4" fill="#dcdcdc" stroke="#222" stroke-width="0.9" fill-opacity="0.9"/>
<line x1="297.69" y1="400.85" x2="307.69" y2="400.85" stroke="#111" stroke-width="1.2" />
<text x="343.20" y="348.20" font-size="11.5" text-anchor="start" font-weight="bold" font-style="normal" fill="#111" >G</text>
<rect x="417.60" y="352.40" width="19.80" height="8.00" fill="#b7c28b" stroke="#151515" stroke-width="1.1" />
<text x="427.50" y="358.50" font-size="6.6" text-anchor="middle" font-weight="normal" font-style="italic" fill="#3d4a18" >EF1α</text>
<text x="440.60" y="358.40" font-size="6.6" text-anchor="start" font-weight="normal" font-style="italic" fill="#2a2a2a" >ires</text>
<rect x="452.60" y="352.40" width="16.80" height="8.00" fill="#4f9a37" stroke="#12200e" stroke-width="1.1" />
<text x="461.00" y="358.50" font-size="6.6" text-anchor="middle" font-weight="normal" font-style="italic" fill="#1d4a14" >GFP</text>
<rect x="365.80" y="363.00" width="19.80" height="8.00" fill="#b7c28b" stroke="#151515" stroke-width="1.1" />
<text x="375.70" y="369.10" font-size="6.6" text-anchor="middle" font-weight="normal" font-style="italic" fill="#3d4a18" >EF1α</text>
<rect x="388.00" y="363.00" width="49.40" height="8.00" fill="#fff" stroke="#151515" stroke-width="1.1" />
<text x="412.70" y="369.10" font-size="6.401999999999999" text-anchor="middle" font-weight="normal" font-style="normal" fill="#1f1f1f" ><tspan font-style="italic">H3.3</tspan> WT or <tspan font-style="italic">KM</tspan></text>
<text x="440.60" y="369.00" font-size="6.6" text-anchor="start" font-weight="normal" font-style="italic" fill="#2a2a2a" >ires</text>
<rect x="452.60" y="363.00" width="16.80" height="8.00" fill="#4f9a37" stroke="#12200e" stroke-width="1.1" />
<text x="461.00" y="369.10" font-size="6.6" text-anchor="middle" font-weight="normal" font-style="italic" fill="#1d4a14" >GFP</text>
<text x="424.30" y="380.50" font-size="6.5" text-anchor="middle" font-weight="normal" font-style="normal" fill="#1f1f1f" >lentiviral</text>
<text x="424.30" y="388.00" font-size="6.5" text-anchor="middle" font-weight="normal" font-style="normal" fill="#1f1f1f" >transduction</text>
<ellipse cx="424.20" cy="408.10" rx="17.3" ry="8.2" fill="#f0d3e4" stroke="#111" stroke-width="1.1" transform="rotate(0 424.20 408.10)" />
<ellipse cx="424.20" cy="403.70" rx="17.3" ry="8.2" fill="none" stroke="#111" stroke-width="1.1" transform="rotate(0 424.20 403.70)" />
<line x1="406.90" y1="403.70" x2="406.90" y2="408.10" stroke="#111" stroke-width="1.2" />
<line x1="441.50" y1="403.70" x2="441.50" y2="408.10" stroke="#111" stroke-width="1.2" />
<line x1="424.20" y1="392.00" x2="424.20" y2="398.10" stroke="#111" stroke-width="1.1" />
<path d="M424.20,401.80 L422.20,397.60 L426.20,397.60 Z" fill="#111" stroke="none" stroke-width="1" />
<text x="352.60" y="409.60" font-size="6.5" text-anchor="start" font-weight="normal" font-style="normal" fill="#1f1f1f" >CD34<tspan dy="-2.4" font-size="5.4" font-weight="bold">+</tspan><tspan dy="2.4"> CB</tspan></text>
<line x1="386.40" y1="407.40" x2="398.10" y2="407.40" stroke="#111" stroke-width="1.1" />
<path d="M401.80,407.40 L397.60,409.40 L397.60,405.40 Z" fill="#111" stroke="none" stroke-width="1" />
<line x1="446.20" y1="407.40" x2="460.30" y2="407.40" stroke="#111" stroke-width="1.1" />
<path d="M464.00,407.40 L459.80,409.40 L459.80,405.40 Z" fill="#111" stroke="none" stroke-width="1" />
<text x="483.00" y="409.80" font-size="6.5" text-anchor="middle" font-weight="normal" font-style="normal" fill="#1f1f1f" >NSG</text>
<text x="482.40" y="416.80" font-size="6.5" text-anchor="middle" font-weight="normal" font-style="normal" fill="#1f1f1f" >transplantation</text>
<text x="426.20" y="424.40" font-size="6.5" text-anchor="middle" font-weight="normal" font-style="normal" fill="#1f1f1f" >10d culture</text>
<text x="426.20" y="431.70" font-size="6.5" text-anchor="middle" font-weight="normal" font-style="normal" fill="#1f1f1f" >w/ UM171</text>
<text x="8.50" y="485.90" font-size="11.5" text-anchor="start" font-weight="bold" font-style="normal" fill="#111" >H</text>
<rect x="109.00" y="478.10" width="7.20" height="7.00" fill="#c9c9c9" stroke="none" stroke-width="1" />
<text x="119.30" y="484.30" font-size="5.4" text-anchor="start" font-weight="normal" font-style="normal" fill="#1f1f1f" >hCD45<tspan dy="-1.8" font-size="3.8">+</tspan></text>
<rect x="145.70" y="478.10" width="7.20" height="7.00" fill="#5da53a" stroke="none" stroke-width="1" />
<text x="156.30" y="484.30" font-size="5.4" text-anchor="start" font-weight="normal" font-style="normal" fill="#1f1f1f" >GFP<tspan dy="-1.8" font-size="3.8">+</tspan></text>
<text transform="translate(17.60,631.80) rotate(-90)" font-size="7.8" text-anchor="start" font-weight="normal" font-style="normal" fill="#1f1f1f" >Chimerism (%, log2 scale)</text>
<rect x="41.75" y="515.50" width="2.95" height="40.70" fill="#c9c9c9" stroke="none" stroke-width="1" />
<rect x="44.65" y="532.81" width="3.15" height="23.39" fill="#5b9e3b" stroke="none" stroke-width="1" />
<rect x="48.48" y="518.00" width="2.95" height="38.20" fill="#c9c9c9" stroke="none" stroke-width="1" />
<rect x="51.38" y="527.42" width="3.15" height="28.78" fill="#5b9e3b" stroke="none" stroke-width="1" />
<rect x="55.21" y="522.81" width="2.95" height="33.39" fill="#c9c9c9" stroke="none" stroke-width="1" />
<rect x="58.11" y="525.69" width="3.15" height="30.51" fill="#5b9e3b" stroke="none" stroke-width="1" />
<rect x="61.94" y="529.92" width="2.95" height="26.28" fill="#c9c9c9" stroke="none" stroke-width="1" />
<rect x="64.84" y="533.77" width="3.15" height="22.43" fill="#5b9e3b" stroke="none" stroke-width="1" />
<rect x="68.67" y="531.27" width="2.95" height="24.93" fill="#c9c9c9" stroke="none" stroke-width="1" />
<rect x="71.57" y="542.81" width="3.15" height="13.39" fill="#5b9e3b" stroke="none" stroke-width="1" />
<rect x="75.40" y="521.65" width="2.95" height="34.55" fill="#c9c9c9" stroke="none" stroke-width="1" />
<rect x="78.30" y="532.42" width="3.15" height="23.78" fill="#5b9e3b" stroke="none" stroke-width="1" />
<rect x="82.13" y="533.19" width="2.95" height="23.01" fill="#c9c9c9" stroke="none" stroke-width="1" />
<rect x="85.03" y="544.73" width="3.15" height="11.47" fill="#5b9e3b" stroke="none" stroke-width="1" />
<rect x="88.86" y="520.31" width="2.95" height="35.89" fill="#c9c9c9" stroke="none" stroke-width="1" />
<rect x="91.76" y="528.38" width="3.15" height="27.82" fill="#5b9e3b" stroke="none" stroke-width="1" />
<rect x="98.35" y="524.54" width="2.95" height="31.66" fill="#c9c9c9" stroke="none" stroke-width="1" />
<rect x="101.25" y="537.62" width="3.15" height="18.58" fill="#5b9e3b" stroke="none" stroke-width="1" />
<rect x="105.08" y="539.15" width="2.95" height="17.05" fill="#c9c9c9" stroke="none" stroke-width="1" />
<rect x="107.98" y="550.50" width="3.15" height="5.70" fill="#5b9e3b" stroke="none" stroke-width="1" />
<rect x="111.81" y="534.15" width="2.95" height="22.05" fill="#c9c9c9" stroke="none" stroke-width="1" />
<rect x="114.71" y="541.46" width="3.15" height="14.74" fill="#5b9e3b" stroke="none" stroke-width="1" />
<rect x="118.54" y="536.65" width="2.95" height="19.55" fill="#c9c9c9" stroke="none" stroke-width="1" />
<rect x="121.44" y="544.92" width="3.15" height="11.28" fill="#5b9e3b" stroke="none" stroke-width="1" />
<rect x="125.27" y="513.96" width="2.95" height="42.24" fill="#c9c9c9" stroke="none" stroke-width="1" />
<rect x="128.17" y="515.50" width="3.15" height="40.70" fill="#5b9e3b" stroke="none" stroke-width="1" />
<rect x="132.00" y="526.08" width="2.95" height="30.12" fill="#c9c9c9" stroke="none" stroke-width="1" />
<rect x="134.90" y="544.35" width="3.15" height="11.85" fill="#5b9e3b" stroke="none" stroke-width="1" />
<rect x="138.73" y="532.81" width="2.95" height="23.39" fill="#c9c9c9" stroke="none" stroke-width="1" />
<rect x="141.63" y="543.96" width="3.15" height="12.24" fill="#5b9e3b" stroke="none" stroke-width="1" />
<rect x="145.46" y="533.38" width="2.95" height="22.82" fill="#c9c9c9" stroke="none" stroke-width="1" />
<rect x="148.36" y="545.69" width="3.15" height="10.51" fill="#5b9e3b" stroke="none" stroke-width="1" />
<rect x="154.85" y="533.19" width="2.95" height="23.01" fill="#c9c9c9" stroke="none" stroke-width="1" />
<rect x="157.75" y="544.92" width="3.15" height="11.28" fill="#5b9e3b" stroke="none" stroke-width="1" />
<rect x="161.58" y="530.50" width="2.95" height="25.70" fill="#c9c9c9" stroke="none" stroke-width="1" />
<rect x="164.48" y="542.81" width="3.15" height="13.39" fill="#5b9e3b" stroke="none" stroke-width="1" />
<rect x="168.31" y="527.62" width="2.95" height="28.58" fill="#c9c9c9" stroke="none" stroke-width="1" />
<rect x="171.21" y="543.38" width="3.15" height="12.82" fill="#5b9e3b" stroke="none" stroke-width="1" />
<rect x="175.04" y="522.62" width="2.95" height="33.58" fill="#c9c9c9" stroke="none" stroke-width="1" />
<rect x="177.94" y="544.92" width="3.15" height="11.28" fill="#5b9e3b" stroke="none" stroke-width="1" />
<rect x="181.77" y="534.35" width="2.95" height="21.85" fill="#c9c9c9" stroke="none" stroke-width="1" />
<rect x="184.67" y="546.27" width="3.15" height="9.93" fill="#5b9e3b" stroke="none" stroke-width="1" />
<rect x="188.50" y="527.42" width="2.95" height="28.78" fill="#c9c9c9" stroke="none" stroke-width="1" />
<rect x="191.40" y="541.08" width="3.15" height="15.12" fill="#5b9e3b" stroke="none" stroke-width="1" />
<rect x="198.15" y="508.77" width="2.95" height="47.43" fill="#c9c9c9" stroke="none" stroke-width="1" />
<rect x="201.05" y="553.38" width="3.15" height="2.82" fill="#5b9e3b" stroke="none" stroke-width="1" />
<rect x="204.88" y="535.69" width="2.95" height="20.51" fill="#c9c9c9" stroke="none" stroke-width="1" />
<rect x="207.78" y="550.69" width="3.15" height="5.51" fill="#5b9e3b" stroke="none" stroke-width="1" />
<rect x="211.61" y="536.65" width="2.95" height="19.55" fill="#c9c9c9" stroke="none" stroke-width="1" />
<rect x="214.51" y="551.65" width="3.15" height="4.55" fill="#5b9e3b" stroke="none" stroke-width="1" />
<rect x="218.34" y="533.19" width="2.95" height="23.01" fill="#c9c9c9" stroke="none" stroke-width="1" />
<rect x="221.24" y="548.19" width="3.15" height="8.01" fill="#5b9e3b" stroke="none" stroke-width="1" />
<rect x="225.07" y="513.58" width="2.95" height="42.62" fill="#c9c9c9" stroke="none" stroke-width="1" />
<rect x="227.97" y="545.69" width="3.15" height="10.51" fill="#5b9e3b" stroke="none" stroke-width="1" />
<rect x="231.80" y="528.58" width="2.95" height="27.62" fill="#c9c9c9" stroke="none" stroke-width="1" />
<rect x="234.70" y="551.08" width="3.15" height="5.12" fill="#5b9e3b" stroke="none" stroke-width="1" />
<rect x="41.75" y="583.92" width="2.95" height="27.58" fill="#c9c9c9" stroke="none" stroke-width="1" />
<rect x="44.65" y="590.08" width="3.15" height="21.42" fill="#5b9e3b" stroke="none" stroke-width="1" />
<rect x="48.48" y="562.19" width="2.95" height="49.31" fill="#c9c9c9" stroke="none" stroke-width="1" />
<rect x="51.38" y="562.77" width="3.15" height="48.73" fill="#5b9e3b" stroke="none" stroke-width="1" />
<rect x="55.21" y="563.73" width="2.95" height="47.77" fill="#c9c9c9" stroke="none" stroke-width="1" />
<rect x="58.11" y="575.65" width="3.15" height="35.85" fill="#5b9e3b" stroke="none" stroke-width="1" />
<rect x="61.94" y="570.08" width="2.95" height="41.42" fill="#c9c9c9" stroke="none" stroke-width="1" />
<rect x="64.84" y="583.35" width="3.15" height="28.15" fill="#5b9e3b" stroke="none" stroke-width="1" />
<rect x="68.67" y="572.77" width="2.95" height="38.73" fill="#c9c9c9" stroke="none" stroke-width="1" />
<rect x="71.57" y="586.42" width="3.15" height="25.08" fill="#5b9e3b" stroke="none" stroke-width="1" />
<rect x="75.40" y="570.46" width="2.95" height="41.04" fill="#c9c9c9" stroke="none" stroke-width="1" />
<rect x="78.30" y="582.58" width="3.15" height="28.92" fill="#5b9e3b" stroke="none" stroke-width="1" />
<rect x="82.13" y="571.42" width="2.95" height="40.08" fill="#c9c9c9" stroke="none" stroke-width="1" />
<rect x="85.03" y="574.88" width="3.15" height="36.62" fill="#5b9e3b" stroke="none" stroke-width="1" />
<rect x="88.86" y="577.19" width="2.95" height="34.31" fill="#c9c9c9" stroke="none" stroke-width="1" />
<rect x="91.76" y="590.08" width="3.15" height="21.42" fill="#5b9e3b" stroke="none" stroke-width="1" />
<rect x="98.35" y="564.69" width="2.95" height="46.81" fill="#c9c9c9" stroke="none" stroke-width="1" />
<rect x="101.25" y="581.62" width="3.15" height="29.88" fill="#5b9e3b" stroke="none" stroke-width="1" />
<rect x="105.08" y="582.00" width="2.95" height="29.50" fill="#c9c9c9" stroke="none" stroke-width="1" />
<rect x="107.98" y="587.19" width="3.15" height="24.31" fill="#5b9e3b" stroke="none" stroke-width="1" />
<rect x="111.81" y="574.69" width="2.95" height="36.81" fill="#c9c9c9" stroke="none" stroke-width="1" />
<rect x="114.71" y="576.23" width="3.15" height="35.27" fill="#5b9e3b" stroke="none" stroke-width="1" />
<rect x="118.54" y="576.23" width="2.95" height="35.27" fill="#c9c9c9" stroke="none" stroke-width="1" />
<rect x="121.44" y="586.42" width="3.15" height="25.08" fill="#5b9e3b" stroke="none" stroke-width="1" />
<rect x="125.27" y="577.19" width="2.95" height="34.31" fill="#c9c9c9" stroke="none" stroke-width="1" />
<rect x="128.17" y="597.96" width="3.15" height="13.54" fill="#5b9e3b" stroke="none" stroke-width="1" />
<rect x="132.00" y="573.35" width="2.95" height="38.15" fill="#c9c9c9" stroke="none" stroke-width="1" />
<rect x="134.90" y="581.62" width="3.15" height="29.88" fill="#5b9e3b" stroke="none" stroke-width="1" />
<rect x="138.73" y="562.77" width="2.95" height="48.73" fill="#c9c9c9" stroke="none" stroke-width="1" />
<rect x="141.63" y="565.27" width="3.15" height="46.23" fill="#5b9e3b" stroke="none" stroke-width="1" />
<rect x="145.46" y="585.85" width="2.95" height="25.65" fill="#c9c9c9" stroke="none" stroke-width="1" />
<rect x="148.36" y="594.50" width="3.15" height="17.00" fill="#5b9e3b" stroke="none" stroke-width="1" />
<rect x="154.85" y="586.81" width="2.95" height="24.69" fill="#c9c9c9" stroke="none" stroke-width="1" />
<rect x="157.75" y="604.12" width="3.15" height="7.38" fill="#5b9e3b" stroke="none" stroke-width="1" />
<rect x="161.58" y="580.46" width="2.95" height="31.04" fill="#c9c9c9" stroke="none" stroke-width="1" />
<rect x="164.48" y="590.65" width="3.15" height="20.85" fill="#5b9e3b" stroke="none" stroke-width="1" />
<rect x="168.31" y="568.54" width="2.95" height="42.96" fill="#c9c9c9" stroke="none" stroke-width="1" />
<rect x="171.21" y="607.38" width="3.15" height="4.12" fill="#5b9e3b" stroke="none" stroke-width="1" />
<rect x="175.04" y="588.73" width="2.95" height="22.77" fill="#c9c9c9" stroke="none" stroke-width="1" />
<rect x="177.94" y="598.35" width="3.15" height="13.15" fill="#5b9e3b" stroke="none" stroke-width="1" />
<rect x="181.77" y="589.12" width="2.95" height="22.38" fill="#c9c9c9" stroke="none" stroke-width="1" />
<rect x="184.67" y="600.85" width="3.15" height="10.65" fill="#5b9e3b" stroke="none" stroke-width="1" />
<rect x="188.50" y="583.92" width="2.95" height="27.58" fill="#c9c9c9" stroke="none" stroke-width="1" />
<rect x="191.40" y="597.96" width="3.15" height="13.54" fill="#5b9e3b" stroke="none" stroke-width="1" />
<rect x="198.15" y="566.23" width="2.95" height="45.27" fill="#c9c9c9" stroke="none" stroke-width="1" />
<rect x="201.05" y="591.62" width="3.15" height="19.88" fill="#5b9e3b" stroke="none" stroke-width="1" />
<rect x="204.88" y="589.31" width="2.95" height="22.19" fill="#c9c9c9" stroke="none" stroke-width="1" />
<rect x="207.78" y="603.73" width="3.15" height="7.77" fill="#5b9e3b" stroke="none" stroke-width="1" />
<rect x="211.61" y="585.46" width="2.95" height="26.04" fill="#c9c9c9" stroke="none" stroke-width="1" />
<rect x="214.51" y="595.08" width="3.15" height="16.42" fill="#5b9e3b" stroke="none" stroke-width="1" />
<rect x="218.34" y="581.62" width="2.95" height="29.88" fill="#c9c9c9" stroke="none" stroke-width="1" />
<rect x="221.24" y="604.12" width="3.15" height="7.38" fill="#5b9e3b" stroke="none" stroke-width="1" />
<rect x="225.07" y="580.08" width="2.95" height="31.42" fill="#c9c9c9" stroke="none" stroke-width="1" />
<rect x="227.97" y="588.73" width="3.15" height="22.77" fill="#5b9e3b" stroke="none" stroke-width="1" />
<rect x="231.80" y="591.23" width="2.95" height="20.27" fill="#c9c9c9" stroke="none" stroke-width="1" />
<rect x="234.70" y="610.65" width="3.15" height="0.85" fill="#5b9e3b" stroke="none" stroke-width="1" />
<rect x="41.75" y="624.85" width="2.95" height="42.05" fill="#c9c9c9" stroke="none" stroke-width="1" />
<rect x="44.65" y="626.77" width="3.15" height="40.13" fill="#5b9e3b" stroke="none" stroke-width="1" />
<rect x="48.48" y="620.04" width="2.95" height="46.86" fill="#c9c9c9" stroke="none" stroke-width="1" />
<rect x="51.38" y="627.35" width="3.15" height="39.55" fill="#5b9e3b" stroke="none" stroke-width="1" />
<rect x="55.21" y="624.08" width="2.95" height="42.82" fill="#c9c9c9" stroke="none" stroke-width="1" />
<rect x="58.11" y="628.31" width="3.15" height="38.59" fill="#5b9e3b" stroke="none" stroke-width="1" />
<rect x="61.94" y="618.31" width="2.95" height="48.59" fill="#c9c9c9" stroke="none" stroke-width="1" />
<rect x="64.84" y="630.23" width="3.15" height="36.67" fill="#5b9e3b" stroke="none" stroke-width="1" />
<rect x="68.67" y="618.31" width="2.95" height="48.59" fill="#c9c9c9" stroke="none" stroke-width="1" />
<rect x="71.57" y="631.19" width="3.15" height="35.71" fill="#5b9e3b" stroke="none" stroke-width="1" />
<rect x="75.40" y="619.65" width="2.95" height="47.25" fill="#c9c9c9" stroke="none" stroke-width="1" />
<rect x="78.30" y="633.69" width="3.15" height="33.21" fill="#5b9e3b" stroke="none" stroke-width="1" />
<rect x="82.13" y="620.62" width="2.95" height="46.28" fill="#c9c9c9" stroke="none" stroke-width="1" />
<rect x="85.03" y="635.62" width="3.15" height="31.28" fill="#5b9e3b" stroke="none" stroke-width="1" />
<rect x="88.86" y="618.12" width="2.95" height="48.78" fill="#c9c9c9" stroke="none" stroke-width="1" />
<rect x="91.76" y="635.62" width="3.15" height="31.28" fill="#5b9e3b" stroke="none" stroke-width="1" />
<rect x="98.35" y="618.69" width="2.95" height="48.21" fill="#c9c9c9" stroke="none" stroke-width="1" />
<rect x="101.25" y="621.96" width="3.15" height="44.94" fill="#5b9e3b" stroke="none" stroke-width="1" />
<rect x="105.08" y="620.62" width="2.95" height="46.28" fill="#c9c9c9" stroke="none" stroke-width="1" />
<rect x="107.98" y="623.50" width="3.15" height="43.40" fill="#5b9e3b" stroke="none" stroke-width="1" />
<rect x="111.81" y="627.92" width="2.95" height="38.98" fill="#c9c9c9" stroke="none" stroke-width="1" />
<rect x="114.71" y="628.31" width="3.15" height="38.59" fill="#5b9e3b" stroke="none" stroke-width="1" />
<rect x="118.54" y="623.12" width="2.95" height="43.78" fill="#c9c9c9" stroke="none" stroke-width="1" />
<rect x="121.44" y="631.19" width="3.15" height="35.71" fill="#5b9e3b" stroke="none" stroke-width="1" />
<rect x="125.27" y="630.23" width="2.95" height="36.67" fill="#c9c9c9" stroke="none" stroke-width="1" />
<rect x="128.17" y="637.92" width="3.15" height="28.98" fill="#5b9e3b" stroke="none" stroke-width="1" />
<rect x="132.00" y="626.00" width="2.95" height="40.90" fill="#c9c9c9" stroke="none" stroke-width="1" />
<rect x="134.90" y="641.19" width="3.15" height="25.71" fill="#5b9e3b" stroke="none" stroke-width="1" />
<rect x="138.73" y="622.54" width="2.95" height="44.36" fill="#c9c9c9" stroke="none" stroke-width="1" />
<rect x="141.63" y="642.73" width="3.15" height="24.17" fill="#5b9e3b" stroke="none" stroke-width="1" />
<rect x="145.46" y="639.85" width="2.95" height="27.05" fill="#c9c9c9" stroke="none" stroke-width="1" />
<rect x="148.36" y="652.35" width="3.15" height="14.55" fill="#5b9e3b" stroke="none" stroke-width="1" />
<rect x="154.85" y="620.23" width="2.95" height="46.67" fill="#c9c9c9" stroke="none" stroke-width="1" />
<rect x="157.75" y="626.00" width="3.15" height="40.90" fill="#5b9e3b" stroke="none" stroke-width="1" />
<rect x="161.58" y="633.69" width="2.95" height="33.21" fill="#c9c9c9" stroke="none" stroke-width="1" />
<rect x="164.48" y="644.08" width="3.15" height="22.82" fill="#5b9e3b" stroke="none" stroke-width="1" />
<rect x="168.31" y="630.23" width="2.95" height="36.67" fill="#c9c9c9" stroke="none" stroke-width="1" />
<rect x="171.21" y="647.92" width="3.15" height="18.98" fill="#5b9e3b" stroke="none" stroke-width="1" />
<rect x="175.04" y="637.92" width="2.95" height="28.98" fill="#c9c9c9" stroke="none" stroke-width="1" />
<rect x="177.94" y="651.77" width="3.15" height="15.13" fill="#5b9e3b" stroke="none" stroke-width="1" />
<rect x="181.77" y="644.08" width="2.95" height="22.82" fill="#c9c9c9" stroke="none" stroke-width="1" />
<rect x="184.67" y="655.62" width="3.15" height="11.28" fill="#5b9e3b" stroke="none" stroke-width="1" />
<rect x="188.50" y="623.12" width="2.95" height="43.78" fill="#c9c9c9" stroke="none" stroke-width="1" />
<rect x="191.40" y="656.77" width="3.15" height="10.13" fill="#5b9e3b" stroke="none" stroke-width="1" />
<rect x="198.15" y="619.65" width="2.95" height="47.25" fill="#c9c9c9" stroke="none" stroke-width="1" />
<rect x="201.05" y="622.92" width="3.15" height="43.98" fill="#5b9e3b" stroke="none" stroke-width="1" />
<rect x="204.88" y="623.12" width="2.95" height="43.78" fill="#c9c9c9" stroke="none" stroke-width="1" />
<rect x="207.78" y="623.88" width="3.15" height="43.02" fill="#5b9e3b" stroke="none" stroke-width="1" />
<rect x="211.61" y="627.35" width="2.95" height="39.55" fill="#c9c9c9" stroke="none" stroke-width="1" />
<rect x="214.51" y="633.69" width="3.15" height="33.21" fill="#5b9e3b" stroke="none" stroke-width="1" />
<rect x="218.34" y="620.04" width="2.95" height="46.86" fill="#c9c9c9" stroke="none" stroke-width="1" />
<rect x="221.24" y="634.46" width="3.15" height="32.44" fill="#5b9e3b" stroke="none" stroke-width="1" />
<rect x="225.07" y="619.27" width="2.95" height="47.63" fill="#c9c9c9" stroke="none" stroke-width="1" />
<rect x="227.97" y="636.58" width="3.15" height="30.32" fill="#5b9e3b" stroke="none" stroke-width="1" />
<rect x="231.80" y="634.46" width="2.95" height="32.44" fill="#c9c9c9" stroke="none" stroke-width="1" />
<rect x="234.70" y="654.85" width="3.15" height="12.05" fill="#5b9e3b" stroke="none" stroke-width="1" />
<rect x="40.40" y="492.00" width="55.40" height="11.60" fill="#e6e6e6" stroke="#555555" stroke-width="1.0" />
<text x="68.10" y="500.60" font-size="7.4" text-anchor="middle" font-weight="normal" font-style="normal" fill="#1f1f1f" ><tspan font-style="italic">vector</tspan></text>
<rect x="97.40" y="492.00" width="54.30" height="11.60" fill="#e6e6e6" stroke="#555555" stroke-width="1.0" />
<text x="124.55" y="500.60" font-size="7.4" text-anchor="middle" font-weight="normal" font-style="normal" fill="#1f1f1f" ><tspan font-style="italic">H3.3</tspan> WT</text>
<rect x="153.60" y="492.00" width="41.70" height="11.60" fill="#e6e6e6" stroke="#555555" stroke-width="1.0" />
<text x="174.45" y="500.60" font-size="7.4" text-anchor="middle" font-weight="normal" font-style="normal" fill="#1f1f1f" ><tspan font-style="italic">K9M</tspan></text>
<rect x="196.90" y="492.00" width="41.50" height="11.60" fill="#e6e6e6" stroke="#555555" stroke-width="1.0" />
<text x="217.65" y="500.60" font-size="7.4" text-anchor="middle" font-weight="normal" font-style="normal" fill="#1f1f1f" ><tspan font-style="italic">K27M</tspan></text>
<rect x="239.00" y="504.30" width="11.20" height="52.40" fill="#e6e6e6" stroke="#555555" stroke-width="1.0" />
<text transform="translate(247.40,530.50) rotate(-90)" font-size="8.0" text-anchor="middle" font-weight="normal" font-style="normal" fill="#1f1f1f" >wk6</text>
<rect x="40.40" y="504.30" width="55.40" height="52.40" fill="none" stroke="#555555" stroke-width="1.35" />
<rect x="97.40" y="504.30" width="54.30" height="52.40" fill="none" stroke="#555555" stroke-width="1.35" />
<rect x="153.60" y="504.30" width="41.70" height="52.40" fill="none" stroke="#555555" stroke-width="1.35" />
<rect x="196.90" y="504.30" width="41.50" height="52.40" fill="none" stroke="#555555" stroke-width="1.35" />
<rect x="239.00" y="559.50" width="11.20" height="52.50" fill="#e6e6e6" stroke="#555555" stroke-width="1.0" />
<text transform="translate(247.40,585.75) rotate(-90)" font-size="8.0" text-anchor="middle" font-weight="normal" font-style="normal" fill="#1f1f1f" >wk12</text>
<rect x="40.40" y="559.50" width="55.40" height="52.50" fill="none" stroke="#555555" stroke-width="1.35" />
<rect x="97.40" y="559.50" width="54.30" height="52.50" fill="none" stroke="#555555" stroke-width="1.35" />
<rect x="153.60" y="559.50" width="41.70" height="52.50" fill="none" stroke="#555555" stroke-width="1.35" />
<rect x="196.90" y="559.50" width="41.50" height="52.50" fill="none" stroke="#555555" stroke-width="1.35" />
<rect x="239.00" y="614.80" width="11.20" height="52.60" fill="#e6e6e6" stroke="#555555" stroke-width="1.0" />
<text transform="translate(247.40,641.10) rotate(-90)" font-size="8.0" text-anchor="middle" font-weight="normal" font-style="normal" fill="#1f1f1f" >wk24</text>
<rect x="40.40" y="614.80" width="55.40" height="52.60" fill="none" stroke="#555555" stroke-width="1.35" />
<rect x="97.40" y="614.80" width="54.30" height="52.60" fill="none" stroke="#555555" stroke-width="1.35" />
<rect x="153.60" y="614.80" width="41.70" height="52.60" fill="none" stroke="#555555" stroke-width="1.35" />
<rect x="196.90" y="614.80" width="41.50" height="52.60" fill="none" stroke="#555555" stroke-width="1.35" />
<line x1="38.20" y1="509.40" x2="40.40" y2="509.40" stroke="#222" stroke-width="0.8" />
<text x="36.60" y="511.85" font-size="6.9" text-anchor="end" font-weight="normal" font-style="normal" fill="#1f1f1f" >64</text>
<line x1="38.20" y1="519.60" x2="40.40" y2="519.60" stroke="#222" stroke-width="0.8" />
<text x="36.60" y="522.05" font-size="6.9" text-anchor="end" font-weight="normal" font-style="normal" fill="#1f1f1f" >16</text>
<line x1="38.20" y1="529.80" x2="40.40" y2="529.80" stroke="#222" stroke-width="0.8" />
<text x="36.60" y="532.25" font-size="6.9" text-anchor="end" font-weight="normal" font-style="normal" fill="#1f1f1f" >4</text>
<line x1="38.20" y1="540.00" x2="40.40" y2="540.00" stroke="#222" stroke-width="0.8" />
<text x="36.60" y="542.45" font-size="6.9" text-anchor="end" font-weight="normal" font-style="normal" fill="#1f1f1f" >1</text>
<line x1="38.20" y1="550.20" x2="40.40" y2="550.20" stroke="#222" stroke-width="0.8" />
<text x="36.60" y="552.65" font-size="6.9" text-anchor="end" font-weight="normal" font-style="normal" fill="#1f1f1f" >0.25</text>
<line x1="38.20" y1="556.60" x2="40.40" y2="556.60" stroke="#222" stroke-width="0.8" />
<text x="36.60" y="559.05" font-size="6.9" text-anchor="end" font-weight="normal" font-style="normal" fill="#1f1f1f" >0.1</text>
<line x1="38.20" y1="564.70" x2="40.40" y2="564.70" stroke="#222" stroke-width="0.8" />
<text x="36.60" y="567.15" font-size="6.9" text-anchor="end" font-weight="normal" font-style="normal" fill="#1f1f1f" >64</text>
<line x1="38.20" y1="574.90" x2="40.40" y2="574.90" stroke="#222" stroke-width="0.8" />
<text x="36.60" y="577.35" font-size="6.9" text-anchor="end" font-weight="normal" font-style="normal" fill="#1f1f1f" >16</text>
<line x1="38.20" y1="585.10" x2="40.40" y2="585.10" stroke="#222" stroke-width="0.8" />
<text x="36.60" y="587.55" font-size="6.9" text-anchor="end" font-weight="normal" font-style="normal" fill="#1f1f1f" >4</text>
<line x1="38.20" y1="595.30" x2="40.40" y2="595.30" stroke="#222" stroke-width="0.8" />
<text x="36.60" y="597.75" font-size="6.9" text-anchor="end" font-weight="normal" font-style="normal" fill="#1f1f1f" >1</text>
<line x1="38.20" y1="605.50" x2="40.40" y2="605.50" stroke="#222" stroke-width="0.8" />
<text x="36.60" y="607.95" font-size="6.9" text-anchor="end" font-weight="normal" font-style="normal" fill="#1f1f1f" >0.25</text>
<line x1="38.20" y1="611.90" x2="40.40" y2="611.90" stroke="#222" stroke-width="0.8" />
<text x="36.60" y="614.35" font-size="6.9" text-anchor="end" font-weight="normal" font-style="normal" fill="#1f1f1f" >0.1</text>
<line x1="38.20" y1="620.00" x2="40.40" y2="620.00" stroke="#222" stroke-width="0.8" />
<text x="36.60" y="622.45" font-size="6.9" text-anchor="end" font-weight="normal" font-style="normal" fill="#1f1f1f" >64</text>
<line x1="38.20" y1="630.20" x2="40.40" y2="630.20" stroke="#222" stroke-width="0.8" />
<text x="36.60" y="632.65" font-size="6.9" text-anchor="end" font-weight="normal" font-style="normal" fill="#1f1f1f" >16</text>
<line x1="38.20" y1="640.40" x2="40.40" y2="640.40" stroke="#222" stroke-width="0.8" />
<text x="36.60" y="642.85" font-size="6.9" text-anchor="end" font-weight="normal" font-style="normal" fill="#1f1f1f" >4</text>
<line x1="38.20" y1="650.60" x2="40.40" y2="650.60" stroke="#222" stroke-width="0.8" />
<text x="36.60" y="653.05" font-size="6.9" text-anchor="end" font-weight="normal" font-style="normal" fill="#1f1f1f" >1</text>
<line x1="38.20" y1="660.80" x2="40.40" y2="660.80" stroke="#222" stroke-width="0.8" />
<text x="36.60" y="663.25" font-size="6.9" text-anchor="end" font-weight="normal" font-style="normal" fill="#1f1f1f" >0.25</text>
<line x1="38.20" y1="667.20" x2="40.40" y2="667.20" stroke="#222" stroke-width="0.8" />
<text x="36.60" y="669.65" font-size="6.9" text-anchor="end" font-weight="normal" font-style="normal" fill="#1f1f1f" >0.1</text>
<line x1="44.70" y1="667.90" x2="44.70" y2="670.20" stroke="#1d2340" stroke-width="0.8" />
<text transform="translate(46.95,673.90) rotate(-90)" font-size="6.4" text-anchor="end" font-weight="normal" font-style="normal" fill="#2a2a2a" >19617</text>
<line x1="51.43" y1="667.90" x2="51.43" y2="670.20" stroke="#1d2340" stroke-width="0.8" />
<text transform="translate(53.68,673.90) rotate(-90)" font-size="6.4" text-anchor="end" font-weight="normal" font-style="normal" fill="#2a2a2a" >19615</text>
<line x1="58.16" y1="667.90" x2="58.16" y2="670.20" stroke="#1d2340" stroke-width="0.8" />
<text transform="translate(60.41,673.90) rotate(-90)" font-size="6.4" text-anchor="end" font-weight="normal" font-style="normal" fill="#2a2a2a" >19618</text>
<line x1="64.89" y1="667.90" x2="64.89" y2="670.20" stroke="#1d2340" stroke-width="0.8" />
<text transform="translate(67.14,673.90) rotate(-90)" font-size="6.4" text-anchor="end" font-weight="normal" font-style="normal" fill="#2a2a2a" >19614</text>
<line x1="71.62" y1="667.90" x2="71.62" y2="670.20" stroke="#1d2340" stroke-width="0.8" />
<text transform="translate(73.87,673.90) rotate(-90)" font-size="6.4" text-anchor="end" font-weight="normal" font-style="normal" fill="#2a2a2a" >19616</text>
<line x1="78.35" y1="667.90" x2="78.35" y2="670.20" stroke="#1d2340" stroke-width="0.8" />
<text transform="translate(80.60,673.90) rotate(-90)" font-size="6.4" text-anchor="end" font-weight="normal" font-style="normal" fill="#2a2a2a" >19612</text>
<line x1="85.08" y1="667.90" x2="85.08" y2="670.20" stroke="#1d2340" stroke-width="0.8" />
<text transform="translate(87.33,673.90) rotate(-90)" font-size="6.4" text-anchor="end" font-weight="normal" font-style="normal" fill="#2a2a2a" >19619</text>
<line x1="91.81" y1="667.90" x2="91.81" y2="670.20" stroke="#1d2340" stroke-width="0.8" />
<text transform="translate(94.06,673.90) rotate(-90)" font-size="6.4" text-anchor="end" font-weight="normal" font-style="normal" fill="#2a2a2a" >19613</text>
<line x1="101.30" y1="667.90" x2="101.30" y2="670.20" stroke="#1d2340" stroke-width="0.8" />
<text transform="translate(103.55,673.90) rotate(-90)" font-size="6.4" text-anchor="end" font-weight="normal" font-style="normal" fill="#2a2a2a" >19623</text>
<line x1="108.03" y1="667.90" x2="108.03" y2="670.20" stroke="#1d2340" stroke-width="0.8" />
<text transform="translate(110.28,673.90) rotate(-90)" font-size="6.4" text-anchor="end" font-weight="normal" font-style="normal" fill="#2a2a2a" >19621</text>
<line x1="114.76" y1="667.90" x2="114.76" y2="670.20" stroke="#1d2340" stroke-width="0.8" />
<text transform="translate(117.01,673.90) rotate(-90)" font-size="6.4" text-anchor="end" font-weight="normal" font-style="normal" fill="#2a2a2a" >19627</text>
<line x1="121.49" y1="667.90" x2="121.49" y2="670.20" stroke="#1d2340" stroke-width="0.8" />
<text transform="translate(123.74,673.90) rotate(-90)" font-size="6.4" text-anchor="end" font-weight="normal" font-style="normal" fill="#2a2a2a" >19626</text>
<line x1="128.22" y1="667.90" x2="128.22" y2="670.20" stroke="#1d2340" stroke-width="0.8" />
<text transform="translate(130.47,673.90) rotate(-90)" font-size="6.4" text-anchor="end" font-weight="normal" font-style="normal" fill="#2a2a2a" >19624</text>
<line x1="134.95" y1="667.90" x2="134.95" y2="670.20" stroke="#1d2340" stroke-width="0.8" />
<text transform="translate(137.20,673.90) rotate(-90)" font-size="6.4" text-anchor="end" font-weight="normal" font-style="normal" fill="#2a2a2a" >19625</text>
<line x1="141.68" y1="667.90" x2="141.68" y2="670.20" stroke="#1d2340" stroke-width="0.8" />
<text transform="translate(143.93,673.90) rotate(-90)" font-size="6.4" text-anchor="end" font-weight="normal" font-style="normal" fill="#2a2a2a" >19622</text>
<line x1="148.41" y1="667.90" x2="148.41" y2="670.20" stroke="#1d2340" stroke-width="0.8" />
<text transform="translate(150.66,673.90) rotate(-90)" font-size="6.4" text-anchor="end" font-weight="normal" font-style="normal" fill="#2a2a2a" >19620</text>
<line x1="157.80" y1="667.90" x2="157.80" y2="670.20" stroke="#1d2340" stroke-width="0.8" />
<text transform="translate(160.05,673.90) rotate(-90)" font-size="6.4" text-anchor="end" font-weight="normal" font-style="normal" fill="#2a2a2a" >19631</text>
<line x1="164.53" y1="667.90" x2="164.53" y2="670.20" stroke="#1d2340" stroke-width="0.8" />
<text transform="translate(166.78,673.90) rotate(-90)" font-size="6.4" text-anchor="end" font-weight="normal" font-style="normal" fill="#2a2a2a" >19634</text>
<line x1="171.26" y1="667.90" x2="171.26" y2="670.20" stroke="#1d2340" stroke-width="0.8" />
<text transform="translate(173.51,673.90) rotate(-90)" font-size="6.4" text-anchor="end" font-weight="normal" font-style="normal" fill="#2a2a2a" >19630</text>
<line x1="177.99" y1="667.90" x2="177.99" y2="670.20" stroke="#1d2340" stroke-width="0.8" />
<text transform="translate(180.24,673.90) rotate(-90)" font-size="6.4" text-anchor="end" font-weight="normal" font-style="normal" fill="#2a2a2a" >19628</text>
<line x1="184.72" y1="667.90" x2="184.72" y2="670.20" stroke="#1d2340" stroke-width="0.8" />
<text transform="translate(186.97,673.90) rotate(-90)" font-size="6.4" text-anchor="end" font-weight="normal" font-style="normal" fill="#2a2a2a" >19632</text>
<line x1="191.45" y1="667.90" x2="191.45" y2="670.20" stroke="#1d2340" stroke-width="0.8" />
<text transform="translate(193.70,673.90) rotate(-90)" font-size="6.4" text-anchor="end" font-weight="normal" font-style="normal" fill="#2a2a2a" >19629</text>
<line x1="201.10" y1="667.90" x2="201.10" y2="670.20" stroke="#1d2340" stroke-width="0.8" />
<text transform="translate(203.35,673.90) rotate(-90)" font-size="6.4" text-anchor="end" font-weight="normal" font-style="normal" fill="#2a2a2a" >19637</text>
<line x1="207.83" y1="667.90" x2="207.83" y2="670.20" stroke="#1d2340" stroke-width="0.8" />
<text transform="translate(210.08,673.90) rotate(-90)" font-size="6.4" text-anchor="end" font-weight="normal" font-style="normal" fill="#2a2a2a" >19639</text>
<line x1="214.56" y1="667.90" x2="214.56" y2="670.20" stroke="#1d2340" stroke-width="0.8" />
<text transform="translate(216.81,673.90) rotate(-90)" font-size="6.4" text-anchor="end" font-weight="normal" font-style="normal" fill="#2a2a2a" >19636</text>
<line x1="221.29" y1="667.90" x2="221.29" y2="670.20" stroke="#1d2340" stroke-width="0.8" />
<text transform="translate(223.54,673.90) rotate(-90)" font-size="6.4" text-anchor="end" font-weight="normal" font-style="normal" fill="#2a2a2a" >19640</text>
<line x1="228.02" y1="667.90" x2="228.02" y2="670.20" stroke="#1d2340" stroke-width="0.8" />
<text transform="translate(230.27,673.90) rotate(-90)" font-size="6.4" text-anchor="end" font-weight="normal" font-style="normal" fill="#2a2a2a" >19638</text>
<line x1="234.75" y1="667.90" x2="234.75" y2="670.20" stroke="#1d2340" stroke-width="0.8" />
<text transform="translate(237.00,673.90) rotate(-90)" font-size="6.4" text-anchor="end" font-weight="normal" font-style="normal" fill="#2a2a2a" >19641</text>
<text x="264.20" y="485.90" font-size="11.5" text-anchor="start" font-weight="bold" font-style="normal" fill="#111" >I</text>
<rect x="353.20" y="478.60" width="7.00" height="7.00" fill="#2f4b82" stroke="none" stroke-width="1" />
<text x="363.60" y="484.30" font-size="5.4" text-anchor="start" font-weight="normal" font-style="normal" fill="#1f1f1f" >CD19<tspan dy="-1.8" font-size="3.8">+</tspan></text>
<rect x="386.80" y="478.60" width="7.00" height="7.00" fill="#b3122f" stroke="none" stroke-width="1" />
<text x="397.20" y="484.30" font-size="5.4" text-anchor="start" font-weight="normal" font-style="normal" fill="#1f1f1f" >CD33<tspan dy="-1.8" font-size="3.8">+</tspan></text>
<rect x="420.30" y="478.60" width="7.00" height="7.00" fill="#efb92e" stroke="none" stroke-width="1" />
<text x="430.80" y="484.30" font-size="5.4" text-anchor="start" font-weight="normal" font-style="normal" fill="#1f1f1f" >CD34<tspan dy="-1.8" font-size="3.8">+</tspan></text>
<text transform="translate(278.00,654.60) rotate(-90) scale(0.775,1)" font-size="8.9" text-anchor="start" font-weight="normal" font-style="normal" fill="#1f1f1f" >Lineage proportion in GFP<tspan dy="-3" font-size="6">+</tspan><tspan dy="3"> (normalized)</tspan></text>
<rect x="301.15" y="506.46" width="6.10" height="5.77" fill="#efb92e" stroke="none" stroke-width="1" />
<rect x="301.15" y="512.23" width="6.10" height="9.42" fill="#b3122f" stroke="none" stroke-width="1" />
<rect x="301.15" y="521.65" width="6.10" height="33.27" fill="#2f4b82" stroke="none" stroke-width="1" />
<rect x="307.90" y="506.46" width="6.10" height="2.31" fill="#efb92e" stroke="none" stroke-width="1" />
<rect x="307.90" y="508.77" width="6.10" height="30.38" fill="#b3122f" stroke="none" stroke-width="1" />
<rect x="307.90" y="539.15" width="6.10" height="15.77" fill="#2f4b82" stroke="none" stroke-width="1" />
<rect x="314.65" y="506.46" width="6.10" height="11.54" fill="#efb92e" stroke="none" stroke-width="1" />
<rect x="314.65" y="518.00" width="6.10" height="12.50" fill="#b3122f" stroke="none" stroke-width="1" />
<rect x="314.65" y="530.50" width="6.10" height="24.42" fill="#2f4b82" stroke="none" stroke-width="1" />
<rect x="321.40" y="506.46" width="6.10" height="1.92" fill="#efb92e" stroke="none" stroke-width="1" />
<rect x="321.40" y="508.38" width="6.10" height="19.23" fill="#b3122f" stroke="none" stroke-width="1" />
<rect x="321.40" y="527.62" width="6.10" height="27.31" fill="#2f4b82" stroke="none" stroke-width="1" />
<rect x="328.15" y="506.46" width="6.10" height="4.62" fill="#efb92e" stroke="none" stroke-width="1" />
<rect x="328.15" y="511.08" width="6.10" height="29.81" fill="#b3122f" stroke="none" stroke-width="1" />
<rect x="328.15" y="540.88" width="6.10" height="14.04" fill="#2f4b82" stroke="none" stroke-width="1" />
<rect x="334.90" y="506.46" width="6.10" height="1.35" fill="#efb92e" stroke="none" stroke-width="1" />
<rect x="334.90" y="507.81" width="6.10" height="24.42" fill="#b3122f" stroke="none" stroke-width="1" />
<rect x="334.90" y="532.23" width="6.10" height="22.69" fill="#2f4b82" stroke="none" stroke-width="1" />
<rect x="341.65" y="506.46" width="6.10" height="2.69" fill="#efb92e" stroke="none" stroke-width="1" />
<rect x="341.65" y="509.15" width="6.10" height="27.50" fill="#b3122f" stroke="none" stroke-width="1" />
<rect x="341.65" y="536.65" width="6.10" height="18.27" fill="#2f4b82" stroke="none" stroke-width="1" />
<rect x="348.40" y="506.46" width="6.10" height="1.35" fill="#efb92e" stroke="none" stroke-width="1" />
<rect x="348.40" y="507.81" width="6.10" height="10.19" fill="#b3122f" stroke="none" stroke-width="1" />
<rect x="348.40" y="518.00" width="6.10" height="36.92" fill="#2f4b82" stroke="none" stroke-width="1" />
<rect x="358.45" y="506.46" width="6.10" height="2.31" fill="#efb92e" stroke="none" stroke-width="1" />
<rect x="358.45" y="508.77" width="6.10" height="19.23" fill="#b3122f" stroke="none" stroke-width="1" />
<rect x="358.45" y="528.00" width="6.10" height="26.92" fill="#2f4b82" stroke="none" stroke-width="1" />
<rect x="365.20" y="506.46" width="6.10" height="1.35" fill="#efb92e" stroke="none" stroke-width="1" />
<rect x="365.20" y="507.81" width="6.10" height="41.35" fill="#b3122f" stroke="none" stroke-width="1" />
<rect x="365.20" y="549.15" width="6.10" height="5.77" fill="#2f4b82" stroke="none" stroke-width="1" />
<rect x="371.95" y="506.46" width="6.10" height="1.92" fill="#efb92e" stroke="none" stroke-width="1" />
<rect x="371.95" y="508.38" width="6.10" height="19.62" fill="#b3122f" stroke="none" stroke-width="1" />
<rect x="371.95" y="528.00" width="6.10" height="26.92" fill="#2f4b82" stroke="none" stroke-width="1" />
<rect x="378.70" y="506.46" width="6.10" height="5.58" fill="#efb92e" stroke="none" stroke-width="1" />
<rect x="378.70" y="512.04" width="6.10" height="15.96" fill="#b3122f" stroke="none" stroke-width="1" />
<rect x="378.70" y="528.00" width="6.10" height="26.92" fill="#2f4b82" stroke="none" stroke-width="1" />
<rect x="385.45" y="506.46" width="6.10" height="3.85" fill="#efb92e" stroke="none" stroke-width="1" />
<rect x="385.45" y="510.31" width="6.10" height="11.92" fill="#b3122f" stroke="none" stroke-width="1" />
<rect x="385.45" y="522.23" width="6.10" height="32.69" fill="#2f4b82" stroke="none" stroke-width="1" />
<rect x="392.20" y="506.46" width="6.10" height="10.96" fill="#efb92e" stroke="none" stroke-width="1" />
<rect x="392.20" y="517.42" width="6.10" height="26.54" fill="#b3122f" stroke="none" stroke-width="1" />
<rect x="392.20" y="543.96" width="6.10" height="10.96" fill="#2f4b82" stroke="none" stroke-width="1" />
<rect x="398.95" y="506.46" width="6.10" height="0.38" fill="#efb92e" stroke="none" stroke-width="1" />
<rect x="398.95" y="506.85" width="6.10" height="34.62" fill="#b3122f" stroke="none" stroke-width="1" />
<rect x="398.95" y="541.46" width="6.10" height="13.46" fill="#2f4b82" stroke="none" stroke-width="1" />
<rect x="405.70" y="506.46" width="6.10" height="0.38" fill="#efb92e" stroke="none" stroke-width="1" />
<rect x="405.70" y="506.85" width="6.10" height="43.27" fill="#b3122f" stroke="none" stroke-width="1" />
<rect x="405.70" y="550.12" width="6.10" height="4.81" fill="#2f4b82" stroke="none" stroke-width="1" />
<rect x="415.75" y="506.46" width="6.10" height="0.77" fill="#efb92e" stroke="none" stroke-width="1" />
<rect x="415.75" y="507.23" width="6.10" height="44.81" fill="#b3122f" stroke="none" stroke-width="1" />
<rect x="415.75" y="552.04" width="6.10" height="2.88" fill="#2f4b82" stroke="none" stroke-width="1" />
<rect x="422.48" y="506.46" width="6.10" height="1.92" fill="#efb92e" stroke="none" stroke-width="1" />
<rect x="422.48" y="508.38" width="6.10" height="44.62" fill="#b3122f" stroke="none" stroke-width="1" />
<rect x="422.48" y="553.00" width="6.10" height="1.92" fill="#2f4b82" stroke="none" stroke-width="1" />
<rect x="429.21" y="506.46" width="6.10" height="1.92" fill="#efb92e" stroke="none" stroke-width="1" />
<rect x="429.21" y="508.38" width="6.10" height="44.62" fill="#b3122f" stroke="none" stroke-width="1" />
<rect x="429.21" y="553.00" width="6.10" height="1.92" fill="#2f4b82" stroke="none" stroke-width="1" />
<rect x="435.94" y="506.46" width="6.10" height="1.35" fill="#efb92e" stroke="none" stroke-width="1" />
<rect x="435.94" y="507.81" width="6.10" height="38.46" fill="#b3122f" stroke="none" stroke-width="1" />
<rect x="435.94" y="546.27" width="6.10" height="8.65" fill="#2f4b82" stroke="none" stroke-width="1" />
<rect x="442.67" y="506.46" width="6.10" height="0.77" fill="#efb92e" stroke="none" stroke-width="1" />
<rect x="442.67" y="507.23" width="6.10" height="46.73" fill="#b3122f" stroke="none" stroke-width="1" />
<rect x="442.67" y="553.96" width="6.10" height="0.96" fill="#2f4b82" stroke="none" stroke-width="1" />
<rect x="449.40" y="506.46" width="6.10" height="0.77" fill="#efb92e" stroke="none" stroke-width="1" />
<rect x="449.40" y="507.23" width="6.10" height="46.73" fill="#b3122f" stroke="none" stroke-width="1" />
<rect x="449.40" y="553.96" width="6.10" height="0.96" fill="#2f4b82" stroke="none" stroke-width="1" />
<rect x="459.35" y="506.46" width="6.10" height="0.77" fill="#efb92e" stroke="none" stroke-width="1" />
<rect x="459.35" y="507.23" width="6.10" height="46.15" fill="#b3122f" stroke="none" stroke-width="1" />
<rect x="459.35" y="553.38" width="6.10" height="1.54" fill="#2f4b82" stroke="none" stroke-width="1" />
<rect x="466.08" y="506.46" width="6.10" height="2.31" fill="#efb92e" stroke="none" stroke-width="1" />
<rect x="466.08" y="508.77" width="6.10" height="44.62" fill="#b3122f" stroke="none" stroke-width="1" />
<rect x="466.08" y="553.38" width="6.10" height="1.54" fill="#2f4b82" stroke="none" stroke-width="1" />
<rect x="472.81" y="506.46" width="6.10" height="1.35" fill="#efb92e" stroke="none" stroke-width="1" />
<rect x="472.81" y="507.81" width="6.10" height="44.23" fill="#b3122f" stroke="none" stroke-width="1" />
<rect x="472.81" y="552.04" width="6.10" height="2.88" fill="#2f4b82" stroke="none" stroke-width="1" />
<rect x="479.54" y="506.46" width="6.10" height="0.77" fill="#efb92e" stroke="none" stroke-width="1" />
<rect x="479.54" y="507.23" width="6.10" height="46.73" fill="#b3122f" stroke="none" stroke-width="1" />
<rect x="479.54" y="553.96" width="6.10" height="0.96" fill="#2f4b82" stroke="none" stroke-width="1" />
<rect x="486.27" y="506.46" width="6.10" height="0.77" fill="#efb92e" stroke="none" stroke-width="1" />
<rect x="486.27" y="507.23" width="6.10" height="34.23" fill="#b3122f" stroke="none" stroke-width="1" />
<rect x="486.27" y="541.46" width="6.10" height="13.46" fill="#2f4b82" stroke="none" stroke-width="1" />
<rect x="493.00" y="506.46" width="6.10" height="0.77" fill="#efb92e" stroke="none" stroke-width="1" />
<rect x="493.00" y="507.23" width="6.10" height="46.15" fill="#b3122f" stroke="none" stroke-width="1" />
<rect x="493.00" y="553.38" width="6.10" height="1.54" fill="#2f4b82" stroke="none" stroke-width="1" />
<rect x="301.15" y="562.00" width="6.10" height="1.73" fill="#efb92e" stroke="none" stroke-width="1" />
<rect x="301.15" y="563.73" width="6.10" height="7.12" fill="#b3122f" stroke="none" stroke-width="1" />
<rect x="301.15" y="570.85" width="6.10" height="40.00" fill="#2f4b82" stroke="none" stroke-width="1" />
<rect x="307.90" y="562.00" width="6.10" height="3.65" fill="#efb92e" stroke="none" stroke-width="1" />
<rect x="307.90" y="565.65" width="6.10" height="1.92" fill="#b3122f" stroke="none" stroke-width="1" />
<rect x="307.90" y="567.58" width="6.10" height="43.27" fill="#2f4b82" stroke="none" stroke-width="1" />
<rect x="314.65" y="562.00" width="6.10" height="2.31" fill="#efb92e" stroke="none" stroke-width="1" />
<rect x="314.65" y="564.31" width="6.10" height="24.42" fill="#b3122f" stroke="none" stroke-width="1" />
<rect x="314.65" y="588.73" width="6.10" height="22.12" fill="#2f4b82" stroke="none" stroke-width="1" />
<rect x="321.40" y="562.00" width="6.10" height="1.73" fill="#efb92e" stroke="none" stroke-width="1" />
<rect x="321.40" y="563.73" width="6.10" height="16.73" fill="#b3122f" stroke="none" stroke-width="1" />
<rect x="321.40" y="580.46" width="6.10" height="30.38" fill="#2f4b82" stroke="none" stroke-width="1" />
<rect x="328.15" y="562.00" width="6.10" height="5.96" fill="#efb92e" stroke="none" stroke-width="1" />
<rect x="328.15" y="567.96" width="6.10" height="21.73" fill="#b3122f" stroke="none" stroke-width="1" />
<rect x="328.15" y="589.69" width="6.10" height="21.15" fill="#2f4b82" stroke="none" stroke-width="1" />
<rect x="334.90" y="562.00" width="6.10" height="0.77" fill="#efb92e" stroke="none" stroke-width="1" />
<rect x="334.90" y="562.77" width="6.10" height="7.69" fill="#b3122f" stroke="none" stroke-width="1" />
<rect x="334.90" y="570.46" width="6.10" height="40.38" fill="#2f4b82" stroke="none" stroke-width="1" />
<rect x="341.65" y="562.00" width="6.10" height="0.38" fill="#efb92e" stroke="none" stroke-width="1" />
<rect x="341.65" y="562.38" width="6.10" height="4.62" fill="#b3122f" stroke="none" stroke-width="1" />
<rect x="341.65" y="567.00" width="6.10" height="43.85" fill="#2f4b82" stroke="none" stroke-width="1" />
<rect x="348.40" y="562.00" width="6.10" height="1.73" fill="#efb92e" stroke="none" stroke-width="1" />
<rect x="348.40" y="563.73" width="6.10" height="8.27" fill="#b3122f" stroke="none" stroke-width="1" />
<rect x="348.40" y="572.00" width="6.10" height="38.85" fill="#2f4b82" stroke="none" stroke-width="1" />
<rect x="358.45" y="562.00" width="6.10" height="1.35" fill="#efb92e" stroke="none" stroke-width="1" />
<rect x="358.45" y="563.35" width="6.10" height="4.62" fill="#b3122f" stroke="none" stroke-width="1" />
<rect x="358.45" y="567.96" width="6.10" height="42.88" fill="#2f4b82" stroke="none" stroke-width="1" />
<rect x="365.20" y="562.00" width="6.10" height="5.96" fill="#efb92e" stroke="none" stroke-width="1" />
<rect x="365.20" y="567.96" width="6.10" height="18.85" fill="#b3122f" stroke="none" stroke-width="1" />
<rect x="365.20" y="586.81" width="6.10" height="24.04" fill="#2f4b82" stroke="none" stroke-width="1" />
<rect x="371.95" y="562.00" width="6.10" height="4.04" fill="#efb92e" stroke="none" stroke-width="1" />
<rect x="371.95" y="566.04" width="6.10" height="29.42" fill="#b3122f" stroke="none" stroke-width="1" />
<rect x="371.95" y="595.46" width="6.10" height="15.38" fill="#2f4b82" stroke="none" stroke-width="1" />
<rect x="378.70" y="562.00" width="6.10" height="2.69" fill="#efb92e" stroke="none" stroke-width="1" />
<rect x="378.70" y="564.69" width="6.10" height="14.42" fill="#b3122f" stroke="none" stroke-width="1" />
<rect x="378.70" y="579.12" width="6.10" height="31.73" fill="#2f4b82" stroke="none" stroke-width="1" />
<rect x="385.45" y="562.00" width="6.10" height="1.73" fill="#efb92e" stroke="none" stroke-width="1" />
<rect x="385.45" y="563.73" width="6.10" height="13.46" fill="#b3122f" stroke="none" stroke-width="1" />
<rect x="385.45" y="577.19" width="6.10" height="33.65" fill="#2f4b82" stroke="none" stroke-width="1" />
<rect x="392.20" y="562.00" width="6.10" height="1.35" fill="#efb92e" stroke="none" stroke-width="1" />
<rect x="392.20" y="563.35" width="6.10" height="3.65" fill="#b3122f" stroke="none" stroke-width="1" />
<rect x="392.20" y="567.00" width="6.10" height="43.85" fill="#2f4b82" stroke="none" stroke-width="1" />
<rect x="398.95" y="562.00" width="6.10" height="1.73" fill="#efb92e" stroke="none" stroke-width="1" />
<rect x="398.95" y="563.73" width="6.10" height="5.77" fill="#b3122f" stroke="none" stroke-width="1" />
<rect x="398.95" y="569.50" width="6.10" height="41.35" fill="#2f4b82" stroke="none" stroke-width="1" />
<rect x="405.70" y="562.00" width="6.10" height="0.38" fill="#efb92e" stroke="none" stroke-width="1" />
<rect x="405.70" y="562.38" width="6.10" height="22.88" fill="#b3122f" stroke="none" stroke-width="1" />
<rect x="405.70" y="585.27" width="6.10" height="25.58" fill="#2f4b82" stroke="none" stroke-width="1" />
<rect x="415.75" y="562.00" width="6.10" height="0.38" fill="#efb92e" stroke="none" stroke-width="1" />
<rect x="415.75" y="562.38" width="6.10" height="39.81" fill="#b3122f" stroke="none" stroke-width="1" />
<rect x="415.75" y="602.19" width="6.10" height="8.65" fill="#2f4b82" stroke="none" stroke-width="1" />
<rect x="422.48" y="562.00" width="6.10" height="0.77" fill="#efb92e" stroke="none" stroke-width="1" />
<rect x="422.48" y="562.77" width="6.10" height="32.69" fill="#b3122f" stroke="none" stroke-width="1" />
<rect x="422.48" y="595.46" width="6.10" height="15.38" fill="#2f4b82" stroke="none" stroke-width="1" />
<rect x="429.21" y="562.00" width="6.10" height="0.38" fill="#efb92e" stroke="none" stroke-width="1" />
<rect x="429.21" y="562.38" width="6.10" height="33.65" fill="#b3122f" stroke="none" stroke-width="1" />
<rect x="429.21" y="596.04" width="6.10" height="14.81" fill="#2f4b82" stroke="none" stroke-width="1" />
<rect x="435.94" y="562.00" width="6.10" height="0.38" fill="#efb92e" stroke="none" stroke-width="1" />
<rect x="435.94" y="562.38" width="6.10" height="32.12" fill="#b3122f" stroke="none" stroke-width="1" />
<rect x="435.94" y="594.50" width="6.10" height="16.35" fill="#2f4b82" stroke="none" stroke-width="1" />
<rect x="442.67" y="562.00" width="6.10" height="0.38" fill="#efb92e" stroke="none" stroke-width="1" />
<rect x="442.67" y="562.38" width="6.10" height="40.19" fill="#b3122f" stroke="none" stroke-width="1" />
<rect x="442.67" y="602.58" width="6.10" height="8.27" fill="#2f4b82" stroke="none" stroke-width="1" />
<rect x="449.40" y="562.00" width="6.10" height="0.38" fill="#efb92e" stroke="none" stroke-width="1" />
<rect x="449.40" y="562.38" width="6.10" height="41.73" fill="#b3122f" stroke="none" stroke-width="1" />
<rect x="449.40" y="604.12" width="6.10" height="6.73" fill="#2f4b82" stroke="none" stroke-width="1" />
<rect x="459.35" y="562.00" width="6.10" height="3.08" fill="#efb92e" stroke="none" stroke-width="1" />
<rect x="459.35" y="565.08" width="6.10" height="25.00" fill="#b3122f" stroke="none" stroke-width="1" />
<rect x="459.35" y="590.08" width="6.10" height="20.77" fill="#2f4b82" stroke="none" stroke-width="1" />
<rect x="466.08" y="562.00" width="6.10" height="4.04" fill="#efb92e" stroke="none" stroke-width="1" />
<rect x="466.08" y="566.04" width="6.10" height="32.31" fill="#b3122f" stroke="none" stroke-width="1" />
<rect x="466.08" y="598.35" width="6.10" height="12.50" fill="#2f4b82" stroke="none" stroke-width="1" />
<rect x="472.81" y="562.00" width="6.10" height="4.62" fill="#efb92e" stroke="none" stroke-width="1" />
<rect x="472.81" y="566.62" width="6.10" height="35.58" fill="#b3122f" stroke="none" stroke-width="1" />
<rect x="472.81" y="602.19" width="6.10" height="8.65" fill="#2f4b82" stroke="none" stroke-width="1" />
<rect x="479.54" y="562.00" width="6.10" height="7.50" fill="#efb92e" stroke="none" stroke-width="1" />
<rect x="479.54" y="569.50" width="6.10" height="36.54" fill="#b3122f" stroke="none" stroke-width="1" />
<rect x="479.54" y="606.04" width="6.10" height="4.81" fill="#2f4b82" stroke="none" stroke-width="1" />
<rect x="486.27" y="562.00" width="6.10" height="3.65" fill="#efb92e" stroke="none" stroke-width="1" />
<rect x="486.27" y="565.65" width="6.10" height="41.73" fill="#b3122f" stroke="none" stroke-width="1" />
<rect x="486.27" y="607.38" width="6.10" height="3.46" fill="#2f4b82" stroke="none" stroke-width="1" />
<rect x="493.00" y="562.00" width="6.10" height="0.38" fill="#efb92e" stroke="none" stroke-width="1" />
<rect x="493.00" y="562.38" width="6.10" height="47.50" fill="#b3122f" stroke="none" stroke-width="1" />
<rect x="493.00" y="609.88" width="6.10" height="0.96" fill="#2f4b82" stroke="none" stroke-width="1" />
<rect x="301.15" y="617.58" width="6.10" height="6.92" fill="#efb92e" stroke="none" stroke-width="1" />
<rect x="301.15" y="624.50" width="6.10" height="25.96" fill="#b3122f" stroke="none" stroke-width="1" />
<rect x="301.15" y="650.46" width="6.10" height="15.96" fill="#2f4b82" stroke="none" stroke-width="1" />
<rect x="307.90" y="617.58" width="6.10" height="3.08" fill="#efb92e" stroke="none" stroke-width="1" />
<rect x="307.90" y="620.65" width="6.10" height="11.15" fill="#b3122f" stroke="none" stroke-width="1" />
<rect x="307.90" y="631.81" width="6.10" height="34.62" fill="#2f4b82" stroke="none" stroke-width="1" />
<rect x="314.65" y="617.58" width="6.10" height="6.35" fill="#efb92e" stroke="none" stroke-width="1" />
<rect x="314.65" y="623.92" width="6.10" height="23.65" fill="#b3122f" stroke="none" stroke-width="1" />
<rect x="314.65" y="647.58" width="6.10" height="18.85" fill="#2f4b82" stroke="none" stroke-width="1" />
<rect x="321.40" y="617.58" width="6.10" height="6.92" fill="#efb92e" stroke="none" stroke-width="1" />
<rect x="321.40" y="624.50" width="6.10" height="5.77" fill="#b3122f" stroke="none" stroke-width="1" />
<rect x="321.40" y="630.27" width="6.10" height="36.15" fill="#2f4b82" stroke="none" stroke-width="1" />
<rect x="328.15" y="617.58" width="6.10" height="8.85" fill="#efb92e" stroke="none" stroke-width="1" />
<rect x="328.15" y="626.42" width="6.10" height="13.46" fill="#b3122f" stroke="none" stroke-width="1" />
<rect x="328.15" y="639.88" width="6.10" height="26.54" fill="#2f4b82" stroke="none" stroke-width="1" />
<rect x="334.90" y="617.58" width="6.10" height="3.08" fill="#efb92e" stroke="none" stroke-width="1" />
<rect x="334.90" y="620.65" width="6.10" height="5.77" fill="#b3122f" stroke="none" stroke-width="1" />
<rect x="334.90" y="626.42" width="6.10" height="40.00" fill="#2f4b82" stroke="none" stroke-width="1" />
<rect x="341.65" y="617.58" width="6.10" height="2.50" fill="#efb92e" stroke="none" stroke-width="1" />
<rect x="341.65" y="620.08" width="6.10" height="9.23" fill="#b3122f" stroke="none" stroke-width="1" />
<rect x="341.65" y="629.31" width="6.10" height="37.12" fill="#2f4b82" stroke="none" stroke-width="1" />
<rect x="348.40" y="617.58" width="6.10" height="5.00" fill="#efb92e" stroke="none" stroke-width="1" />
<rect x="348.40" y="622.58" width="6.10" height="8.65" fill="#b3122f" stroke="none" stroke-width="1" />
<rect x="348.40" y="631.23" width="6.10" height="35.19" fill="#2f4b82" stroke="none" stroke-width="1" />
<rect x="358.45" y="617.58" width="6.10" height="5.00" fill="#efb92e" stroke="none" stroke-width="1" />
<rect x="358.45" y="622.58" width="6.10" height="11.15" fill="#b3122f" stroke="none" stroke-width="1" />
<rect x="358.45" y="633.73" width="6.10" height="32.69" fill="#2f4b82" stroke="none" stroke-width="1" />
<rect x="365.20" y="617.58" width="6.10" height="4.04" fill="#efb92e" stroke="none" stroke-width="1" />
<rect x="365.20" y="621.62" width="6.10" height="17.88" fill="#b3122f" stroke="none" stroke-width="1" />
<rect x="365.20" y="639.50" width="6.10" height="26.92" fill="#2f4b82" stroke="none" stroke-width="1" />
<rect x="371.95" y="617.58" width="6.10" height="3.65" fill="#efb92e" stroke="none" stroke-width="1" />
<rect x="371.95" y="621.23" width="6.10" height="23.46" fill="#b3122f" stroke="none" stroke-width="1" />
<rect x="371.95" y="644.69" width="6.10" height="21.73" fill="#2f4b82" stroke="none" stroke-width="1" />
<rect x="378.70" y="617.58" width="6.10" height="3.08" fill="#efb92e" stroke="none" stroke-width="1" />
<rect x="378.70" y="620.65" width="6.10" height="16.35" fill="#b3122f" stroke="none" stroke-width="1" />
<rect x="378.70" y="637.00" width="6.10" height="29.42" fill="#2f4b82" stroke="none" stroke-width="1" />
<rect x="385.45" y="617.58" width="6.10" height="1.54" fill="#efb92e" stroke="none" stroke-width="1" />
<rect x="385.45" y="619.12" width="6.10" height="11.73" fill="#b3122f" stroke="none" stroke-width="1" />
<rect x="385.45" y="630.85" width="6.10" height="35.58" fill="#2f4b82" stroke="none" stroke-width="1" />
<rect x="392.20" y="617.58" width="6.10" height="9.42" fill="#efb92e" stroke="none" stroke-width="1" />
<rect x="392.20" y="627.00" width="6.10" height="8.08" fill="#b3122f" stroke="none" stroke-width="1" />
<rect x="392.20" y="635.08" width="6.10" height="31.35" fill="#2f4b82" stroke="none" stroke-width="1" />
<rect x="398.95" y="617.58" width="6.10" height="2.12" fill="#efb92e" stroke="none" stroke-width="1" />
<rect x="398.95" y="619.69" width="6.10" height="12.50" fill="#b3122f" stroke="none" stroke-width="1" />
<rect x="398.95" y="632.19" width="6.10" height="34.23" fill="#2f4b82" stroke="none" stroke-width="1" />
<rect x="405.70" y="617.58" width="6.10" height="1.15" fill="#efb92e" stroke="none" stroke-width="1" />
<rect x="405.70" y="618.73" width="6.10" height="40.38" fill="#b3122f" stroke="none" stroke-width="1" />
<rect x="405.70" y="659.12" width="6.10" height="7.31" fill="#2f4b82" stroke="none" stroke-width="1" />
<rect x="415.75" y="617.58" width="6.10" height="0.77" fill="#efb92e" stroke="none" stroke-width="1" />
<rect x="415.75" y="618.35" width="6.10" height="9.42" fill="#b3122f" stroke="none" stroke-width="1" />
<rect x="415.75" y="627.77" width="6.10" height="38.65" fill="#2f4b82" stroke="none" stroke-width="1" />
<rect x="422.48" y="617.58" width="6.10" height="1.15" fill="#efb92e" stroke="none" stroke-width="1" />
<rect x="422.48" y="618.73" width="6.10" height="47.69" fill="#b3122f" stroke="none" stroke-width="1" />
<rect x="429.21" y="617.58" width="6.10" height="3.08" fill="#efb92e" stroke="none" stroke-width="1" />
<rect x="429.21" y="620.65" width="6.10" height="45.77" fill="#b3122f" stroke="none" stroke-width="1" />
<rect x="435.94" y="617.58" width="6.10" height="0.77" fill="#efb92e" stroke="none" stroke-width="1" />
<rect x="435.94" y="618.35" width="6.10" height="48.08" fill="#b3122f" stroke="none" stroke-width="1" />
<rect x="442.67" y="617.58" width="6.10" height="3.08" fill="#efb92e" stroke="none" stroke-width="1" />
<rect x="442.67" y="620.65" width="6.10" height="45.77" fill="#b3122f" stroke="none" stroke-width="1" />
<rect x="449.40" y="617.58" width="6.10" height="1.15" fill="#efb92e" stroke="none" stroke-width="1" />
<rect x="449.40" y="618.73" width="6.10" height="47.69" fill="#b3122f" stroke="none" stroke-width="1" />
<rect x="459.35" y="617.58" width="6.10" height="2.69" fill="#efb92e" stroke="none" stroke-width="1" />
<rect x="459.35" y="620.27" width="6.10" height="23.46" fill="#b3122f" stroke="none" stroke-width="1" />
<rect x="459.35" y="643.73" width="6.10" height="22.69" fill="#2f4b82" stroke="none" stroke-width="1" />
<rect x="466.08" y="617.58" width="6.10" height="4.42" fill="#efb92e" stroke="none" stroke-width="1" />
<rect x="466.08" y="622.00" width="6.10" height="25.58" fill="#b3122f" stroke="none" stroke-width="1" />
<rect x="466.08" y="647.58" width="6.10" height="18.85" fill="#2f4b82" stroke="none" stroke-width="1" />
<rect x="472.81" y="617.58" width="6.10" height="3.08" fill="#efb92e" stroke="none" stroke-width="1" />
<rect x="472.81" y="620.65" width="6.10" height="35.58" fill="#b3122f" stroke="none" stroke-width="1" />
<rect x="472.81" y="656.23" width="6.10" height="10.19" fill="#2f4b82" stroke="none" stroke-width="1" />
<rect x="479.54" y="617.58" width="6.10" height="12.12" fill="#efb92e" stroke="none" stroke-width="1" />
<rect x="479.54" y="629.69" width="6.10" height="19.81" fill="#b3122f" stroke="none" stroke-width="1" />
<rect x="479.54" y="649.50" width="6.10" height="16.92" fill="#2f4b82" stroke="none" stroke-width="1" />
<rect x="486.27" y="617.58" width="6.10" height="7.88" fill="#efb92e" stroke="none" stroke-width="1" />
<rect x="486.27" y="625.46" width="6.10" height="10.58" fill="#b3122f" stroke="none" stroke-width="1" />
<rect x="486.27" y="636.04" width="6.10" height="30.38" fill="#2f4b82" stroke="none" stroke-width="1" />
<rect x="493.00" y="617.58" width="6.10" height="5.00" fill="#efb92e" stroke="none" stroke-width="1" />
<rect x="493.00" y="622.58" width="6.10" height="43.85" fill="#b3122f" stroke="none" stroke-width="1" />
<rect x="300.30" y="492.00" width="55.80" height="11.60" fill="#e6e6e6" stroke="#555555" stroke-width="1.0" />
<text x="328.20" y="500.60" font-size="7.4" text-anchor="middle" font-weight="normal" font-style="normal" fill="#1f1f1f" ><tspan font-style="italic">vector</tspan></text>
<rect x="357.80" y="492.00" width="55.00" height="11.60" fill="#e6e6e6" stroke="#555555" stroke-width="1.0" />
<text x="385.30" y="500.60" font-size="7.4" text-anchor="middle" font-weight="normal" font-style="normal" fill="#1f1f1f" ><tspan font-style="italic">H3.3</tspan> WT</text>
<rect x="414.80" y="492.00" width="41.80" height="11.60" fill="#e6e6e6" stroke="#555555" stroke-width="1.0" />
<text x="435.70" y="500.60" font-size="7.4" text-anchor="middle" font-weight="normal" font-style="normal" fill="#1f1f1f" ><tspan font-style="italic">K9M</tspan></text>
<rect x="458.30" y="492.00" width="41.70" height="11.60" fill="#e6e6e6" stroke="#555555" stroke-width="1.0" />
<text x="479.15" y="500.60" font-size="7.4" text-anchor="middle" font-weight="normal" font-style="normal" fill="#1f1f1f" ><tspan font-style="italic">K27M</tspan></text>
<rect x="501.20" y="504.30" width="10.60" height="52.40" fill="#e6e6e6" stroke="#555555" stroke-width="1.0" />
<text transform="translate(509.30,530.50) rotate(-90)" font-size="8.0" text-anchor="middle" font-weight="normal" font-style="normal" fill="#1f1f1f" >wk6</text>
<rect x="300.30" y="504.30" width="55.80" height="52.40" fill="none" stroke="#555555" stroke-width="1.35" />
<rect x="357.80" y="504.30" width="55.00" height="52.40" fill="none" stroke="#555555" stroke-width="1.35" />
<rect x="414.80" y="504.30" width="41.80" height="52.40" fill="none" stroke="#555555" stroke-width="1.35" />
<rect x="458.30" y="504.30" width="41.70" height="52.40" fill="none" stroke="#555555" stroke-width="1.35" />
<rect x="501.20" y="559.50" width="10.60" height="52.50" fill="#e6e6e6" stroke="#555555" stroke-width="1.0" />
<text transform="translate(509.30,585.75) rotate(-90)" font-size="8.0" text-anchor="middle" font-weight="normal" font-style="normal" fill="#1f1f1f" >wk12</text>
<rect x="300.30" y="559.50" width="55.80" height="52.50" fill="none" stroke="#555555" stroke-width="1.35" />
<rect x="357.80" y="559.50" width="55.00" height="52.50" fill="none" stroke="#555555" stroke-width="1.35" />
<rect x="414.80" y="559.50" width="41.80" height="52.50" fill="none" stroke="#555555" stroke-width="1.35" />
<rect x="458.30" y="559.50" width="41.70" height="52.50" fill="none" stroke="#555555" stroke-width="1.35" />
<rect x="501.20" y="614.80" width="10.60" height="52.60" fill="#e6e6e6" stroke="#555555" stroke-width="1.0" />
<text transform="translate(509.30,641.10) rotate(-90)" font-size="8.0" text-anchor="middle" font-weight="normal" font-style="normal" fill="#1f1f1f" >wk24</text>
<rect x="300.30" y="614.80" width="55.80" height="52.60" fill="none" stroke="#555555" stroke-width="1.35" />
<rect x="357.80" y="614.80" width="55.00" height="52.60" fill="none" stroke="#555555" stroke-width="1.35" />
<rect x="414.80" y="614.80" width="41.80" height="52.60" fill="none" stroke="#555555" stroke-width="1.35" />
<rect x="458.30" y="614.80" width="41.70" height="52.60" fill="none" stroke="#555555" stroke-width="1.35" />
<line x1="298.10" y1="506.60" x2="300.30" y2="506.60" stroke="#222" stroke-width="0.8" />
<text x="296.80" y="509.05" font-size="6.9" text-anchor="end" font-weight="normal" font-style="normal" fill="#1f1f1f" >1</text>
<line x1="298.10" y1="518.83" x2="300.30" y2="518.83" stroke="#222" stroke-width="0.8" />
<text x="296.80" y="521.28" font-size="6.9" text-anchor="end" font-weight="normal" font-style="normal" fill="#1f1f1f" >0.75</text>
<line x1="298.10" y1="531.05" x2="300.30" y2="531.05" stroke="#222" stroke-width="0.8" />
<text x="296.80" y="533.50" font-size="6.9" text-anchor="end" font-weight="normal" font-style="normal" fill="#1f1f1f" >0.50</text>
<line x1="298.10" y1="543.27" x2="300.30" y2="543.27" stroke="#222" stroke-width="0.8" />
<text x="296.80" y="545.73" font-size="6.9" text-anchor="end" font-weight="normal" font-style="normal" fill="#1f1f1f" >0.25</text>
<line x1="298.10" y1="555.50" x2="300.30" y2="555.50" stroke="#222" stroke-width="0.8" />
<text x="296.80" y="557.95" font-size="6.9" text-anchor="end" font-weight="normal" font-style="normal" fill="#1f1f1f" >0</text>
<line x1="298.10" y1="562.00" x2="300.30" y2="562.00" stroke="#222" stroke-width="0.8" />
<text x="296.80" y="564.45" font-size="6.9" text-anchor="end" font-weight="normal" font-style="normal" fill="#1f1f1f" >1</text>
<line x1="298.10" y1="574.25" x2="300.30" y2="574.25" stroke="#222" stroke-width="0.8" />
<text x="296.80" y="576.70" font-size="6.9" text-anchor="end" font-weight="normal" font-style="normal" fill="#1f1f1f" >0.75</text>
<line x1="298.10" y1="586.50" x2="300.30" y2="586.50" stroke="#222" stroke-width="0.8" />
<text x="296.80" y="588.95" font-size="6.9" text-anchor="end" font-weight="normal" font-style="normal" fill="#1f1f1f" >0.50</text>
<line x1="298.10" y1="598.75" x2="300.30" y2="598.75" stroke="#222" stroke-width="0.8" />
<text x="296.80" y="601.20" font-size="6.9" text-anchor="end" font-weight="normal" font-style="normal" fill="#1f1f1f" >0.25</text>
<line x1="298.10" y1="611.00" x2="300.30" y2="611.00" stroke="#222" stroke-width="0.8" />
<text x="296.80" y="613.45" font-size="6.9" text-anchor="end" font-weight="normal" font-style="normal" fill="#1f1f1f" >0</text>
<line x1="298.10" y1="617.60" x2="300.30" y2="617.60" stroke="#222" stroke-width="0.8" />
<text x="296.80" y="620.05" font-size="6.9" text-anchor="end" font-weight="normal" font-style="normal" fill="#1f1f1f" >1</text>
<line x1="298.10" y1="629.83" x2="300.30" y2="629.83" stroke="#222" stroke-width="0.8" />
<text x="296.80" y="632.28" font-size="6.9" text-anchor="end" font-weight="normal" font-style="normal" fill="#1f1f1f" >0.75</text>
<line x1="298.10" y1="642.05" x2="300.30" y2="642.05" stroke="#222" stroke-width="0.8" />
<text x="296.80" y="644.50" font-size="6.9" text-anchor="end" font-weight="normal" font-style="normal" fill="#1f1f1f" >0.50</text>
<line x1="298.10" y1="654.27" x2="300.30" y2="654.27" stroke="#222" stroke-width="0.8" />
<text x="296.80" y="656.73" font-size="6.9" text-anchor="end" font-weight="normal" font-style="normal" fill="#1f1f1f" >0.25</text>
<line x1="298.10" y1="666.50" x2="300.30" y2="666.50" stroke="#222" stroke-width="0.8" />
<text x="296.80" y="668.95" font-size="6.9" text-anchor="end" font-weight="normal" font-style="normal" fill="#1f1f1f" >0</text>
<line x1="304.20" y1="667.90" x2="304.20" y2="670.20" stroke="#1d2340" stroke-width="0.8" />
<text transform="translate(306.45,673.90) rotate(-90)" font-size="6.4" text-anchor="end" font-weight="normal" font-style="normal" fill="#2a2a2a" >19617</text>
<line x1="310.95" y1="667.90" x2="310.95" y2="670.20" stroke="#1d2340" stroke-width="0.8" />
<text transform="translate(313.20,673.90) rotate(-90)" font-size="6.4" text-anchor="end" font-weight="normal" font-style="normal" fill="#2a2a2a" >19615</text>
<line x1="317.70" y1="667.90" x2="317.70" y2="670.20" stroke="#1d2340" stroke-width="0.8" />
<text transform="translate(319.95,673.90) rotate(-90)" font-size="6.4" text-anchor="end" font-weight="normal" font-style="normal" fill="#2a2a2a" >19618</text>
<line x1="324.45" y1="667.90" x2="324.45" y2="670.20" stroke="#1d2340" stroke-width="0.8" />
<text transform="translate(326.70,673.90) rotate(-90)" font-size="6.4" text-anchor="end" font-weight="normal" font-style="normal" fill="#2a2a2a" >19614</text>
<line x1="331.20" y1="667.90" x2="331.20" y2="670.20" stroke="#1d2340" stroke-width="0.8" />
<text transform="translate(333.45,673.90) rotate(-90)" font-size="6.4" text-anchor="end" font-weight="normal" font-style="normal" fill="#2a2a2a" >19616</text>
<line x1="337.95" y1="667.90" x2="337.95" y2="670.20" stroke="#1d2340" stroke-width="0.8" />
<text transform="translate(340.20,673.90) rotate(-90)" font-size="6.4" text-anchor="end" font-weight="normal" font-style="normal" fill="#2a2a2a" >19612</text>
<line x1="344.70" y1="667.90" x2="344.70" y2="670.20" stroke="#1d2340" stroke-width="0.8" />
<text transform="translate(346.95,673.90) rotate(-90)" font-size="6.4" text-anchor="end" font-weight="normal" font-style="normal" fill="#2a2a2a" >19619</text>
<line x1="351.45" y1="667.90" x2="351.45" y2="670.20" stroke="#1d2340" stroke-width="0.8" />
<text transform="translate(353.70,673.90) rotate(-90)" font-size="6.4" text-anchor="end" font-weight="normal" font-style="normal" fill="#2a2a2a" >19613</text>
<line x1="361.50" y1="667.90" x2="361.50" y2="670.20" stroke="#1d2340" stroke-width="0.8" />
<text transform="translate(363.75,673.90) rotate(-90)" font-size="6.4" text-anchor="end" font-weight="normal" font-style="normal" fill="#2a2a2a" >19623</text>
<line x1="368.25" y1="667.90" x2="368.25" y2="670.20" stroke="#1d2340" stroke-width="0.8" />
<text transform="translate(370.50,673.90) rotate(-90)" font-size="6.4" text-anchor="end" font-weight="normal" font-style="normal" fill="#2a2a2a" >19621</text>
<line x1="375.00" y1="667.90" x2="375.00" y2="670.20" stroke="#1d2340" stroke-width="0.8" />
<text transform="translate(377.25,673.90) rotate(-90)" font-size="6.4" text-anchor="end" font-weight="normal" font-style="normal" fill="#2a2a2a" >19627</text>
<line x1="381.75" y1="667.90" x2="381.75" y2="670.20" stroke="#1d2340" stroke-width="0.8" />
<text transform="translate(384.00,673.90) rotate(-90)" font-size="6.4" text-anchor="end" font-weight="normal" font-style="normal" fill="#2a2a2a" >19626</text>
<line x1="388.50" y1="667.90" x2="388.50" y2="670.20" stroke="#1d2340" stroke-width="0.8" />
<text transform="translate(390.75,673.90) rotate(-90)" font-size="6.4" text-anchor="end" font-weight="normal" font-style="normal" fill="#2a2a2a" >19624</text>
<line x1="395.25" y1="667.90" x2="395.25" y2="670.20" stroke="#1d2340" stroke-width="0.8" />
<text transform="translate(397.50,673.90) rotate(-90)" font-size="6.4" text-anchor="end" font-weight="normal" font-style="normal" fill="#2a2a2a" >19625</text>
<line x1="402.00" y1="667.90" x2="402.00" y2="670.20" stroke="#1d2340" stroke-width="0.8" />
<text transform="translate(404.25,673.90) rotate(-90)" font-size="6.4" text-anchor="end" font-weight="normal" font-style="normal" fill="#2a2a2a" >19622</text>
<line x1="408.75" y1="667.90" x2="408.75" y2="670.20" stroke="#1d2340" stroke-width="0.8" />
<text transform="translate(411.00,673.90) rotate(-90)" font-size="6.4" text-anchor="end" font-weight="normal" font-style="normal" fill="#2a2a2a" >19620</text>
<line x1="418.80" y1="667.90" x2="418.80" y2="670.20" stroke="#1d2340" stroke-width="0.8" />
<text transform="translate(421.05,673.90) rotate(-90)" font-size="6.4" text-anchor="end" font-weight="normal" font-style="normal" fill="#2a2a2a" >19631</text>
<line x1="425.53" y1="667.90" x2="425.53" y2="670.20" stroke="#1d2340" stroke-width="0.8" />
<text transform="translate(427.78,673.90) rotate(-90)" font-size="6.4" text-anchor="end" font-weight="normal" font-style="normal" fill="#2a2a2a" >19634</text>
<line x1="432.26" y1="667.90" x2="432.26" y2="670.20" stroke="#1d2340" stroke-width="0.8" />
<text transform="translate(434.51,673.90) rotate(-90)" font-size="6.4" text-anchor="end" font-weight="normal" font-style="normal" fill="#2a2a2a" >19630</text>
<line x1="438.99" y1="667.90" x2="438.99" y2="670.20" stroke="#1d2340" stroke-width="0.8" />
<text transform="translate(441.24,673.90) rotate(-90)" font-size="6.4" text-anchor="end" font-weight="normal" font-style="normal" fill="#2a2a2a" >19628</text>
<line x1="445.72" y1="667.90" x2="445.72" y2="670.20" stroke="#1d2340" stroke-width="0.8" />
<text transform="translate(447.97,673.90) rotate(-90)" font-size="6.4" text-anchor="end" font-weight="normal" font-style="normal" fill="#2a2a2a" >19632</text>
<line x1="452.45" y1="667.90" x2="452.45" y2="670.20" stroke="#1d2340" stroke-width="0.8" />
<text transform="translate(454.70,673.90) rotate(-90)" font-size="6.4" text-anchor="end" font-weight="normal" font-style="normal" fill="#2a2a2a" >19629</text>
<line x1="462.40" y1="667.90" x2="462.40" y2="670.20" stroke="#1d2340" stroke-width="0.8" />
<text transform="translate(464.65,673.90) rotate(-90)" font-size="6.4" text-anchor="end" font-weight="normal" font-style="normal" fill="#2a2a2a" >19637</text>
<line x1="469.13" y1="667.90" x2="469.13" y2="670.20" stroke="#1d2340" stroke-width="0.8" />
<text transform="translate(471.38,673.90) rotate(-90)" font-size="6.4" text-anchor="end" font-weight="normal" font-style="normal" fill="#2a2a2a" >19639</text>
<line x1="475.86" y1="667.90" x2="475.86" y2="670.20" stroke="#1d2340" stroke-width="0.8" />
<text transform="translate(478.11,673.90) rotate(-90)" font-size="6.4" text-anchor="end" font-weight="normal" font-style="normal" fill="#2a2a2a" >19636</text>
<line x1="482.59" y1="667.90" x2="482.59" y2="670.20" stroke="#1d2340" stroke-width="0.8" />
<text transform="translate(484.84,673.90) rotate(-90)" font-size="6.4" text-anchor="end" font-weight="normal" font-style="normal" fill="#2a2a2a" >19640</text>
<line x1="489.32" y1="667.90" x2="489.32" y2="670.20" stroke="#1d2340" stroke-width="0.8" />
<text transform="translate(491.57,673.90) rotate(-90)" font-size="6.4" text-anchor="end" font-weight="normal" font-style="normal" fill="#2a2a2a" >19638</text>
<line x1="496.05" y1="667.90" x2="496.05" y2="670.20" stroke="#1d2340" stroke-width="0.8" />
<text transform="translate(498.30,673.90) rotate(-90)" font-size="6.4" text-anchor="end" font-weight="normal" font-style="normal" fill="#2a2a2a" >19641</text>
</svg>
<div class="bd" style="left:0;top:0;width:520px;height:1.2px"></div><div class="bd" style="left:0;top:0;width:1.1px;height:700px"></div><div class="bd" style="left:518.1px;top:0;width:1.9px;height:700px"></div><div class="bd" style="left:0;top:698.1px;width:520px;height:1.9px"></div>
</body></html>
